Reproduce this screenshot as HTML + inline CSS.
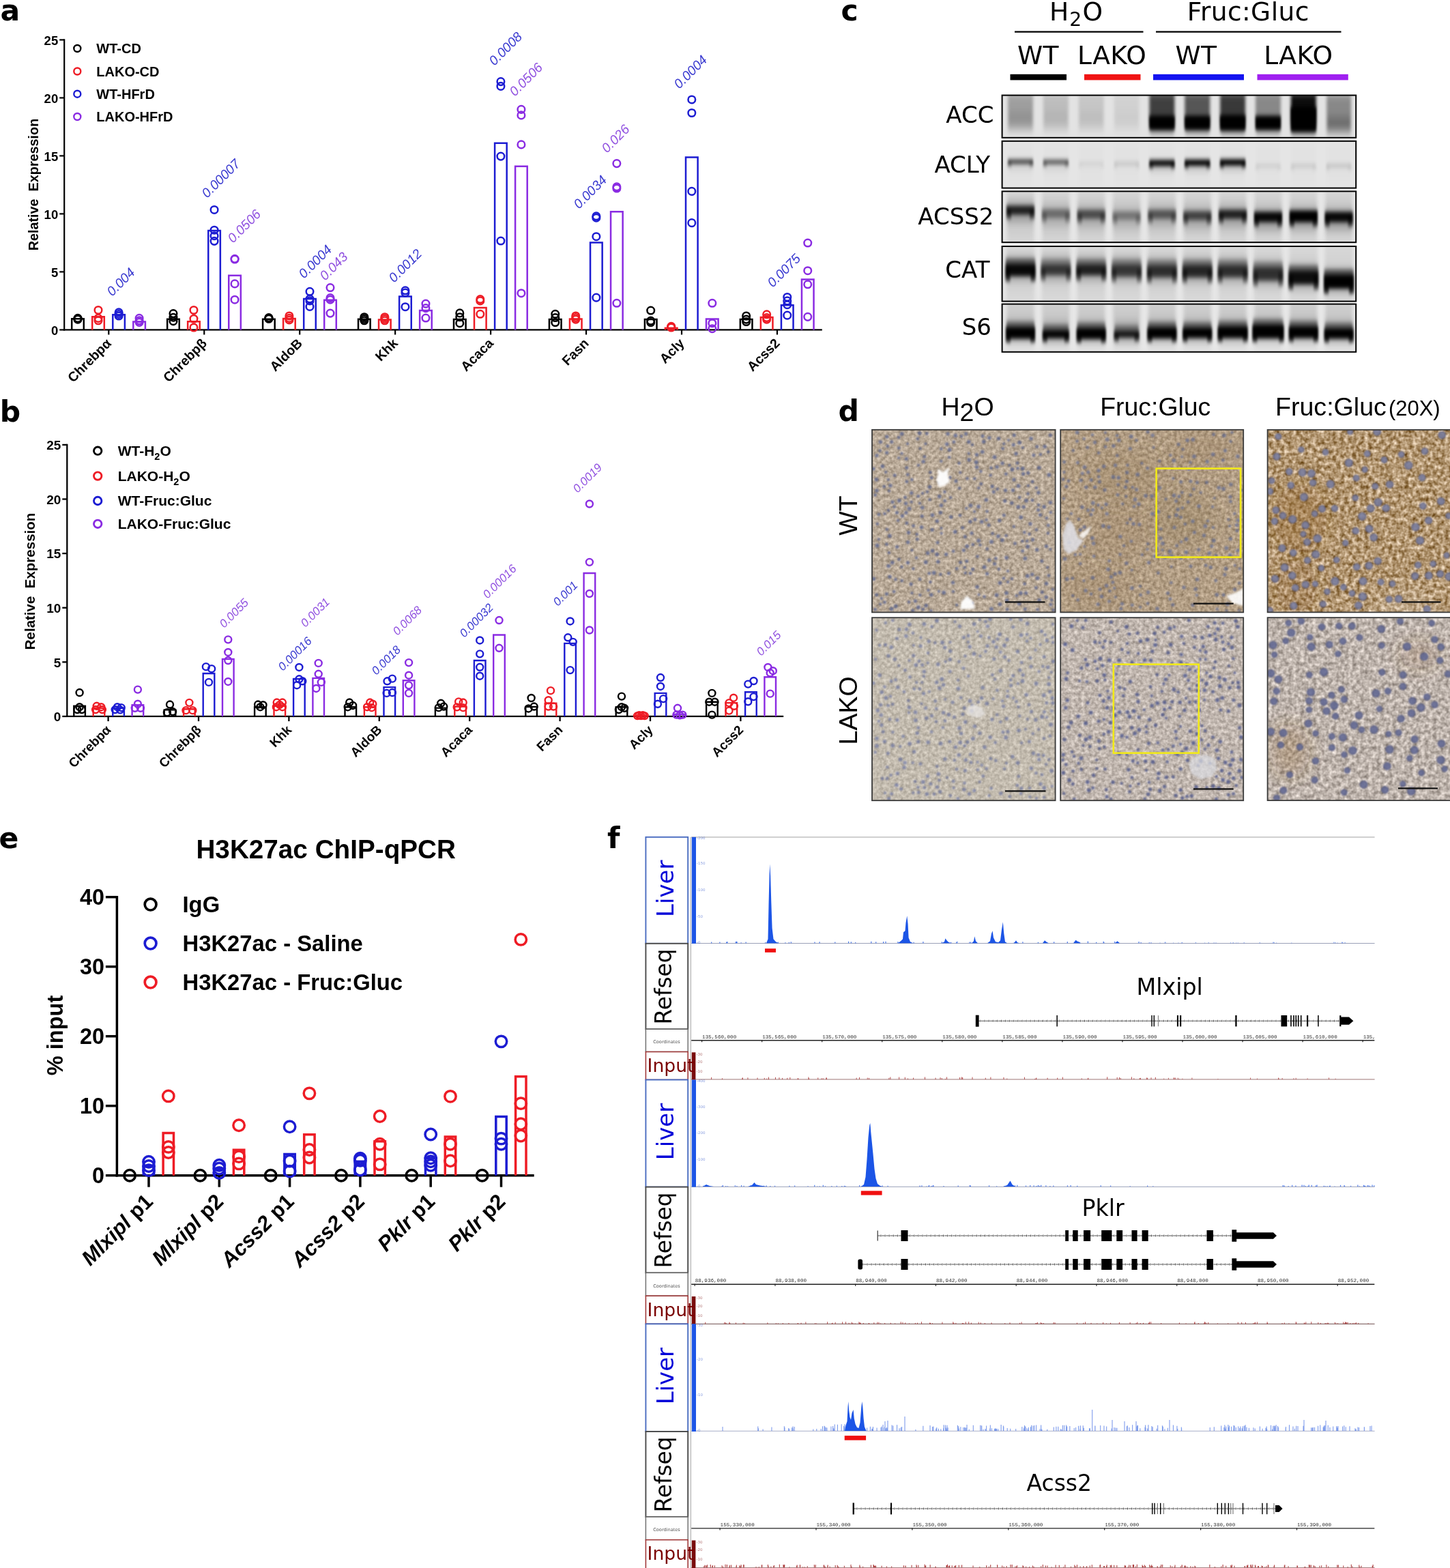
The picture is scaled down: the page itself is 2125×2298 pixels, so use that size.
<!DOCTYPE html>
<html lang="en">
<head>
<meta charset="utf-8">
<title>Figure</title>
<style>
html,body{margin:0;padding:0;background:#fff;}
body{width:2125px;height:2298px;overflow:hidden;}
svg{display:block;}
text{white-space:pre;}
</style>
</head>
<body>
<svg width="2125" height="2298" viewBox="0 0 2125 2298">
<defs>
<filter id="bl2" x="-20%" y="-80%" width="140%" height="260%"><feGaussianBlur stdDeviation="1.7 3"/></filter>
<filter id="bl4" x="-30%" y="-80%" width="160%" height="260%"><feGaussianBlur stdDeviation="2.2 7"/></filter>
<filter id="bl6" x="-30%" y="-50%" width="160%" height="200%"><feGaussianBlur stdDeviation="2.5 10"/></filter>
<clipPath id="bc0"><rect x="1468.6" y="139.6" width="518.6" height="62.2"/></clipPath>
<clipPath id="bc1"><rect x="1468.6" y="206.8" width="518.6" height="68.8"/></clipPath>
<clipPath id="bc2"><rect x="1468.6" y="280.4" width="518.6" height="74.8"/></clipPath>
<clipPath id="bc3"><rect x="1468.6" y="361" width="518.6" height="80.6"/></clipPath>
<clipPath id="bc4"><rect x="1468.6" y="445.6" width="518.6" height="70.2"/></clipPath>
<filter id="nbl" x="-5%" y="-5%" width="110%" height="110%"><feGaussianBlur stdDeviation="0.8"/></filter>
<filter id="ibl" x="-50%" y="-50%" width="200%" height="200%"><feGaussianBlur stdDeviation="12"/></filter>
<filter id="wbl" x="-50%" y="-50%" width="200%" height="200%"><feGaussianBlur stdDeviation="1.5"/></filter>
<filter id="tx0" x="0" y="0" width="100%" height="100%" color-interpolation-filters="sRGB"><feTurbulence type="fractalNoise" baseFrequency="0.2" numOctaves="2" seed="11"/><feColorMatrix type="matrix" values="0.43 0 0 0 0.51  0.43 0 0 0 0.45  0.43 0 0 0 0.38  0 0 0 0 1"/></filter><clipPath id="ic0"><rect x="1278" y="629.8" width="268.6" height="267.6"/></clipPath>
<filter id="tx1" x="0" y="0" width="100%" height="100%" color-interpolation-filters="sRGB"><feTurbulence type="fractalNoise" baseFrequency="0.2" numOctaves="2" seed="12"/><feColorMatrix type="matrix" values="0.4 0 0 0 0.5  0.4 0 0 0 0.42  0.4 0 0 0 0.32  0 0 0 0 1"/></filter><clipPath id="ic1"><rect x="1554.2" y="629.8" width="268" height="267.6"/></clipPath>
<filter id="tx2" x="0" y="0" width="100%" height="100%" color-interpolation-filters="sRGB"><feTurbulence type="fractalNoise" baseFrequency="0.17" numOctaves="2" seed="13"/><feColorMatrix type="matrix" values="0.78 0 0 0 0.31  0.86 0 0 0 0.16  0.99 0 0 0 -0.05  0 0 0 0 1"/></filter><clipPath id="ic2"><rect x="1857.6" y="629.8" width="268.4" height="267.6"/></clipPath>
<filter id="tx3" x="0" y="0" width="100%" height="100%" color-interpolation-filters="sRGB"><feTurbulence type="fractalNoise" baseFrequency="0.2" numOctaves="2" seed="14"/><feColorMatrix type="matrix" values="0.33 0 0 0 0.6  0.33 0 0 0 0.57  0.33 0 0 0 0.52  0 0 0 0 1"/></filter><clipPath id="ic3"><rect x="1278" y="905.2" width="268.6" height="268"/></clipPath>
<filter id="tx4" x="0" y="0" width="100%" height="100%" color-interpolation-filters="sRGB"><feTurbulence type="fractalNoise" baseFrequency="0.2" numOctaves="2" seed="15"/><feColorMatrix type="matrix" values="0.45 0 0 0 0.53  0.45 0 0 0 0.49  0.45 0 0 0 0.46  0 0 0 0 1"/></filter><clipPath id="ic4"><rect x="1554.2" y="905.2" width="268" height="268"/></clipPath>
<filter id="tx5" x="0" y="0" width="100%" height="100%" color-interpolation-filters="sRGB"><feTurbulence type="fractalNoise" baseFrequency="0.17" numOctaves="2" seed="16"/><feColorMatrix type="matrix" values="0.59 0 0 0 0.45  0.59 0 0 0 0.41  0.59 0 0 0 0.38  0 0 0 0 1"/></filter><clipPath id="ic5"><rect x="1857.6" y="905.2" width="268.4" height="268"/></clipPath>
<clipPath id="tclip"><rect x="1010" y="1200" width="1004.6" height="1100"/></clipPath><filter id="tbl" x="-2%" y="-20%" width="104%" height="140%"><feGaussianBlur stdDeviation="0.45"/></filter>
</defs>
<rect width="2125" height="2298" fill="#fff"/>
<line x1="94.2" y1="57.3" x2="94.2" y2="484.5" stroke="#000" stroke-width="2.2"/>
<line x1="93.1" y1="483.4" x2="1204.8" y2="483.4" stroke="#000" stroke-width="2.2"/>
<path d="M105.2 483.4 V467.25 H122.8 V483.4" fill="none" stroke="#000000" stroke-width="2.5"/><circle cx="114" cy="466.4" r="5.3" fill="none" stroke="#000000" stroke-width="2.5"/><circle cx="114" cy="467.25" r="5.3" fill="none" stroke="#000000" stroke-width="2.5"/><circle cx="114" cy="468.1" r="5.3" fill="none" stroke="#000000" stroke-width="2.5"/><path d="M135.2 483.4 V464.36 H152.8 V483.4" fill="none" stroke="#ee1c25" stroke-width="2.5"/><circle cx="144" cy="454.5" r="5.3" fill="none" stroke="#ee1c25" stroke-width="2.5"/><circle cx="144" cy="466.4" r="5.3" fill="none" stroke="#ee1c25" stroke-width="2.5"/><circle cx="144" cy="469.8" r="5.3" fill="none" stroke="#ee1c25" stroke-width="2.5"/><path d="M165.3 483.4 V461.3 H182.9 V483.4" fill="none" stroke="#1c1cd2" stroke-width="2.5"/><circle cx="174.1" cy="457.9" r="5.3" fill="none" stroke="#1c1cd2" stroke-width="2.5"/><circle cx="174.1" cy="460.45" r="5.3" fill="none" stroke="#1c1cd2" stroke-width="2.5"/><circle cx="174.1" cy="463" r="5.3" fill="none" stroke="#1c1cd2" stroke-width="2.5"/><path d="M195.3 483.4 V471.5 H212.9 V483.4" fill="none" stroke="#8a2be2" stroke-width="2.5"/><circle cx="204.1" cy="466.4" r="5.3" fill="none" stroke="#8a2be2" stroke-width="2.5"/><circle cx="204.1" cy="469.8" r="5.3" fill="none" stroke="#8a2be2" stroke-width="2.5"/><circle cx="204.1" cy="472.35" r="5.3" fill="none" stroke="#8a2be2" stroke-width="2.5"/><path d="M245.15 483.4 V467.76 H262.75 V483.4" fill="none" stroke="#000000" stroke-width="2.5"/><circle cx="253.95" cy="459.6" r="5.3" fill="none" stroke="#000000" stroke-width="2.5"/><circle cx="253.95" cy="465.21" r="5.3" fill="none" stroke="#000000" stroke-width="2.5"/><circle cx="253.95" cy="470.65" r="5.3" fill="none" stroke="#000000" stroke-width="2.5"/><path d="M275.15 483.4 V471.16 H292.75 V483.4" fill="none" stroke="#ee1c25" stroke-width="2.5"/><circle cx="283.95" cy="454.5" r="5.3" fill="none" stroke="#ee1c25" stroke-width="2.5"/><circle cx="283.95" cy="467.25" r="5.3" fill="none" stroke="#ee1c25" stroke-width="2.5"/><circle cx="283.95" cy="480" r="5.3" fill="none" stroke="#ee1c25" stroke-width="2.5"/><path d="M305.25 483.4 V338.05 H322.85 V483.4" fill="none" stroke="#1c1cd2" stroke-width="2.5"/><circle cx="314.05" cy="307.45" r="5.3" fill="none" stroke="#1c1cd2" stroke-width="2.5"/><circle cx="314.05" cy="337.2" r="5.3" fill="none" stroke="#1c1cd2" stroke-width="2.5"/><circle cx="314.05" cy="345.7" r="5.3" fill="none" stroke="#1c1cd2" stroke-width="2.5"/><circle cx="314.05" cy="353.35" r="5.3" fill="none" stroke="#1c1cd2" stroke-width="2.5"/><path d="M335.25 483.4 V403.84 H352.85 V483.4" fill="none" stroke="#8a2be2" stroke-width="2.5"/><circle cx="344.05" cy="379.36" r="5.3" fill="none" stroke="#8a2be2" stroke-width="2.5"/><circle cx="344.05" cy="380.04" r="5.3" fill="none" stroke="#8a2be2" stroke-width="2.5"/><circle cx="344.05" cy="415.91" r="5.3" fill="none" stroke="#8a2be2" stroke-width="2.5"/><circle cx="344.05" cy="439.2" r="5.3" fill="none" stroke="#8a2be2" stroke-width="2.5"/><path d="M385.1 483.4 V467.76 H402.7 V483.4" fill="none" stroke="#000000" stroke-width="2.5"/><circle cx="393.9" cy="465.55" r="5.3" fill="none" stroke="#000000" stroke-width="2.5"/><circle cx="393.9" cy="466.4" r="5.3" fill="none" stroke="#000000" stroke-width="2.5"/><circle cx="393.9" cy="467.25" r="5.3" fill="none" stroke="#000000" stroke-width="2.5"/><path d="M415.1 483.4 V467.08 H432.7 V483.4" fill="none" stroke="#ee1c25" stroke-width="2.5"/><circle cx="423.9" cy="463" r="5.3" fill="none" stroke="#ee1c25" stroke-width="2.5"/><circle cx="423.9" cy="466.4" r="5.3" fill="none" stroke="#ee1c25" stroke-width="2.5"/><circle cx="423.9" cy="468.95" r="5.3" fill="none" stroke="#ee1c25" stroke-width="2.5"/><path d="M445.2 483.4 V438.01 H462.8 V483.4" fill="none" stroke="#1c1cd2" stroke-width="2.5"/><circle cx="454" cy="427.3" r="5.3" fill="none" stroke="#1c1cd2" stroke-width="2.5"/><circle cx="454" cy="438.01" r="5.3" fill="none" stroke="#1c1cd2" stroke-width="2.5"/><circle cx="454" cy="440.9" r="5.3" fill="none" stroke="#1c1cd2" stroke-width="2.5"/><circle cx="454" cy="449.4" r="5.3" fill="none" stroke="#1c1cd2" stroke-width="2.5"/><path d="M475.2 483.4 V439.71 H492.8 V483.4" fill="none" stroke="#8a2be2" stroke-width="2.5"/><circle cx="484" cy="421.52" r="5.3" fill="none" stroke="#8a2be2" stroke-width="2.5"/><circle cx="484" cy="436.65" r="5.3" fill="none" stroke="#8a2be2" stroke-width="2.5"/><circle cx="484" cy="439.2" r="5.3" fill="none" stroke="#8a2be2" stroke-width="2.5"/><circle cx="484" cy="459.09" r="5.3" fill="none" stroke="#8a2be2" stroke-width="2.5"/><path d="M525.05 483.4 V467.76 H542.65 V483.4" fill="none" stroke="#000000" stroke-width="2.5"/><circle cx="533.85" cy="464.7" r="5.3" fill="none" stroke="#000000" stroke-width="2.5"/><circle cx="533.85" cy="467.25" r="5.3" fill="none" stroke="#000000" stroke-width="2.5"/><circle cx="533.85" cy="469.8" r="5.3" fill="none" stroke="#000000" stroke-width="2.5"/><path d="M555.05 483.4 V468.61 H572.65 V483.4" fill="none" stroke="#ee1c25" stroke-width="2.5"/><circle cx="563.85" cy="464.7" r="5.3" fill="none" stroke="#ee1c25" stroke-width="2.5"/><circle cx="563.85" cy="467.25" r="5.3" fill="none" stroke="#ee1c25" stroke-width="2.5"/><circle cx="563.85" cy="469.8" r="5.3" fill="none" stroke="#ee1c25" stroke-width="2.5"/><path d="M585.15 483.4 V434.61 H602.75 V483.4" fill="none" stroke="#1c1cd2" stroke-width="2.5"/><circle cx="593.95" cy="425.77" r="5.3" fill="none" stroke="#1c1cd2" stroke-width="2.5"/><circle cx="593.95" cy="429" r="5.3" fill="none" stroke="#1c1cd2" stroke-width="2.5"/><circle cx="593.95" cy="449.74" r="5.3" fill="none" stroke="#1c1cd2" stroke-width="2.5"/><path d="M615.15 483.4 V455.01 H632.75 V483.4" fill="none" stroke="#8a2be2" stroke-width="2.5"/><circle cx="623.95" cy="445.15" r="5.3" fill="none" stroke="#8a2be2" stroke-width="2.5"/><circle cx="623.95" cy="451.61" r="5.3" fill="none" stroke="#8a2be2" stroke-width="2.5"/><circle cx="623.95" cy="466.06" r="5.3" fill="none" stroke="#8a2be2" stroke-width="2.5"/><path d="M665 483.4 V468.1 H682.6 V483.4" fill="none" stroke="#000000" stroke-width="2.5"/><circle cx="673.8" cy="458.92" r="5.3" fill="none" stroke="#000000" stroke-width="2.5"/><circle cx="673.8" cy="464.7" r="5.3" fill="none" stroke="#000000" stroke-width="2.5"/><circle cx="673.8" cy="473.71" r="5.3" fill="none" stroke="#000000" stroke-width="2.5"/><path d="M695 483.4 V450.93 H712.6 V483.4" fill="none" stroke="#ee1c25" stroke-width="2.5"/><circle cx="703.8" cy="438.52" r="5.3" fill="none" stroke="#ee1c25" stroke-width="2.5"/><circle cx="703.8" cy="440.9" r="5.3" fill="none" stroke="#ee1c25" stroke-width="2.5"/><circle cx="703.8" cy="460.28" r="5.3" fill="none" stroke="#ee1c25" stroke-width="2.5"/><path d="M725.1 483.4 V209.7 H742.7 V483.4" fill="none" stroke="#1c1cd2" stroke-width="2.5"/><circle cx="733.9" cy="119.6" r="5.3" fill="none" stroke="#1c1cd2" stroke-width="2.5"/><circle cx="733.9" cy="126.4" r="5.3" fill="none" stroke="#1c1cd2" stroke-width="2.5"/><circle cx="733.9" cy="229.08" r="5.3" fill="none" stroke="#1c1cd2" stroke-width="2.5"/><circle cx="733.9" cy="353.01" r="5.3" fill="none" stroke="#1c1cd2" stroke-width="2.5"/><path d="M755.1 483.4 V243.7 H772.7 V483.4" fill="none" stroke="#8a2be2" stroke-width="2.5"/><circle cx="763.9" cy="160.4" r="5.3" fill="none" stroke="#8a2be2" stroke-width="2.5"/><circle cx="763.9" cy="168.9" r="5.3" fill="none" stroke="#8a2be2" stroke-width="2.5"/><circle cx="763.9" cy="211.91" r="5.3" fill="none" stroke="#8a2be2" stroke-width="2.5"/><circle cx="763.9" cy="429.68" r="5.3" fill="none" stroke="#8a2be2" stroke-width="2.5"/><path d="M804.95 483.4 V468.1 H822.55 V483.4" fill="none" stroke="#000000" stroke-width="2.5"/><circle cx="813.75" cy="460.28" r="5.3" fill="none" stroke="#000000" stroke-width="2.5"/><circle cx="813.75" cy="465.55" r="5.3" fill="none" stroke="#000000" stroke-width="2.5"/><circle cx="813.75" cy="472.52" r="5.3" fill="none" stroke="#000000" stroke-width="2.5"/><path d="M834.95 483.4 V467.42 H852.55 V483.4" fill="none" stroke="#ee1c25" stroke-width="2.5"/><circle cx="843.75" cy="463" r="5.3" fill="none" stroke="#ee1c25" stroke-width="2.5"/><circle cx="843.75" cy="465.55" r="5.3" fill="none" stroke="#ee1c25" stroke-width="2.5"/><circle cx="843.75" cy="468.1" r="5.3" fill="none" stroke="#ee1c25" stroke-width="2.5"/><path d="M865.05 483.4 V355.39 H882.65 V483.4" fill="none" stroke="#1c1cd2" stroke-width="2.5"/><circle cx="873.85" cy="316.8" r="5.3" fill="none" stroke="#1c1cd2" stroke-width="2.5"/><circle cx="873.85" cy="319.18" r="5.3" fill="none" stroke="#1c1cd2" stroke-width="2.5"/><circle cx="873.85" cy="346.72" r="5.3" fill="none" stroke="#1c1cd2" stroke-width="2.5"/><circle cx="873.85" cy="436.14" r="5.3" fill="none" stroke="#1c1cd2" stroke-width="2.5"/><path d="M895.05 483.4 V310.17 H912.65 V483.4" fill="none" stroke="#8a2be2" stroke-width="2.5"/><circle cx="903.85" cy="239.62" r="5.3" fill="none" stroke="#8a2be2" stroke-width="2.5"/><circle cx="903.85" cy="273.79" r="5.3" fill="none" stroke="#8a2be2" stroke-width="2.5"/><circle cx="903.85" cy="276" r="5.3" fill="none" stroke="#8a2be2" stroke-width="2.5"/><circle cx="903.85" cy="444.3" r="5.3" fill="none" stroke="#8a2be2" stroke-width="2.5"/><path d="M944.9 483.4 V468.1 H962.5 V483.4" fill="none" stroke="#000000" stroke-width="2.5"/><circle cx="953.7" cy="455.01" r="5.3" fill="none" stroke="#000000" stroke-width="2.5"/><circle cx="953.7" cy="470.14" r="5.3" fill="none" stroke="#000000" stroke-width="2.5"/><circle cx="953.7" cy="472.52" r="5.3" fill="none" stroke="#000000" stroke-width="2.5"/><path d="M974.9 483.4 V480.85 H992.5 V483.4" fill="none" stroke="#ee1c25" stroke-width="2.5"/><circle cx="983.7" cy="478.3" r="5.3" fill="none" stroke="#ee1c25" stroke-width="2.5"/><circle cx="983.7" cy="479.15" r="5.3" fill="none" stroke="#ee1c25" stroke-width="2.5"/><circle cx="983.7" cy="480" r="5.3" fill="none" stroke="#ee1c25" stroke-width="2.5"/><path d="M1005 483.4 V230.61 H1022.6 V483.4" fill="none" stroke="#1c1cd2" stroke-width="2.5"/><circle cx="1013.8" cy="145.95" r="5.3" fill="none" stroke="#1c1cd2" stroke-width="2.5"/><circle cx="1013.8" cy="165.5" r="5.3" fill="none" stroke="#1c1cd2" stroke-width="2.5"/><circle cx="1013.8" cy="280.42" r="5.3" fill="none" stroke="#1c1cd2" stroke-width="2.5"/><circle cx="1013.8" cy="326.66" r="5.3" fill="none" stroke="#1c1cd2" stroke-width="2.5"/><path d="M1035 483.4 V467.42 H1052.6 V483.4" fill="none" stroke="#8a2be2" stroke-width="2.5"/><circle cx="1043.8" cy="444.3" r="5.3" fill="none" stroke="#8a2be2" stroke-width="2.5"/><circle cx="1043.8" cy="473.71" r="5.3" fill="none" stroke="#8a2be2" stroke-width="2.5"/><circle cx="1043.8" cy="481.7" r="5.3" fill="none" stroke="#8a2be2" stroke-width="2.5"/><path d="M1084.85 483.4 V468.1 H1102.45 V483.4" fill="none" stroke="#000000" stroke-width="2.5"/><circle cx="1093.65" cy="463" r="5.3" fill="none" stroke="#000000" stroke-width="2.5"/><circle cx="1093.65" cy="468.1" r="5.3" fill="none" stroke="#000000" stroke-width="2.5"/><circle cx="1093.65" cy="471.5" r="5.3" fill="none" stroke="#000000" stroke-width="2.5"/><path d="M1114.85 483.4 V465.04 H1132.45 V483.4" fill="none" stroke="#ee1c25" stroke-width="2.5"/><circle cx="1123.65" cy="460.79" r="5.3" fill="none" stroke="#ee1c25" stroke-width="2.5"/><circle cx="1123.65" cy="465.55" r="5.3" fill="none" stroke="#ee1c25" stroke-width="2.5"/><circle cx="1123.65" cy="468.1" r="5.3" fill="none" stroke="#ee1c25" stroke-width="2.5"/><path d="M1144.95 483.4 V447.19 H1162.55 V483.4" fill="none" stroke="#1c1cd2" stroke-width="2.5"/><circle cx="1153.75" cy="435.46" r="5.3" fill="none" stroke="#1c1cd2" stroke-width="2.5"/><circle cx="1153.75" cy="440.9" r="5.3" fill="none" stroke="#1c1cd2" stroke-width="2.5"/><circle cx="1153.75" cy="446.68" r="5.3" fill="none" stroke="#1c1cd2" stroke-width="2.5"/><circle cx="1153.75" cy="462.15" r="5.3" fill="none" stroke="#1c1cd2" stroke-width="2.5"/><path d="M1174.95 483.4 V409.45 H1192.55 V483.4" fill="none" stroke="#8a2be2" stroke-width="2.5"/><circle cx="1183.75" cy="356.07" r="5.3" fill="none" stroke="#8a2be2" stroke-width="2.5"/><circle cx="1183.75" cy="396.7" r="5.3" fill="none" stroke="#8a2be2" stroke-width="2.5"/><circle cx="1183.75" cy="416.76" r="5.3" fill="none" stroke="#8a2be2" stroke-width="2.5"/><circle cx="1183.75" cy="464.36" r="5.3" fill="none" stroke="#8a2be2" stroke-width="2.5"/>
<line x1="87.2" y1="483.4" x2="94.2" y2="483.4" stroke="#000" stroke-width="2.2"/>
<text x="85.2" y="490.56" font-family='"Liberation Sans", sans-serif' font-size="18.5" font-weight="bold" text-anchor="end">0</text>
<line x1="87.2" y1="398.4" x2="94.2" y2="398.4" stroke="#000" stroke-width="2.2"/>
<text x="85.2" y="405.56" font-family='"Liberation Sans", sans-serif' font-size="18.5" font-weight="bold" text-anchor="end">5</text>
<line x1="87.2" y1="313.4" x2="94.2" y2="313.4" stroke="#000" stroke-width="2.2"/>
<text x="85.2" y="320.56" font-family='"Liberation Sans", sans-serif' font-size="18.5" font-weight="bold" text-anchor="end">10</text>
<line x1="87.2" y1="228.4" x2="94.2" y2="228.4" stroke="#000" stroke-width="2.2"/>
<text x="85.2" y="235.56" font-family='"Liberation Sans", sans-serif' font-size="18.5" font-weight="bold" text-anchor="end">15</text>
<line x1="87.2" y1="143.4" x2="94.2" y2="143.4" stroke="#000" stroke-width="2.2"/>
<text x="85.2" y="150.56" font-family='"Liberation Sans", sans-serif' font-size="18.5" font-weight="bold" text-anchor="end">20</text>
<line x1="87.2" y1="58.4" x2="94.2" y2="58.4" stroke="#000" stroke-width="2.2"/>
<text x="85.2" y="65.56" font-family='"Liberation Sans", sans-serif' font-size="18.5" font-weight="bold" text-anchor="end">25</text>
<line x1="159.3" y1="483.4" x2="159.3" y2="490.5" stroke="#000" stroke-width="2.2"/>
<line x1="299.25" y1="483.4" x2="299.25" y2="490.5" stroke="#000" stroke-width="2.2"/>
<line x1="439.2" y1="483.4" x2="439.2" y2="490.5" stroke="#000" stroke-width="2.2"/>
<line x1="579.15" y1="483.4" x2="579.15" y2="490.5" stroke="#000" stroke-width="2.2"/>
<line x1="719.1" y1="483.4" x2="719.1" y2="490.5" stroke="#000" stroke-width="2.2"/>
<line x1="859.05" y1="483.4" x2="859.05" y2="490.5" stroke="#000" stroke-width="2.2"/>
<line x1="999" y1="483.4" x2="999" y2="490.5" stroke="#000" stroke-width="2.2"/>
<line x1="1138.95" y1="483.4" x2="1138.95" y2="490.5" stroke="#000" stroke-width="2.2"/>
<text transform="translate(164.3 504.4) rotate(-45)" font-family='"Liberation Sans", sans-serif' font-size="19.6" font-weight="bold" text-anchor="end">Chrebpα</text>
<text transform="translate(304.25 504.4) rotate(-45)" font-family='"Liberation Sans", sans-serif' font-size="19.6" font-weight="bold" text-anchor="end">Chrebpβ</text>
<text transform="translate(444.2 504.4) rotate(-45)" font-family='"Liberation Sans", sans-serif' font-size="19.6" font-weight="bold" text-anchor="end">AldoB</text>
<text transform="translate(584.15 504.4) rotate(-45)" font-family='"Liberation Sans", sans-serif' font-size="19.6" font-weight="bold" text-anchor="end">Khk</text>
<text transform="translate(724.1 504.4) rotate(-45)" font-family='"Liberation Sans", sans-serif' font-size="19.6" font-weight="bold" text-anchor="end">Acaca</text>
<text transform="translate(864.05 504.4) rotate(-45)" font-family='"Liberation Sans", sans-serif' font-size="19.6" font-weight="bold" text-anchor="end">Fasn</text>
<text transform="translate(1004 504.4) rotate(-45)" font-family='"Liberation Sans", sans-serif' font-size="19.6" font-weight="bold" text-anchor="end">Acly</text>
<text transform="translate(1143.95 504.4) rotate(-45)" font-family='"Liberation Sans", sans-serif' font-size="19.6" font-weight="bold" text-anchor="end">Acss2</text>
<text transform="translate(56 270.5) rotate(-90)" font-family='"Liberation Sans", sans-serif' font-size="19.8" font-weight="bold" text-anchor="middle" xml:space="preserve">Relative  Expression</text>
<circle cx="113.3" cy="71" r="5" fill="none" stroke="#000000" stroke-width="2.4"/>
<text x="141.3" y="78.2" font-family='"Liberation Sans", sans-serif' font-size="20" font-weight="bold">WT-CD</text>
<circle cx="113.3" cy="104.5" r="5" fill="none" stroke="#ee1c25" stroke-width="2.4"/>
<text x="141.3" y="111.7" font-family='"Liberation Sans", sans-serif' font-size="20" font-weight="bold">LAKO-CD</text>
<circle cx="113.3" cy="137.7" r="5" fill="none" stroke="#1c1cd2" stroke-width="2.4"/>
<text x="141.3" y="144.9" font-family='"Liberation Sans", sans-serif' font-size="20" font-weight="bold">WT-HFrD</text>
<circle cx="113.3" cy="171" r="5" fill="none" stroke="#8a2be2" stroke-width="2.4"/>
<text x="141.3" y="178.2" font-family='"Liberation Sans", sans-serif' font-size="20" font-weight="bold">LAKO-HFrD</text>
<text transform="translate(164.5 435) rotate(-45)" font-family='"Liberation Sans", sans-serif' font-size="19.4" font-style="italic" fill="#3a3ad0">0.004</text>
<text transform="translate(303.5 291) rotate(-45)" font-family='"Liberation Sans", sans-serif' font-size="19.4" font-style="italic" fill="#3a3ad0">0.00007</text>
<text transform="translate(341.5 357) rotate(-45)" font-family='"Liberation Sans", sans-serif' font-size="19.4" font-style="italic" fill="#9152e0">0.0506</text>
<text transform="translate(445.5 409) rotate(-45)" font-family='"Liberation Sans", sans-serif' font-size="19.4" font-style="italic" fill="#3a3ad0">0.0004</text>
<text transform="translate(476.5 412) rotate(-45)" font-family='"Liberation Sans", sans-serif' font-size="19.4" font-style="italic" fill="#9152e0">0.043</text>
<text transform="translate(577.5 415) rotate(-45)" font-family='"Liberation Sans", sans-serif' font-size="19.4" font-style="italic" fill="#3a3ad0">0.0012</text>
<text transform="translate(724.5 97) rotate(-45)" font-family='"Liberation Sans", sans-serif' font-size="19.4" font-style="italic" fill="#3a3ad0">0.0008</text>
<text transform="translate(754.5 142) rotate(-45)" font-family='"Liberation Sans", sans-serif' font-size="19.4" font-style="italic" fill="#9152e0">0.0506</text>
<text transform="translate(848.5 307) rotate(-45)" font-family='"Liberation Sans", sans-serif' font-size="19.4" font-style="italic" fill="#3a3ad0">0.0034</text>
<text transform="translate(889.5 225) rotate(-45)" font-family='"Liberation Sans", sans-serif' font-size="19.4" font-style="italic" fill="#9152e0">0.026</text>
<text transform="translate(995.5 131) rotate(-45)" font-family='"Liberation Sans", sans-serif' font-size="19.4" font-style="italic" fill="#3a3ad0">0.0004</text>
<text transform="translate(1132.5 422) rotate(-45)" font-family='"Liberation Sans", sans-serif' font-size="19.4" font-style="italic" fill="#3a3ad0">0.0075</text>
<line x1="98.3" y1="650.75" x2="98.3" y2="1051.05" stroke="#000" stroke-width="2.3"/>
<line x1="97.15" y1="1049.9" x2="1148.2" y2="1049.9" stroke="#000" stroke-width="2.3"/>
<path d="M108.3 1049.9 V1034.78 H124.9 V1049.9" fill="none" stroke="#000000" stroke-width="2.4"/><circle cx="116.6" cy="1015.04" r="5" fill="none" stroke="#000000" stroke-width="2.4"/><circle cx="116.6" cy="1036.21" r="5" fill="none" stroke="#000000" stroke-width="2.4"/><circle cx="113.32" cy="1040.03" r="5" fill="none" stroke="#000000" stroke-width="2.4"/><circle cx="119.88" cy="1040.03" r="5" fill="none" stroke="#000000" stroke-width="2.4"/><path d="M136.7 1049.9 V1037.8 H153.3 V1049.9" fill="none" stroke="#ee1c25" stroke-width="2.4"/><circle cx="141.72" cy="1034.78" r="5" fill="none" stroke="#ee1c25" stroke-width="2.4"/><circle cx="148.28" cy="1036.21" r="5" fill="none" stroke="#ee1c25" stroke-width="2.4"/><circle cx="140.08" cy="1040.03" r="5" fill="none" stroke="#ee1c25" stroke-width="2.4"/><circle cx="149.92" cy="1040.03" r="5" fill="none" stroke="#ee1c25" stroke-width="2.4"/><path d="M165.3 1049.9 V1037.8 H181.9 V1049.9" fill="none" stroke="#1c1cd2" stroke-width="2.4"/><circle cx="171.96" cy="1036.21" r="5" fill="none" stroke="#1c1cd2" stroke-width="2.4"/><circle cx="177.7" cy="1037.16" r="5" fill="none" stroke="#1c1cd2" stroke-width="2.4"/><circle cx="168.68" cy="1040.03" r="5" fill="none" stroke="#1c1cd2" stroke-width="2.4"/><circle cx="176.06" cy="1040.35" r="5" fill="none" stroke="#1c1cd2" stroke-width="2.4"/><path d="M193.6 1049.9 V1033.18 H210.2 V1049.9" fill="none" stroke="#8a2be2" stroke-width="2.4"/><circle cx="201.9" cy="1010.58" r="5" fill="none" stroke="#8a2be2" stroke-width="2.4"/><circle cx="201.9" cy="1031.75" r="5" fill="none" stroke="#8a2be2" stroke-width="2.4"/><circle cx="197.8" cy="1037.8" r="5" fill="none" stroke="#8a2be2" stroke-width="2.4"/><circle cx="206" cy="1037.8" r="5" fill="none" stroke="#8a2be2" stroke-width="2.4"/><path d="M240.7 1049.9 V1040.35 H257.3 V1049.9" fill="none" stroke="#000000" stroke-width="2.4"/><circle cx="249" cy="1032.55" r="5" fill="none" stroke="#000000" stroke-width="2.4"/><circle cx="244.9" cy="1044.17" r="5" fill="none" stroke="#000000" stroke-width="2.4"/><circle cx="253.1" cy="1043.05" r="5" fill="none" stroke="#000000" stroke-width="2.4"/><path d="M269.1 1049.9 V1039.23 H285.7 V1049.9" fill="none" stroke="#ee1c25" stroke-width="2.4"/><circle cx="277.4" cy="1029.84" r="5" fill="none" stroke="#ee1c25" stroke-width="2.4"/><circle cx="272.48" cy="1041.14" r="5" fill="none" stroke="#ee1c25" stroke-width="2.4"/><circle cx="282.32" cy="1041.14" r="5" fill="none" stroke="#ee1c25" stroke-width="2.4"/><path d="M297.7 1049.9 V987.02 H314.3 V1049.9" fill="none" stroke="#1c1cd2" stroke-width="2.4"/><circle cx="301.9" cy="977.15" r="5" fill="none" stroke="#1c1cd2" stroke-width="2.4"/><circle cx="310.1" cy="980.17" r="5" fill="none" stroke="#1c1cd2" stroke-width="2.4"/><circle cx="306" cy="999.91" r="5" fill="none" stroke="#1c1cd2" stroke-width="2.4"/><path d="M326 1049.9 V965.84 H342.6 V1049.9" fill="none" stroke="#8a2be2" stroke-width="2.4"/><circle cx="334.3" cy="937.35" r="5" fill="none" stroke="#8a2be2" stroke-width="2.4"/><circle cx="334.3" cy="955.97" r="5" fill="none" stroke="#8a2be2" stroke-width="2.4"/><circle cx="334.3" cy="968.07" r="5" fill="none" stroke="#8a2be2" stroke-width="2.4"/><circle cx="334.3" cy="998.96" r="5" fill="none" stroke="#8a2be2" stroke-width="2.4"/><path d="M373.1 1049.9 V1036.21 H389.7 V1049.9" fill="none" stroke="#000000" stroke-width="2.4"/><circle cx="378.12" cy="1032.55" r="5" fill="none" stroke="#000000" stroke-width="2.4"/><circle cx="385.5" cy="1033.18" r="5" fill="none" stroke="#000000" stroke-width="2.4"/><circle cx="381.4" cy="1036.21" r="5" fill="none" stroke="#000000" stroke-width="2.4"/><path d="M401.5 1049.9 V1034.78 H418.1 V1049.9" fill="none" stroke="#ee1c25" stroke-width="2.4"/><circle cx="405.7" cy="1029.52" r="5" fill="none" stroke="#ee1c25" stroke-width="2.4"/><circle cx="413.9" cy="1029.52" r="5" fill="none" stroke="#ee1c25" stroke-width="2.4"/><circle cx="404.88" cy="1036.21" r="5" fill="none" stroke="#ee1c25" stroke-width="2.4"/><circle cx="413.9" cy="1036.21" r="5" fill="none" stroke="#ee1c25" stroke-width="2.4"/><circle cx="409.8" cy="1032.87" r="5" fill="none" stroke="#ee1c25" stroke-width="2.4"/><path d="M430.1 1049.9 V994.98 H446.7 V1049.9" fill="none" stroke="#1c1cd2" stroke-width="2.4"/><circle cx="438.4" cy="977.94" r="5" fill="none" stroke="#1c1cd2" stroke-width="2.4"/><circle cx="438.4" cy="995.29" r="5" fill="none" stroke="#1c1cd2" stroke-width="2.4"/><circle cx="443.32" cy="998.32" r="5" fill="none" stroke="#1c1cd2" stroke-width="2.4"/><circle cx="435.12" cy="1004.21" r="5" fill="none" stroke="#1c1cd2" stroke-width="2.4"/><path d="M458.4 1049.9 V993.86 H475 V1049.9" fill="none" stroke="#8a2be2" stroke-width="2.4"/><circle cx="466.7" cy="971.89" r="5" fill="none" stroke="#8a2be2" stroke-width="2.4"/><circle cx="466.7" cy="987.81" r="5" fill="none" stroke="#8a2be2" stroke-width="2.4"/><circle cx="470.8" cy="999.91" r="5" fill="none" stroke="#8a2be2" stroke-width="2.4"/><circle cx="463.42" cy="1008.99" r="5" fill="none" stroke="#8a2be2" stroke-width="2.4"/><path d="M505.5 1049.9 V1036.21 H522.1 V1049.9" fill="none" stroke="#000000" stroke-width="2.4"/><circle cx="512.16" cy="1029.52" r="5" fill="none" stroke="#000000" stroke-width="2.4"/><circle cx="517.08" cy="1033.98" r="5" fill="none" stroke="#000000" stroke-width="2.4"/><circle cx="509.7" cy="1036.21" r="5" fill="none" stroke="#000000" stroke-width="2.4"/><path d="M533.9 1049.9 V1036.21 H550.5 V1049.9" fill="none" stroke="#ee1c25" stroke-width="2.4"/><circle cx="542.2" cy="1029.52" r="5" fill="none" stroke="#ee1c25" stroke-width="2.4"/><circle cx="546.3" cy="1031.75" r="5" fill="none" stroke="#ee1c25" stroke-width="2.4"/><circle cx="538.1" cy="1036.21" r="5" fill="none" stroke="#ee1c25" stroke-width="2.4"/><circle cx="544.66" cy="1037.16" r="5" fill="none" stroke="#ee1c25" stroke-width="2.4"/><path d="M562.5 1049.9 V1007.08 H579.1 V1049.9" fill="none" stroke="#1c1cd2" stroke-width="2.4"/><circle cx="574.9" cy="994.66" r="5" fill="none" stroke="#1c1cd2" stroke-width="2.4"/><circle cx="567.52" cy="998.32" r="5" fill="none" stroke="#1c1cd2" stroke-width="2.4"/><circle cx="566.7" cy="1015.83" r="5" fill="none" stroke="#1c1cd2" stroke-width="2.4"/><circle cx="574.9" cy="1015.04" r="5" fill="none" stroke="#1c1cd2" stroke-width="2.4"/><path d="M590.8 1049.9 V997.2 H607.4 V1049.9" fill="none" stroke="#8a2be2" stroke-width="2.4"/><circle cx="599.1" cy="971.1" r="5" fill="none" stroke="#8a2be2" stroke-width="2.4"/><circle cx="599.1" cy="989.72" r="5" fill="none" stroke="#8a2be2" stroke-width="2.4"/><circle cx="599.1" cy="1004.37" r="5" fill="none" stroke="#8a2be2" stroke-width="2.4"/><circle cx="599.1" cy="1015.83" r="5" fill="none" stroke="#8a2be2" stroke-width="2.4"/><path d="M637.9 1049.9 V1037.64 H654.5 V1049.9" fill="none" stroke="#000000" stroke-width="2.4"/><circle cx="646.2" cy="1030.8" r="5" fill="none" stroke="#000000" stroke-width="2.4"/><circle cx="642.92" cy="1037.16" r="5" fill="none" stroke="#000000" stroke-width="2.4"/><circle cx="650.3" cy="1035.57" r="5" fill="none" stroke="#000000" stroke-width="2.4"/><path d="M666.3 1049.9 V1035.57 H682.9 V1049.9" fill="none" stroke="#ee1c25" stroke-width="2.4"/><circle cx="672.14" cy="1028.41" r="5" fill="none" stroke="#ee1c25" stroke-width="2.4"/><circle cx="678.7" cy="1029.52" r="5" fill="none" stroke="#ee1c25" stroke-width="2.4"/><circle cx="669.68" cy="1036.37" r="5" fill="none" stroke="#ee1c25" stroke-width="2.4"/><circle cx="678.7" cy="1037.16" r="5" fill="none" stroke="#ee1c25" stroke-width="2.4"/><path d="M694.9 1049.9 V968.07 H711.5 V1049.9" fill="none" stroke="#1c1cd2" stroke-width="2.4"/><circle cx="703.2" cy="938.46" r="5" fill="none" stroke="#1c1cd2" stroke-width="2.4"/><circle cx="703.2" cy="958.36" r="5" fill="none" stroke="#1c1cd2" stroke-width="2.4"/><circle cx="703.2" cy="977.78" r="5" fill="none" stroke="#1c1cd2" stroke-width="2.4"/><circle cx="703.2" cy="990.68" r="5" fill="none" stroke="#1c1cd2" stroke-width="2.4"/><path d="M723.2 1049.9 V930.5 H739.8 V1049.9" fill="none" stroke="#8a2be2" stroke-width="2.4"/><circle cx="731.5" cy="909.01" r="5" fill="none" stroke="#8a2be2" stroke-width="2.4"/><circle cx="731.5" cy="949.76" r="5" fill="none" stroke="#8a2be2" stroke-width="2.4"/><path d="M770.3 1049.9 V1035.89 H786.9 V1049.9" fill="none" stroke="#000000" stroke-width="2.4"/><circle cx="778.6" cy="1023" r="5" fill="none" stroke="#000000" stroke-width="2.4"/><circle cx="774.5" cy="1038.44" r="5" fill="none" stroke="#000000" stroke-width="2.4"/><circle cx="782.7" cy="1035.57" r="5" fill="none" stroke="#000000" stroke-width="2.4"/><path d="M798.7 1049.9 V1030.8 H815.3 V1049.9" fill="none" stroke="#ee1c25" stroke-width="2.4"/><circle cx="807" cy="1012.17" r="5" fill="none" stroke="#ee1c25" stroke-width="2.4"/><circle cx="803.72" cy="1026.18" r="5" fill="none" stroke="#ee1c25" stroke-width="2.4"/><circle cx="803.72" cy="1035.57" r="5" fill="none" stroke="#ee1c25" stroke-width="2.4"/><circle cx="811.1" cy="1035.57" r="5" fill="none" stroke="#ee1c25" stroke-width="2.4"/><path d="M827.3 1049.9 V942.92 H843.9 V1049.9" fill="none" stroke="#1c1cd2" stroke-width="2.4"/><circle cx="835.6" cy="910.44" r="5" fill="none" stroke="#1c1cd2" stroke-width="2.4"/><circle cx="832.32" cy="934.32" r="5" fill="none" stroke="#1c1cd2" stroke-width="2.4"/><circle cx="839.7" cy="940.85" r="5" fill="none" stroke="#1c1cd2" stroke-width="2.4"/><circle cx="835.6" cy="982.08" r="5" fill="none" stroke="#1c1cd2" stroke-width="2.4"/><path d="M855.6 1049.9 V840.07 H872.2 V1049.9" fill="none" stroke="#8a2be2" stroke-width="2.4"/><circle cx="863.9" cy="738.5" r="5" fill="none" stroke="#8a2be2" stroke-width="2.4"/><circle cx="863.9" cy="823.84" r="5" fill="none" stroke="#8a2be2" stroke-width="2.4"/><circle cx="863.9" cy="870" r="5" fill="none" stroke="#8a2be2" stroke-width="2.4"/><circle cx="863.9" cy="923.5" r="5" fill="none" stroke="#8a2be2" stroke-width="2.4"/><path d="M902.7 1049.9 V1036.21 H919.3 V1049.9" fill="none" stroke="#000000" stroke-width="2.4"/><circle cx="911" cy="1020.61" r="5" fill="none" stroke="#000000" stroke-width="2.4"/><circle cx="906.9" cy="1040.03" r="5" fill="none" stroke="#000000" stroke-width="2.4"/><circle cx="915.1" cy="1037.8" r="5" fill="none" stroke="#000000" stroke-width="2.4"/><circle cx="911" cy="1036.21" r="5" fill="none" stroke="#000000" stroke-width="2.4"/><path d="M931.1 1049.9 V1049.1 H947.7 V1049.9" fill="none" stroke="#ee1c25" stroke-width="2.4"/><circle cx="934.07" cy="1049.1" r="5" fill="none" stroke="#ee1c25" stroke-width="2.4"/><circle cx="936.78" cy="1048.31" r="5" fill="none" stroke="#ee1c25" stroke-width="2.4"/><circle cx="939.4" cy="1049.1" r="5" fill="none" stroke="#ee1c25" stroke-width="2.4"/><circle cx="942.02" cy="1048.31" r="5" fill="none" stroke="#ee1c25" stroke-width="2.4"/><circle cx="944.73" cy="1049.1" r="5" fill="none" stroke="#ee1c25" stroke-width="2.4"/><path d="M959.7 1049.9 V1015.83 H976.3 V1049.9" fill="none" stroke="#1c1cd2" stroke-width="2.4"/><circle cx="968" cy="993.07" r="5" fill="none" stroke="#1c1cd2" stroke-width="2.4"/><circle cx="968" cy="1005.96" r="5" fill="none" stroke="#1c1cd2" stroke-width="2.4"/><circle cx="972.1" cy="1024.11" r="5" fill="none" stroke="#1c1cd2" stroke-width="2.4"/><circle cx="963.9" cy="1031.75" r="5" fill="none" stroke="#1c1cd2" stroke-width="2.4"/><path d="M988 1049.9 V1046.72 H1004.6 V1049.9" fill="none" stroke="#8a2be2" stroke-width="2.4"/><circle cx="993.02" cy="1037.8" r="5" fill="none" stroke="#8a2be2" stroke-width="2.4"/><circle cx="991.38" cy="1047.67" r="5" fill="none" stroke="#8a2be2" stroke-width="2.4"/><circle cx="1000.4" cy="1047.67" r="5" fill="none" stroke="#8a2be2" stroke-width="2.4"/><circle cx="996.3" cy="1048.31" r="5" fill="none" stroke="#8a2be2" stroke-width="2.4"/><path d="M1035.1 1049.9 V1028.73 H1051.7 V1049.9" fill="none" stroke="#000000" stroke-width="2.4"/><circle cx="1043.4" cy="1015.83" r="5" fill="none" stroke="#000000" stroke-width="2.4"/><circle cx="1039.3" cy="1028.73" r="5" fill="none" stroke="#000000" stroke-width="2.4"/><circle cx="1047.5" cy="1028.73" r="5" fill="none" stroke="#000000" stroke-width="2.4"/><circle cx="1043.4" cy="1047.67" r="5" fill="none" stroke="#000000" stroke-width="2.4"/><path d="M1063.5 1049.9 V1030.16 H1080.1 V1049.9" fill="none" stroke="#ee1c25" stroke-width="2.4"/><circle cx="1075.08" cy="1022.68" r="5" fill="none" stroke="#ee1c25" stroke-width="2.4"/><circle cx="1068.52" cy="1030.16" r="5" fill="none" stroke="#ee1c25" stroke-width="2.4"/><circle cx="1075.9" cy="1034.78" r="5" fill="none" stroke="#ee1c25" stroke-width="2.4"/><circle cx="1068.52" cy="1041.62" r="5" fill="none" stroke="#ee1c25" stroke-width="2.4"/><path d="M1092.1 1049.9 V1014.24 H1108.7 V1049.9" fill="none" stroke="#1c1cd2" stroke-width="2.4"/><circle cx="1104.5" cy="998" r="5" fill="none" stroke="#1c1cd2" stroke-width="2.4"/><circle cx="1096.3" cy="1002.62" r="5" fill="none" stroke="#1c1cd2" stroke-width="2.4"/><circle cx="1104.5" cy="1021.08" r="5" fill="none" stroke="#1c1cd2" stroke-width="2.4"/><circle cx="1096.3" cy="1028.25" r="5" fill="none" stroke="#1c1cd2" stroke-width="2.4"/><path d="M1120.4 1049.9 V992.27 H1137 V1049.9" fill="none" stroke="#8a2be2" stroke-width="2.4"/><circle cx="1125.42" cy="977.94" r="5" fill="none" stroke="#8a2be2" stroke-width="2.4"/><circle cx="1132.8" cy="983.2" r="5" fill="none" stroke="#8a2be2" stroke-width="2.4"/><circle cx="1128.7" cy="986.22" r="5" fill="none" stroke="#8a2be2" stroke-width="2.4"/><circle cx="1128.7" cy="1016.63" r="5" fill="none" stroke="#8a2be2" stroke-width="2.4"/>
<line x1="91.3" y1="1049.9" x2="98.3" y2="1049.9" stroke="#000" stroke-width="2.3"/>
<text x="89.3" y="1057.24" font-family='"Liberation Sans", sans-serif' font-size="19" font-weight="bold" text-anchor="end">0</text>
<line x1="91.3" y1="970.3" x2="98.3" y2="970.3" stroke="#000" stroke-width="2.3"/>
<text x="89.3" y="977.64" font-family='"Liberation Sans", sans-serif' font-size="19" font-weight="bold" text-anchor="end">5</text>
<line x1="91.3" y1="890.7" x2="98.3" y2="890.7" stroke="#000" stroke-width="2.3"/>
<text x="89.3" y="898.04" font-family='"Liberation Sans", sans-serif' font-size="19" font-weight="bold" text-anchor="end">10</text>
<line x1="91.3" y1="811.1" x2="98.3" y2="811.1" stroke="#000" stroke-width="2.3"/>
<text x="89.3" y="818.44" font-family='"Liberation Sans", sans-serif' font-size="19" font-weight="bold" text-anchor="end">15</text>
<line x1="91.3" y1="731.5" x2="98.3" y2="731.5" stroke="#000" stroke-width="2.3"/>
<text x="89.3" y="738.84" font-family='"Liberation Sans", sans-serif' font-size="19" font-weight="bold" text-anchor="end">20</text>
<line x1="91.3" y1="651.9" x2="98.3" y2="651.9" stroke="#000" stroke-width="2.3"/>
<text x="89.3" y="659.24" font-family='"Liberation Sans", sans-serif' font-size="19" font-weight="bold" text-anchor="end">25</text>
<line x1="158.6" y1="1049.9" x2="158.6" y2="1057.05" stroke="#000" stroke-width="2.3"/>
<line x1="291" y1="1049.9" x2="291" y2="1057.05" stroke="#000" stroke-width="2.3"/>
<line x1="423.4" y1="1049.9" x2="423.4" y2="1057.05" stroke="#000" stroke-width="2.3"/>
<line x1="555.8" y1="1049.9" x2="555.8" y2="1057.05" stroke="#000" stroke-width="2.3"/>
<line x1="688.2" y1="1049.9" x2="688.2" y2="1057.05" stroke="#000" stroke-width="2.3"/>
<line x1="820.6" y1="1049.9" x2="820.6" y2="1057.05" stroke="#000" stroke-width="2.3"/>
<line x1="953" y1="1049.9" x2="953" y2="1057.05" stroke="#000" stroke-width="2.3"/>
<line x1="1085.4" y1="1049.9" x2="1085.4" y2="1057.05" stroke="#000" stroke-width="2.3"/>
<text transform="translate(163.6 1070.9) rotate(-45)" font-family='"Liberation Sans", sans-serif' font-size="19" font-weight="bold" text-anchor="end">Chrebpα</text>
<text transform="translate(296 1070.9) rotate(-45)" font-family='"Liberation Sans", sans-serif' font-size="19" font-weight="bold" text-anchor="end">Chrebpβ</text>
<text transform="translate(428.4 1070.9) rotate(-45)" font-family='"Liberation Sans", sans-serif' font-size="19" font-weight="bold" text-anchor="end">Khk</text>
<text transform="translate(560.8 1070.9) rotate(-45)" font-family='"Liberation Sans", sans-serif' font-size="19" font-weight="bold" text-anchor="end">AldoB</text>
<text transform="translate(693.2 1070.9) rotate(-45)" font-family='"Liberation Sans", sans-serif' font-size="19" font-weight="bold" text-anchor="end">Acaca</text>
<text transform="translate(825.6 1070.9) rotate(-45)" font-family='"Liberation Sans", sans-serif' font-size="19" font-weight="bold" text-anchor="end">Fasn</text>
<text transform="translate(958 1070.9) rotate(-45)" font-family='"Liberation Sans", sans-serif' font-size="19" font-weight="bold" text-anchor="end">Acly</text>
<text transform="translate(1090.4 1070.9) rotate(-45)" font-family='"Liberation Sans", sans-serif' font-size="19" font-weight="bold" text-anchor="end">Acss2</text>
<text transform="translate(50.5 852) rotate(-90)" font-family='"Liberation Sans", sans-serif' font-size="20.5" font-weight="bold" text-anchor="middle" xml:space="preserve">Relative  Expression</text>
<circle cx="143.2" cy="660.7" r="5.7" fill="none" stroke="#000000" stroke-width="2.9"/>
<text x="172.7" y="667.66" font-family='"Liberation Sans", sans-serif' font-size="21" font-weight="bold">WT-H<tspan font-size="14.5" dy="6">2</tspan><tspan dy="-6">O</tspan></text>
<circle cx="143.2" cy="697.6" r="5.7" fill="none" stroke="#ee1c25" stroke-width="2.9"/>
<text x="172.7" y="704.56" font-family='"Liberation Sans", sans-serif' font-size="21" font-weight="bold">LAKO-H<tspan font-size="14.5" dy="6">2</tspan><tspan dy="-6">O</tspan></text>
<circle cx="143.2" cy="734" r="5.7" fill="none" stroke="#1c1cd2" stroke-width="2.9"/>
<text x="172.7" y="740.96" font-family='"Liberation Sans", sans-serif' font-size="21" font-weight="bold">WT-Fruc:Gluc</text>
<circle cx="143.2" cy="767.8" r="5.7" fill="none" stroke="#8a2be2" stroke-width="2.9"/>
<text x="172.7" y="774.76" font-family='"Liberation Sans", sans-serif' font-size="21" font-weight="bold">LAKO-Fruc:Gluc</text>
<text transform="translate(328.5 921) rotate(-45)" font-family='"Liberation Sans", sans-serif' font-size="17" font-style="italic" fill="#9152e0">0.0055</text>
<text transform="translate(414.5 984) rotate(-45)" font-family='"Liberation Sans", sans-serif' font-size="17" font-style="italic" fill="#3a3ad0">0.00016</text>
<text transform="translate(447.5 920) rotate(-45)" font-family='"Liberation Sans", sans-serif' font-size="17" font-style="italic" fill="#9152e0">0.0031</text>
<text transform="translate(551.5 990) rotate(-45)" font-family='"Liberation Sans", sans-serif' font-size="17" font-style="italic" fill="#3a3ad0">0.0018</text>
<text transform="translate(582.5 932) rotate(-45)" font-family='"Liberation Sans", sans-serif' font-size="17" font-style="italic" fill="#9152e0">0.0068</text>
<text transform="translate(680.5 935) rotate(-45)" font-family='"Liberation Sans", sans-serif' font-size="17" font-style="italic" fill="#3a3ad0">0.00032</text>
<text transform="translate(714.5 878) rotate(-45)" font-family='"Liberation Sans", sans-serif' font-size="17" font-style="italic" fill="#9152e0">0.00016</text>
<text transform="translate(817.5 889) rotate(-45)" font-family='"Liberation Sans", sans-serif' font-size="17" font-style="italic" fill="#3a3ad0">0.001</text>
<text transform="translate(846.5 723) rotate(-45)" font-family='"Liberation Sans", sans-serif' font-size="17" font-style="italic" fill="#9152e0">0.0019</text>
<text transform="translate(1115.5 962) rotate(-45)" font-family='"Liberation Sans", sans-serif' font-size="17" font-style="italic" fill="#9152e0">0.015</text>
<line x1="171.4" y1="1312.95" x2="171.4" y2="1724.45" stroke="#000" stroke-width="3.5"/>
<line x1="169.65" y1="1722.7" x2="782.7" y2="1722.7" stroke="#000" stroke-width="3.5"/>
<line x1="218" y1="1722.7" x2="218" y2="1739.7" stroke="#000" stroke-width="3.5"/>
<line x1="321.3" y1="1722.7" x2="321.3" y2="1739.7" stroke="#000" stroke-width="3.5"/>
<line x1="424.6" y1="1722.7" x2="424.6" y2="1739.7" stroke="#000" stroke-width="3.5"/>
<line x1="527.9" y1="1722.7" x2="527.9" y2="1739.7" stroke="#000" stroke-width="3.5"/>
<line x1="631.2" y1="1722.7" x2="631.2" y2="1739.7" stroke="#000" stroke-width="3.5"/>
<line x1="734.5" y1="1722.7" x2="734.5" y2="1739.7" stroke="#000" stroke-width="3.5"/>
<path d="M210.3 1722.7 V1709.44 H225.7 V1722.7" fill="none" stroke="#1c1cd2" stroke-width="3.5"/>
<circle cx="218" cy="1702.81" r="8.2" fill="none" stroke="#1c1cd2" stroke-width="3.5"/>
<circle cx="218" cy="1708.93" r="8.2" fill="none" stroke="#1c1cd2" stroke-width="3.5"/>
<circle cx="218" cy="1715.25" r="8.2" fill="none" stroke="#1c1cd2" stroke-width="3.5"/>
<path d="M239.1 1722.7 V1660.48 H254.5 V1722.7" fill="none" stroke="#ee1c25" stroke-width="3.5"/>
<circle cx="246.8" cy="1606.42" r="8.2" fill="none" stroke="#ee1c25" stroke-width="3.5"/>
<circle cx="246.8" cy="1680.88" r="8.2" fill="none" stroke="#ee1c25" stroke-width="3.5"/>
<circle cx="246.8" cy="1689.04" r="8.2" fill="none" stroke="#ee1c25" stroke-width="3.5"/>
<path d="M313.6 1722.7 V1713.52 H329 V1722.7" fill="none" stroke="#1c1cd2" stroke-width="3.5"/>
<circle cx="321.3" cy="1707.71" r="8.2" fill="none" stroke="#1c1cd2" stroke-width="3.5"/>
<circle cx="321.3" cy="1712.5" r="8.2" fill="none" stroke="#1c1cd2" stroke-width="3.5"/>
<circle cx="321.3" cy="1718.93" r="8.2" fill="none" stroke="#1c1cd2" stroke-width="3.5"/>
<path d="M342.4 1722.7 V1685.27 H357.8 V1722.7" fill="none" stroke="#ee1c25" stroke-width="3.5"/>
<circle cx="350.1" cy="1649.26" r="8.2" fill="none" stroke="#ee1c25" stroke-width="3.5"/>
<circle cx="350.1" cy="1695.16" r="8.2" fill="none" stroke="#ee1c25" stroke-width="3.5"/>
<circle cx="350.1" cy="1705.36" r="8.2" fill="none" stroke="#ee1c25" stroke-width="3.5"/>
<path d="M416.9 1722.7 V1691.49 H432.3 V1722.7" fill="none" stroke="#1c1cd2" stroke-width="3.5"/>
<circle cx="424.6" cy="1651.3" r="8.2" fill="none" stroke="#1c1cd2" stroke-width="3.5"/>
<circle cx="424.6" cy="1701.48" r="8.2" fill="none" stroke="#1c1cd2" stroke-width="3.5"/>
<circle cx="424.6" cy="1716.58" r="8.2" fill="none" stroke="#1c1cd2" stroke-width="3.5"/>
<path d="M445.7 1722.7 V1662.83 H461.1 V1722.7" fill="none" stroke="#ee1c25" stroke-width="3.5"/>
<circle cx="453.4" cy="1602.34" r="8.2" fill="none" stroke="#ee1c25" stroke-width="3.5"/>
<circle cx="453.4" cy="1684.96" r="8.2" fill="none" stroke="#ee1c25" stroke-width="3.5"/>
<circle cx="453.4" cy="1696.49" r="8.2" fill="none" stroke="#ee1c25" stroke-width="3.5"/>
<path d="M520.2 1722.7 V1702.3 H535.6 V1722.7" fill="none" stroke="#1c1cd2" stroke-width="3.5"/>
<circle cx="527.9" cy="1697.71" r="8.2" fill="none" stroke="#1c1cd2" stroke-width="3.5"/>
<circle cx="527.9" cy="1700.77" r="8.2" fill="none" stroke="#1c1cd2" stroke-width="3.5"/>
<circle cx="527.9" cy="1714.54" r="8.2" fill="none" stroke="#1c1cd2" stroke-width="3.5"/>
<path d="M549 1722.7 V1672.72 H564.4 V1722.7" fill="none" stroke="#ee1c25" stroke-width="3.5"/>
<circle cx="556.7" cy="1636" r="8.2" fill="none" stroke="#ee1c25" stroke-width="3.5"/>
<circle cx="556.7" cy="1676.8" r="8.2" fill="none" stroke="#ee1c25" stroke-width="3.5"/>
<circle cx="556.7" cy="1706.38" r="8.2" fill="none" stroke="#ee1c25" stroke-width="3.5"/>
<path d="M623.5 1722.7 V1697.2 H638.9 V1722.7" fill="none" stroke="#1c1cd2" stroke-width="3.5"/>
<circle cx="631.2" cy="1662.52" r="8.2" fill="none" stroke="#1c1cd2" stroke-width="3.5"/>
<circle cx="631.2" cy="1697.2" r="8.2" fill="none" stroke="#1c1cd2" stroke-width="3.5"/>
<circle cx="631.2" cy="1702.3" r="8.2" fill="none" stroke="#1c1cd2" stroke-width="3.5"/>
<circle cx="631.2" cy="1707.81" r="8.2" fill="none" stroke="#1c1cd2" stroke-width="3.5"/>
<path d="M652.3 1722.7 V1665.89 H667.7 V1722.7" fill="none" stroke="#ee1c25" stroke-width="3.5"/>
<circle cx="660" cy="1606.83" r="8.2" fill="none" stroke="#ee1c25" stroke-width="3.5"/>
<circle cx="660" cy="1676.8" r="8.2" fill="none" stroke="#ee1c25" stroke-width="3.5"/>
<circle cx="660" cy="1701.28" r="8.2" fill="none" stroke="#ee1c25" stroke-width="3.5"/>
<path d="M726.8 1722.7 V1636.61 H742.2 V1722.7" fill="none" stroke="#1c1cd2" stroke-width="3.5"/>
<circle cx="734.5" cy="1526.35" r="8.2" fill="none" stroke="#1c1cd2" stroke-width="3.5"/>
<circle cx="734.5" cy="1668.64" r="8.2" fill="none" stroke="#1c1cd2" stroke-width="3.5"/>
<circle cx="734.5" cy="1676.8" r="8.2" fill="none" stroke="#1c1cd2" stroke-width="3.5"/>
<path d="M755.6 1722.7 V1577.86 H771 V1722.7" fill="none" stroke="#ee1c25" stroke-width="3.5"/>
<circle cx="763.3" cy="1376.92" r="8.2" fill="none" stroke="#ee1c25" stroke-width="3.5"/>
<circle cx="763.3" cy="1617.13" r="8.2" fill="none" stroke="#ee1c25" stroke-width="3.5"/>
<circle cx="763.3" cy="1647.22" r="8.2" fill="none" stroke="#ee1c25" stroke-width="3.5"/>
<circle cx="763.3" cy="1664.56" r="8.2" fill="none" stroke="#ee1c25" stroke-width="3.5"/>
<circle cx="190.1" cy="1722.7" r="8.2" fill="none" stroke="#000000" stroke-width="3.5"/>
<circle cx="293.4" cy="1722.7" r="8.2" fill="none" stroke="#000000" stroke-width="3.5"/>
<circle cx="396.7" cy="1722.7" r="8.2" fill="none" stroke="#000000" stroke-width="3.5"/>
<circle cx="500" cy="1722.7" r="8.2" fill="none" stroke="#000000" stroke-width="3.5"/>
<circle cx="603.3" cy="1722.7" r="8.2" fill="none" stroke="#000000" stroke-width="3.5"/>
<circle cx="706.6" cy="1722.7" r="8.2" fill="none" stroke="#000000" stroke-width="3.5"/>
<line x1="154.9" y1="1722.7" x2="171.4" y2="1722.7" stroke="#000" stroke-width="3.5"/>
<text x="152.9" y="1734.3" font-family='"Liberation Sans", sans-serif' font-size="32.3" font-weight="bold" text-anchor="end">0</text>
<line x1="154.9" y1="1620.7" x2="171.4" y2="1620.7" stroke="#000" stroke-width="3.5"/>
<text x="152.9" y="1632.3" font-family='"Liberation Sans", sans-serif' font-size="32.3" font-weight="bold" text-anchor="end">10</text>
<line x1="154.9" y1="1518.7" x2="171.4" y2="1518.7" stroke="#000" stroke-width="3.5"/>
<text x="152.9" y="1530.3" font-family='"Liberation Sans", sans-serif' font-size="32.3" font-weight="bold" text-anchor="end">20</text>
<line x1="154.9" y1="1416.7" x2="171.4" y2="1416.7" stroke="#000" stroke-width="3.5"/>
<text x="152.9" y="1428.3" font-family='"Liberation Sans", sans-serif' font-size="32.3" font-weight="bold" text-anchor="end">30</text>
<line x1="154.9" y1="1314.7" x2="171.4" y2="1314.7" stroke="#000" stroke-width="3.5"/>
<text x="152.9" y="1326.3" font-family='"Liberation Sans", sans-serif' font-size="32.3" font-weight="bold" text-anchor="end">40</text>
<text transform="translate(226 1762.7) rotate(-45)" font-family='"Liberation Sans", sans-serif' font-size="31" font-weight="bold" text-anchor="end"><tspan font-style="italic">Mlxipl</tspan> p1</text>
<text transform="translate(329.3 1762.7) rotate(-45)" font-family='"Liberation Sans", sans-serif' font-size="31" font-weight="bold" text-anchor="end"><tspan font-style="italic">Mlxipl</tspan> p2</text>
<text transform="translate(432.6 1762.7) rotate(-45)" font-family='"Liberation Sans", sans-serif' font-size="31" font-weight="bold" text-anchor="end"><tspan font-style="italic">Acss2</tspan> p1</text>
<text transform="translate(535.9 1762.7) rotate(-45)" font-family='"Liberation Sans", sans-serif' font-size="31" font-weight="bold" text-anchor="end"><tspan font-style="italic">Acss2</tspan> p2</text>
<text transform="translate(639.2 1762.7) rotate(-45)" font-family='"Liberation Sans", sans-serif' font-size="31" font-weight="bold" text-anchor="end"><tspan font-style="italic">Pklr</tspan> p1</text>
<text transform="translate(742.5 1762.7) rotate(-45)" font-family='"Liberation Sans", sans-serif' font-size="31" font-weight="bold" text-anchor="end"><tspan font-style="italic">Pklr</tspan> p2</text>
<text transform="translate(91.5 1517.5) rotate(-90)" font-family='"Liberation Sans", sans-serif' font-size="32.6" font-weight="bold" text-anchor="middle">% input</text>
<text x="477.7" y="1258.4" font-family='"Liberation Sans", sans-serif' font-size="38.7" font-weight="bold" text-anchor="middle">H3K27ac ChIP-qPCR</text>
<circle cx="220.6" cy="1325.6" r="8.4" fill="none" stroke="#000000" stroke-width="3.7"/>
<text x="267.5" y="1337.3" font-family='"Liberation Sans", sans-serif' font-size="32.8" font-weight="bold">IgG</text>
<circle cx="220.6" cy="1382.6" r="8.4" fill="none" stroke="#1c1cd2" stroke-width="3.7"/>
<text x="267.5" y="1394.3" font-family='"Liberation Sans", sans-serif' font-size="32.8" font-weight="bold">H3K27ac - Saline</text>
<circle cx="220.6" cy="1439.6" r="8.4" fill="none" stroke="#ee1c25" stroke-width="3.7"/>
<text x="267.5" y="1451.3" font-family='"Liberation Sans", sans-serif' font-size="32.8" font-weight="bold">H3K27ac - Fruc:Gluc</text>
<text x="1577.2" y="30" font-family='"DejaVu Sans", "Liberation Sans", sans-serif' font-size="37.6" text-anchor="middle" letter-spacing="0.4">H<tspan font-size="28.2" dy="8" dx="0.8">2</tspan><tspan dy="-8" dx="0.8">O</tspan></text>
<text x="1829.2" y="30" font-family='"DejaVu Sans", "Liberation Sans", sans-serif' font-size="37.6" text-anchor="middle" letter-spacing="0.4">Fruc:Gluc</text>
<line x1="1487" y1="46.7" x2="1675.5" y2="46.7" stroke="#000" stroke-width="2.3"/>
<line x1="1694" y1="46.7" x2="1965.5" y2="46.7" stroke="#000" stroke-width="2.3"/>
<text x="1521.4" y="94.2" font-family='"DejaVu Sans", "Liberation Sans", sans-serif' font-size="37.6" text-anchor="middle" letter-spacing="0.4">WT</text>
<text x="1629.7" y="94.2" font-family='"DejaVu Sans", "Liberation Sans", sans-serif' font-size="37.6" text-anchor="middle" letter-spacing="0.4">LAKO</text>
<text x="1753" y="94.2" font-family='"DejaVu Sans", "Liberation Sans", sans-serif' font-size="37.6" text-anchor="middle" letter-spacing="0.4">WT</text>
<text x="1902.8" y="94.2" font-family='"DejaVu Sans", "Liberation Sans", sans-serif' font-size="37.6" text-anchor="middle" letter-spacing="0.4">LAKO</text>
<rect x="1480.5" y="108.8" width="82.5" height="8.6" fill="#000"/>
<rect x="1589" y="108.8" width="82.5" height="8.6" fill="#f01414"/>
<rect x="1690" y="108.8" width="133" height="8.6" fill="#1414f0"/>
<rect x="1842.5" y="108.8" width="133.3" height="8.6" fill="#a020f0"/>
<text x="1456.5" y="180.2" font-family='"DejaVu Sans", "Liberation Sans", sans-serif' font-size="34" text-anchor="end">ACC</text>
<text x="1451" y="253.2" font-family='"DejaVu Sans", "Liberation Sans", sans-serif' font-size="34" text-anchor="end">ACLY</text>
<text x="1456.5" y="329" font-family='"DejaVu Sans", "Liberation Sans", sans-serif' font-size="34" text-anchor="end">ACSS2</text>
<text x="1450.5" y="407.4" font-family='"DejaVu Sans", "Liberation Sans", sans-serif' font-size="34" text-anchor="end">CAT</text>
<text x="1453" y="490.7" font-family='"DejaVu Sans", "Liberation Sans", sans-serif' font-size="34" text-anchor="end">S6</text>
<g clip-path="url(#bc0)">
<rect x="1468.6" y="139.6" width="518.6" height="62.2" fill="#e3e3e3"/>
<g filter="url(#bl4)"><rect x="1477" y="136" width="37" height="54" fill-opacity="0.3"/><rect x="1478.5" y="165" width="34" height="14" fill-opacity="0.1"/><rect x="1528.85" y="136" width="37" height="54" fill-opacity="0.17"/><rect x="1530.35" y="165" width="34" height="14" fill-opacity="0.06"/><rect x="1580.7" y="136" width="37" height="54" fill-opacity="0.13"/><rect x="1582.2" y="165" width="34" height="14" fill-opacity="0.05"/><rect x="1632.55" y="136" width="37" height="54" fill-opacity="0.08"/><rect x="1634.05" y="165" width="34" height="14" fill-opacity="0.03"/><rect x="1684.4" y="134" width="37" height="52" fill-opacity="0.72"/><rect x="1685.4" y="174" width="35" height="20" fill-opacity="0.5"/><rect x="1736.25" y="134" width="37" height="52" fill-opacity="0.62"/><rect x="1737.25" y="174" width="35" height="20" fill-opacity="0.5"/><rect x="1788.1" y="134" width="37" height="52" fill-opacity="0.75"/><rect x="1789.1" y="173" width="35" height="22" fill-opacity="0.5"/><rect x="1839.95" y="134" width="37" height="52" fill-opacity="0.4"/><rect x="1840.95" y="174" width="35" height="20" fill-opacity="0.5"/><rect x="1891.8" y="134" width="37" height="52" fill-opacity="0.95"/><rect x="1892.8" y="161" width="35" height="36" fill-opacity="0.5"/><rect x="1944.15" y="137" width="36" height="58" fill-opacity="0.4"/><rect x="1945.15" y="173" width="34" height="14" fill-opacity="0.25"/></g>
<g filter="url(#bl2)"><rect x="1684.4" y="170" width="37" height="20" fill-opacity="1"/><rect x="1736.25" y="170" width="37" height="20" fill-opacity="1"/><rect x="1788.1" y="169" width="37" height="22" fill-opacity="1"/><rect x="1839.95" y="170" width="37" height="20" fill-opacity="1"/><rect x="1891.8" y="157" width="37" height="36" fill-opacity="1"/></g>
</g>
<rect x="1468.6" y="139.6" width="518.6" height="62.2" fill="none" stroke="#000" stroke-width="2"/>
<g clip-path="url(#bc1)">
<rect x="1468.6" y="206.8" width="518.6" height="68.8" fill="#e5e5e5"/>
<g filter="url(#bl4)"><rect x="1477.5" y="237" width="36" height="10" fill-opacity="0.12"/><rect x="1477.5" y="211" width="36" height="60" fill-opacity="0.01"/><rect x="1529.35" y="237.5" width="36" height="10" fill-opacity="0.1"/><rect x="1529.35" y="211" width="36" height="60" fill-opacity="0.01"/><rect x="1581.2" y="240" width="36" height="10" fill-opacity="0.01"/><rect x="1581.2" y="211" width="36" height="60" fill-opacity="0.01"/><rect x="1633.05" y="240" width="36" height="10" fill-opacity="0.02"/><rect x="1633.05" y="211" width="36" height="60" fill-opacity="0.01"/><rect x="1684.9" y="239" width="36" height="10" fill-opacity="0.2"/><rect x="1684.9" y="211" width="36" height="60" fill-opacity="0.01"/><rect x="1736.75" y="238.5" width="36" height="10" fill-opacity="0.21"/><rect x="1736.75" y="211" width="36" height="60" fill-opacity="0.01"/><rect x="1788.6" y="238" width="36" height="10" fill-opacity="0.22"/><rect x="1788.6" y="211" width="36" height="60" fill-opacity="0.01"/><rect x="1840.45" y="243" width="36" height="10" fill-opacity="0.01"/><rect x="1840.45" y="211" width="36" height="60" fill-opacity="0.01"/><rect x="1892.3" y="243" width="36" height="10" fill-opacity="0.01"/><rect x="1892.3" y="211" width="36" height="60" fill-opacity="0.01"/><rect x="1944.15" y="243" width="36" height="10" fill-opacity="0.02"/><rect x="1944.15" y="211" width="36" height="60" fill-opacity="0.01"/></g>
<g filter="url(#bl2)"><rect x="1477" y="233.5" width="37" height="7" fill-opacity="0.55"/><rect x="1477.5" y="235" width="36" height="4" fill-opacity="0.44"/><rect x="1476.5" y="237" width="6" height="7" fill-opacity="0.33"/><rect x="1508.5" y="237" width="6" height="7" fill-opacity="0.33"/><rect x="1528.85" y="234" width="37" height="7" fill-opacity="0.45"/><rect x="1529.35" y="235.5" width="36" height="4" fill-opacity="0.36"/><rect x="1528.35" y="237.5" width="6" height="7" fill-opacity="0.27"/><rect x="1560.35" y="237.5" width="6" height="7" fill-opacity="0.27"/><rect x="1580.7" y="236.5" width="37" height="7" fill-opacity="0.04"/><rect x="1581.2" y="238" width="36" height="4" fill-opacity="0.03"/><rect x="1580.2" y="240" width="6" height="7" fill-opacity="0.02"/><rect x="1612.2" y="240" width="6" height="7" fill-opacity="0.02"/><rect x="1632.55" y="236.5" width="37" height="7" fill-opacity="0.07"/><rect x="1633.05" y="238" width="36" height="4" fill-opacity="0.06"/><rect x="1632.05" y="240" width="6" height="7" fill-opacity="0.04"/><rect x="1664.05" y="240" width="6" height="7" fill-opacity="0.04"/><rect x="1684.4" y="234.5" width="37" height="9" fill-opacity="0.92"/><rect x="1684.9" y="236" width="36" height="6" fill-opacity="0.74"/><rect x="1683.9" y="238" width="6" height="9" fill-opacity="0.55"/><rect x="1715.9" y="238" width="6" height="9" fill-opacity="0.55"/><rect x="1736.25" y="234" width="37" height="9" fill-opacity="0.97"/><rect x="1736.75" y="235.5" width="36" height="6" fill-opacity="0.78"/><rect x="1735.75" y="237.5" width="6" height="9" fill-opacity="0.58"/><rect x="1767.75" y="237.5" width="6" height="9" fill-opacity="0.58"/><rect x="1788.1" y="233.5" width="37" height="9" fill-opacity="1"/><rect x="1788.6" y="235" width="36" height="6" fill-opacity="0.8"/><rect x="1787.6" y="237" width="6" height="9" fill-opacity="0.6"/><rect x="1819.6" y="237" width="6" height="9" fill-opacity="0.6"/><rect x="1839.95" y="239.5" width="37" height="7" fill-opacity="0.05"/><rect x="1840.45" y="241" width="36" height="4" fill-opacity="0.04"/><rect x="1839.45" y="243" width="6" height="7" fill-opacity="0.03"/><rect x="1871.45" y="243" width="6" height="7" fill-opacity="0.03"/><rect x="1891.8" y="239.5" width="37" height="7" fill-opacity="0.06"/><rect x="1892.3" y="241" width="36" height="4" fill-opacity="0.05"/><rect x="1891.3" y="243" width="6" height="7" fill-opacity="0.04"/><rect x="1923.3" y="243" width="6" height="7" fill-opacity="0.04"/><rect x="1943.65" y="239.5" width="37" height="7" fill-opacity="0.08"/><rect x="1944.15" y="241" width="36" height="4" fill-opacity="0.06"/><rect x="1943.15" y="243" width="6" height="7" fill-opacity="0.05"/><rect x="1975.15" y="243" width="6" height="7" fill-opacity="0.05"/></g>
</g>
<rect x="1468.6" y="206.8" width="518.6" height="68.8" fill="none" stroke="#000" stroke-width="2"/>
<g clip-path="url(#bc2)">
<rect x="1468.6" y="280.4" width="518.6" height="74.8" fill="#e6e6e6"/>
<g filter="url(#bl6)"><rect x="1475.5" y="278" width="40" height="80" fill-opacity="0.1"/><rect x="1527.35" y="278" width="40" height="80" fill-opacity="0.1"/><rect x="1579.2" y="278" width="40" height="80" fill-opacity="0.1"/><rect x="1631.05" y="278" width="40" height="80" fill-opacity="0.1"/><rect x="1682.9" y="278" width="40" height="80" fill-opacity="0.1"/><rect x="1734.75" y="278" width="40" height="80" fill-opacity="0.1"/><rect x="1786.6" y="278" width="40" height="80" fill-opacity="0.1"/><rect x="1838.45" y="278" width="40" height="80" fill-opacity="0.1"/><rect x="1890.3" y="278" width="40" height="80" fill-opacity="0.1"/><rect x="1942.15" y="278" width="40" height="80" fill-opacity="0.1"/></g>
<g filter="url(#bl4)"><rect x="1475.5" y="296" width="40" height="30" fill-opacity="0.24"/><rect x="1527.35" y="301" width="40" height="30" fill-opacity="0.17"/><rect x="1579.2" y="302" width="40" height="30" fill-opacity="0.2"/><rect x="1631.05" y="304" width="40" height="30" fill-opacity="0.16"/><rect x="1682.9" y="302" width="40" height="30" fill-opacity="0.19"/><rect x="1734.75" y="304" width="40" height="30" fill-opacity="0.21"/><rect x="1786.6" y="302" width="40" height="30" fill-opacity="0.24"/><rect x="1838.45" y="306" width="40" height="30" fill-opacity="0.27"/><rect x="1890.3" y="305" width="40" height="30" fill-opacity="0.28"/><rect x="1942.15" y="306" width="40" height="30" fill-opacity="0.27"/></g>
<g filter="url(#bl2)"><rect x="1475" y="301.5" width="41" height="13" fill-opacity="0.8"/><rect x="1475" y="307.5" width="7" height="13" fill-opacity="0.56"/><rect x="1509" y="307.5" width="7" height="13" fill-opacity="0.56"/><rect x="1526.85" y="306.5" width="41" height="13" fill-opacity="0.38"/><rect x="1526.85" y="312.5" width="7" height="13" fill-opacity="0.27"/><rect x="1560.85" y="312.5" width="7" height="13" fill-opacity="0.27"/><rect x="1578.7" y="307.5" width="41" height="13" fill-opacity="0.55"/><rect x="1578.7" y="313.5" width="7" height="13" fill-opacity="0.39"/><rect x="1612.7" y="313.5" width="7" height="13" fill-opacity="0.39"/><rect x="1630.55" y="310" width="41" height="12" fill-opacity="0.33"/><rect x="1630.55" y="316" width="7" height="12" fill-opacity="0.23"/><rect x="1664.55" y="316" width="7" height="12" fill-opacity="0.23"/><rect x="1682.4" y="307.5" width="41" height="13" fill-opacity="0.5"/><rect x="1682.4" y="313.5" width="7" height="13" fill-opacity="0.35"/><rect x="1716.4" y="313.5" width="7" height="13" fill-opacity="0.35"/><rect x="1734.25" y="309.5" width="41" height="13" fill-opacity="0.6"/><rect x="1734.25" y="315.5" width="7" height="13" fill-opacity="0.42"/><rect x="1768.25" y="315.5" width="7" height="13" fill-opacity="0.42"/><rect x="1786.1" y="307.5" width="41" height="13" fill-opacity="0.8"/><rect x="1786.1" y="313.5" width="7" height="13" fill-opacity="0.56"/><rect x="1820.1" y="313.5" width="7" height="13" fill-opacity="0.56"/><rect x="1837.95" y="310.5" width="41" height="15" fill-opacity="0.95"/><rect x="1837.95" y="316.5" width="7" height="15" fill-opacity="0.66"/><rect x="1871.95" y="316.5" width="7" height="15" fill-opacity="0.66"/><rect x="1889.8" y="308.5" width="41" height="17" fill-opacity="1"/><rect x="1889.8" y="314.5" width="7" height="17" fill-opacity="0.7"/><rect x="1923.8" y="314.5" width="7" height="17" fill-opacity="0.7"/><rect x="1941.65" y="310.5" width="41" height="15" fill-opacity="0.95"/><rect x="1941.65" y="316.5" width="7" height="15" fill-opacity="0.66"/><rect x="1975.65" y="316.5" width="7" height="15" fill-opacity="0.66"/></g>
</g>
<rect x="1468.6" y="280.4" width="518.6" height="74.8" fill="none" stroke="#000" stroke-width="2"/>
<g clip-path="url(#bc3)">
<rect x="1468.6" y="361" width="518.6" height="80.6" fill="#e6e6e6"/>
<g filter="url(#bl6)"><rect x="1475" y="355" width="41" height="90" fill-opacity="0.08"/><rect x="1526.85" y="355" width="41" height="90" fill-opacity="0.08"/><rect x="1578.7" y="355" width="41" height="90" fill-opacity="0.08"/><rect x="1630.55" y="355" width="41" height="90" fill-opacity="0.08"/><rect x="1682.4" y="355" width="41" height="90" fill-opacity="0.08"/><rect x="1734.25" y="355" width="41" height="90" fill-opacity="0.08"/><rect x="1786.1" y="355" width="41" height="90" fill-opacity="0.08"/><rect x="1837.95" y="355" width="41" height="90" fill-opacity="0.08"/><rect x="1889.8" y="355" width="41" height="90" fill-opacity="0.08"/><rect x="1941.65" y="355" width="41" height="90" fill-opacity="0.08"/></g>
<g filter="url(#bl4)"><rect x="1474.5" y="376" width="42" height="36" fill-opacity="0.22"/><rect x="1526.35" y="376" width="42" height="36" fill-opacity="0.22"/><rect x="1578.2" y="376" width="42" height="36" fill-opacity="0.22"/><rect x="1630.05" y="377" width="42" height="36" fill-opacity="0.22"/><rect x="1681.9" y="378" width="42" height="36" fill-opacity="0.22"/><rect x="1733.75" y="378" width="42" height="36" fill-opacity="0.22"/><rect x="1785.6" y="378" width="42" height="36" fill-opacity="0.22"/><rect x="1837.45" y="382" width="42" height="36" fill-opacity="0.22"/><rect x="1889.3" y="387" width="42" height="36" fill-opacity="0.22"/><rect x="1941.15" y="393" width="42" height="36" fill-opacity="0.22"/></g>
<g filter="url(#bl2)"><rect x="1473.5" y="387" width="44" height="18" fill-opacity="0.9"/><rect x="1474" y="379" width="43" height="22" fill-opacity="0.5"/><rect x="1473.5" y="394" width="7" height="18" fill-opacity="0.72"/><rect x="1510.5" y="394" width="7" height="18" fill-opacity="0.72"/><rect x="1525.35" y="388" width="44" height="16" fill-opacity="0.55"/><rect x="1525.85" y="380" width="43" height="20" fill-opacity="0.3"/><rect x="1525.35" y="395" width="7" height="16" fill-opacity="0.44"/><rect x="1562.35" y="395" width="7" height="16" fill-opacity="0.44"/><rect x="1577.2" y="388" width="44" height="16" fill-opacity="0.7"/><rect x="1577.7" y="380" width="43" height="20" fill-opacity="0.39"/><rect x="1577.2" y="395" width="7" height="16" fill-opacity="0.56"/><rect x="1614.2" y="395" width="7" height="16" fill-opacity="0.56"/><rect x="1629.05" y="388" width="44" height="18" fill-opacity="0.55"/><rect x="1629.55" y="380" width="43" height="22" fill-opacity="0.3"/><rect x="1629.05" y="395" width="7" height="18" fill-opacity="0.44"/><rect x="1666.05" y="395" width="7" height="18" fill-opacity="0.44"/><rect x="1680.9" y="389" width="44" height="18" fill-opacity="0.6"/><rect x="1681.4" y="381" width="43" height="22" fill-opacity="0.33"/><rect x="1680.9" y="396" width="7" height="18" fill-opacity="0.48"/><rect x="1717.9" y="396" width="7" height="18" fill-opacity="0.48"/><rect x="1732.75" y="389" width="44" height="18" fill-opacity="0.66"/><rect x="1733.25" y="381" width="43" height="22" fill-opacity="0.36"/><rect x="1732.75" y="396" width="7" height="18" fill-opacity="0.53"/><rect x="1769.75" y="396" width="7" height="18" fill-opacity="0.53"/><rect x="1784.6" y="389" width="44" height="18" fill-opacity="0.6"/><rect x="1785.1" y="381" width="43" height="22" fill-opacity="0.33"/><rect x="1784.6" y="396" width="7" height="18" fill-opacity="0.48"/><rect x="1821.6" y="396" width="7" height="18" fill-opacity="0.48"/><rect x="1836.45" y="392" width="44" height="20" fill-opacity="0.58"/><rect x="1836.95" y="384" width="43" height="24" fill-opacity="0.32"/><rect x="1836.45" y="399" width="7" height="20" fill-opacity="0.46"/><rect x="1873.45" y="399" width="7" height="20" fill-opacity="0.46"/><rect x="1888.3" y="397" width="44" height="20" fill-opacity="0.85"/><rect x="1888.8" y="389" width="43" height="24" fill-opacity="0.47"/><rect x="1888.3" y="404" width="7" height="20" fill-opacity="0.68"/><rect x="1925.3" y="404" width="7" height="20" fill-opacity="0.68"/><rect x="1940.15" y="403" width="44" height="20" fill-opacity="1"/><rect x="1940.65" y="395" width="43" height="24" fill-opacity="0.55"/><rect x="1940.15" y="410" width="7" height="20" fill-opacity="0.8"/><rect x="1977.15" y="410" width="7" height="20" fill-opacity="0.8"/></g>
</g>
<rect x="1468.6" y="361" width="518.6" height="80.6" fill="none" stroke="#000" stroke-width="2"/>
<g clip-path="url(#bc4)">
<rect x="1468.6" y="445.6" width="518.6" height="70.2" fill="#e7e7e7"/>
<g filter="url(#bl6)"><rect x="1475.5" y="435" width="40" height="70" fill-opacity="0.12"/><rect x="1527.35" y="435" width="40" height="70" fill-opacity="0.12"/><rect x="1579.2" y="435" width="40" height="70" fill-opacity="0.12"/><rect x="1631.05" y="435" width="40" height="70" fill-opacity="0.12"/><rect x="1682.9" y="435" width="40" height="70" fill-opacity="0.12"/><rect x="1734.75" y="435" width="40" height="70" fill-opacity="0.12"/><rect x="1786.6" y="435" width="40" height="70" fill-opacity="0.12"/><rect x="1838.45" y="435" width="40" height="70" fill-opacity="0.12"/><rect x="1890.3" y="435" width="40" height="70" fill-opacity="0.12"/><rect x="1942.15" y="435" width="40" height="70" fill-opacity="0.12"/></g>
<g filter="url(#bl4)"><rect x="1475" y="469" width="41" height="30" fill-opacity="0.2"/><rect x="1528.85" y="471" width="37" height="30" fill-opacity="0.2"/><rect x="1578.7" y="470" width="41" height="30" fill-opacity="0.2"/><rect x="1633.55" y="471" width="35" height="30" fill-opacity="0.2"/><rect x="1682.4" y="469" width="41" height="30" fill-opacity="0.2"/><rect x="1734.25" y="469" width="41" height="30" fill-opacity="0.2"/><rect x="1785.6" y="468" width="42" height="30" fill-opacity="0.2"/><rect x="1836.45" y="467" width="44" height="30" fill-opacity="0.2"/><rect x="1889.8" y="468" width="41" height="30" fill-opacity="0.2"/><rect x="1941.65" y="470" width="41" height="30" fill-opacity="0.2"/></g>
<g filter="url(#bl2)"><rect x="1474" y="479.5" width="43" height="17" fill-opacity="1"/><rect x="1475" y="471.5" width="41" height="23" fill-opacity="0.45"/><rect x="1474" y="484.5" width="7" height="17" fill-opacity="0.8"/><rect x="1510" y="484.5" width="7" height="17" fill-opacity="0.8"/><rect x="1527.85" y="484" width="39" height="12" fill-opacity="0.95"/><rect x="1528.85" y="476" width="37" height="18" fill-opacity="0.43"/><rect x="1527.85" y="489" width="7" height="12" fill-opacity="0.76"/><rect x="1559.85" y="489" width="7" height="12" fill-opacity="0.76"/><rect x="1577.7" y="481" width="43" height="16" fill-opacity="1"/><rect x="1578.7" y="473" width="41" height="22" fill-opacity="0.45"/><rect x="1577.7" y="486" width="7" height="16" fill-opacity="0.8"/><rect x="1613.7" y="486" width="7" height="16" fill-opacity="0.8"/><rect x="1632.55" y="485" width="37" height="10" fill-opacity="0.8"/><rect x="1633.55" y="477" width="35" height="16" fill-opacity="0.36"/><rect x="1632.55" y="490" width="7" height="10" fill-opacity="0.64"/><rect x="1662.55" y="490" width="7" height="10" fill-opacity="0.64"/><rect x="1681.4" y="480" width="43" height="16" fill-opacity="1"/><rect x="1682.4" y="472" width="41" height="22" fill-opacity="0.45"/><rect x="1681.4" y="485" width="7" height="16" fill-opacity="0.8"/><rect x="1717.4" y="485" width="7" height="16" fill-opacity="0.8"/><rect x="1733.25" y="480.5" width="43" height="15" fill-opacity="1"/><rect x="1734.25" y="472.5" width="41" height="21" fill-opacity="0.45"/><rect x="1733.25" y="485.5" width="7" height="15" fill-opacity="0.8"/><rect x="1769.25" y="485.5" width="7" height="15" fill-opacity="0.8"/><rect x="1784.6" y="478.5" width="44" height="17" fill-opacity="1"/><rect x="1785.6" y="470.5" width="42" height="23" fill-opacity="0.45"/><rect x="1784.6" y="483.5" width="7" height="17" fill-opacity="0.8"/><rect x="1821.6" y="483.5" width="7" height="17" fill-opacity="0.8"/><rect x="1835.45" y="476" width="46" height="20" fill-opacity="1"/><rect x="1836.45" y="468" width="44" height="26" fill-opacity="0.45"/><rect x="1835.45" y="481" width="7" height="20" fill-opacity="0.8"/><rect x="1874.45" y="481" width="7" height="20" fill-opacity="0.8"/><rect x="1888.8" y="478.5" width="43" height="17" fill-opacity="1"/><rect x="1889.8" y="470.5" width="41" height="23" fill-opacity="0.45"/><rect x="1888.8" y="483.5" width="7" height="17" fill-opacity="0.8"/><rect x="1924.8" y="483.5" width="7" height="17" fill-opacity="0.8"/><rect x="1940.65" y="481.5" width="43" height="15" fill-opacity="1"/><rect x="1941.65" y="473.5" width="41" height="21" fill-opacity="0.45"/><rect x="1940.65" y="486.5" width="7" height="15" fill-opacity="0.8"/><rect x="1976.65" y="486.5" width="7" height="15" fill-opacity="0.8"/></g>
</g>
<rect x="1468.6" y="445.6" width="518.6" height="70.2" fill="none" stroke="#000" stroke-width="2"/>
<text x="1379.4" y="609" font-family='"Liberation Sans", sans-serif' font-size="37.6">H<tspan dy="7.6">2</tspan><tspan dy="-7.6">O</tspan></text>
<text x="1693.3" y="609" font-family='"Liberation Sans", sans-serif' font-size="37.4" text-anchor="middle">Fruc:Gluc</text>
<text x="1869" y="609" font-family='"Liberation Sans", sans-serif' font-size="37.6">Fruc:Gluc<tspan font-size="31" dx="3">(20X)</tspan></text>
<text transform="translate(1256.3 755.6) rotate(-90)" font-family='"Liberation Sans", sans-serif' font-size="37.6" text-anchor="middle">WT</text>
<text transform="translate(1256.3 1041.3) rotate(-90)" font-family='"Liberation Sans", sans-serif' font-size="37.6" text-anchor="middle">LAKO</text>
<g clip-path="url(#ic0)">
<rect x="1278" y="629.8" width="268.6" height="267.6" fill="rgb(184,169,152)"/>
<rect x="1278" y="629.8" width="268.6" height="267.6" filter="url(#tx0)"/>
<g fill="#5a648f" fill-opacity="0.8" filter="url(#nbl)"><circle cx="1399.7" cy="779.36" r="2.95"/><circle cx="1524.55" cy="754.55" r="2.63"/><circle cx="1414.37" cy="786.63" r="2.51"/><circle cx="1328.86" cy="766.74" r="2.45"/><circle cx="1446.67" cy="840.83" r="2.65"/><circle cx="1304.91" cy="711.78" r="2.71"/><circle cx="1303.99" cy="845.22" r="2.77"/><circle cx="1463.48" cy="642.84" r="2.76"/><circle cx="1539.89" cy="886.11" r="2.52"/><circle cx="1453.03" cy="794.06" r="2.99"/><circle cx="1321.67" cy="635.75" r="2.84"/><circle cx="1419.81" cy="647.5" r="2.86"/><circle cx="1330.33" cy="695.58" r="2.45"/><circle cx="1287.96" cy="754.09" r="2.47"/><circle cx="1396.56" cy="853.86" r="2.6"/><circle cx="1417.36" cy="800.58" r="2.9"/><circle cx="1412.24" cy="806.42" r="2.56"/><circle cx="1401.01" cy="705.12" r="2.56"/><circle cx="1543.98" cy="894.26" r="2.47"/><circle cx="1502.32" cy="818.38" r="2.9"/><circle cx="1363.42" cy="692.34" r="2.37"/><circle cx="1356.48" cy="650.31" r="2.13"/><circle cx="1482.76" cy="737.35" r="2.74"/><circle cx="1504.01" cy="733.68" r="2.9"/><circle cx="1533.5" cy="855.15" r="2.75"/><circle cx="1280.14" cy="687.08" r="2.62"/><circle cx="1539.4" cy="736.56" r="2.76"/><circle cx="1299.33" cy="797.72" r="2.36"/><circle cx="1485.99" cy="702.91" r="2.62"/><circle cx="1303.06" cy="719.47" r="2.14"/><circle cx="1535.09" cy="831.62" r="2.19"/><circle cx="1311.22" cy="696.75" r="2.49"/><circle cx="1306.74" cy="647.59" r="2.54"/><circle cx="1490.89" cy="678.64" r="2.44"/><circle cx="1427.99" cy="749.74" r="2.13"/><circle cx="1330.46" cy="824.73" r="2.71"/><circle cx="1314.65" cy="801.48" r="2.56"/><circle cx="1310.83" cy="742.71" r="2.3"/><circle cx="1336.32" cy="702.92" r="2.36"/><circle cx="1536.91" cy="843.58" r="2.44"/><circle cx="1360.48" cy="865.05" r="2.29"/><circle cx="1335.75" cy="735.73" r="2.14"/><circle cx="1506.07" cy="800.99" r="2.91"/><circle cx="1306.55" cy="892.58" r="2.96"/><circle cx="1484.45" cy="718.51" r="2.69"/><circle cx="1303.85" cy="785.41" r="2.87"/><circle cx="1344.3" cy="790.3" r="2.46"/><circle cx="1378.35" cy="751.27" r="2.81"/><circle cx="1533.79" cy="759.31" r="2.28"/><circle cx="1432.03" cy="860.22" r="2.76"/><circle cx="1328.38" cy="672.43" r="2.6"/><circle cx="1520.37" cy="847.37" r="2.9"/><circle cx="1346.02" cy="681.83" r="2.17"/><circle cx="1475.65" cy="879.69" r="2.8"/><circle cx="1332.02" cy="882.26" r="2.19"/><circle cx="1513.43" cy="790.89" r="2.57"/><circle cx="1391.52" cy="659.17" r="2.95"/><circle cx="1290.24" cy="885.56" r="2.08"/><circle cx="1343.08" cy="817.53" r="2.3"/><circle cx="1348" cy="848.93" r="2.35"/><circle cx="1437.82" cy="709.15" r="2.38"/><circle cx="1298.2" cy="692.01" r="2.14"/><circle cx="1522.73" cy="685.57" r="2.89"/><circle cx="1284.39" cy="702.76" r="2.82"/><circle cx="1397.93" cy="647.74" r="2.44"/><circle cx="1326.64" cy="729.01" r="2.4"/><circle cx="1431.4" cy="666.48" r="2.61"/><circle cx="1375.82" cy="866.65" r="2.12"/><circle cx="1539.44" cy="804.97" r="2.11"/><circle cx="1462.9" cy="785.86" r="2.9"/><circle cx="1317.14" cy="641.05" r="2.36"/><circle cx="1284.73" cy="871.73" r="2.53"/><circle cx="1465.48" cy="885.59" r="2.93"/><circle cx="1285.63" cy="799.5" r="2.97"/><circle cx="1407.6" cy="824.36" r="2.51"/><circle cx="1364.38" cy="895.23" r="2.27"/><circle cx="1299.91" cy="775.75" r="2.35"/><circle cx="1475.01" cy="869.09" r="2.92"/><circle cx="1475.03" cy="817.29" r="2.9"/><circle cx="1489.9" cy="872.99" r="2.26"/><circle cx="1373.1" cy="812.4" r="2.84"/><circle cx="1518.36" cy="861.42" r="2.4"/><circle cx="1390.38" cy="840.18" r="2.51"/><circle cx="1508.47" cy="782.79" r="2.24"/><circle cx="1445.36" cy="732.58" r="2.88"/><circle cx="1434.18" cy="792.3" r="2.99"/><circle cx="1542.83" cy="863.71" r="2.26"/><circle cx="1472.68" cy="734.19" r="2.66"/><circle cx="1474.49" cy="784.94" r="2.25"/><circle cx="1302.17" cy="829.56" r="2.88"/><circle cx="1287.88" cy="790.3" r="2.13"/><circle cx="1407.26" cy="692.49" r="2.18"/><circle cx="1464.78" cy="762.88" r="2.74"/><circle cx="1442.6" cy="874.43" r="2.36"/><circle cx="1347.69" cy="634.78" r="2.9"/><circle cx="1359.65" cy="810.56" r="2.87"/><circle cx="1519.65" cy="805.77" r="2.73"/><circle cx="1396.94" cy="866.86" r="2.2"/><circle cx="1366.51" cy="807.33" r="2.71"/><circle cx="1332.52" cy="745.38" r="2.93"/><circle cx="1512.92" cy="733.13" r="2.49"/><circle cx="1434.29" cy="715.23" r="2.15"/><circle cx="1316.03" cy="762.67" r="2.28"/><circle cx="1501.5" cy="855.52" r="2.36"/><circle cx="1353.24" cy="676.38" r="2.73"/><circle cx="1445.57" cy="761.99" r="2.26"/><circle cx="1363.45" cy="852.99" r="2.24"/><circle cx="1539.85" cy="751.07" r="2.29"/><circle cx="1299.76" cy="640.1" r="2.68"/><circle cx="1510.95" cy="642.74" r="2.8"/><circle cx="1361.77" cy="840.44" r="2.42"/><circle cx="1285.06" cy="667.62" r="2.68"/><circle cx="1400.35" cy="638.32" r="2.88"/><circle cx="1499.53" cy="694.38" r="2.62"/><circle cx="1446.48" cy="749.49" r="2.29"/><circle cx="1446.69" cy="804.47" r="2.35"/><circle cx="1493.63" cy="884.45" r="2.92"/><circle cx="1461.12" cy="684.35" r="2.69"/><circle cx="1405.72" cy="678.9" r="2.33"/><circle cx="1468.97" cy="679.01" r="2.66"/><circle cx="1352.07" cy="722.94" r="2.16"/><circle cx="1442.58" cy="831.14" r="2.97"/><circle cx="1519.79" cy="654.79" r="2.48"/><circle cx="1526.77" cy="822.22" r="2.56"/><circle cx="1314.37" cy="751.35" r="2.56"/><circle cx="1379.7" cy="781.74" r="2.12"/><circle cx="1512.67" cy="841.83" r="2.63"/><circle cx="1452.34" cy="685.81" r="2.34"/><circle cx="1471.02" cy="847.52" r="2.31"/><circle cx="1449.77" cy="820.98" r="2.81"/><circle cx="1336.44" cy="869.04" r="2.16"/><circle cx="1422.08" cy="840.25" r="2.34"/><circle cx="1364.78" cy="871.67" r="2.77"/><circle cx="1506.44" cy="723.67" r="2.3"/><circle cx="1301.9" cy="748.02" r="2.33"/><circle cx="1425.61" cy="834.31" r="2.58"/><circle cx="1408.98" cy="639.29" r="2.25"/><circle cx="1494.1" cy="648.69" r="2.9"/><circle cx="1368.64" cy="839.49" r="2.98"/><circle cx="1317.18" cy="670.99" r="2.11"/><circle cx="1416.67" cy="822.53" r="2.5"/><circle cx="1531.15" cy="654.48" r="2.76"/><circle cx="1338.59" cy="770.63" r="2.43"/><circle cx="1356.78" cy="823.92" r="2.93"/><circle cx="1449.05" cy="769.61" r="2.53"/><circle cx="1362.48" cy="732.29" r="2.24"/><circle cx="1503.66" cy="869.18" r="2.59"/><circle cx="1335.1" cy="856.06" r="2.67"/><circle cx="1536.25" cy="769.99" r="2.41"/><circle cx="1431.61" cy="684.77" r="2.68"/><circle cx="1421.8" cy="764.44" r="2.79"/><circle cx="1440.14" cy="639.12" r="2.55"/><circle cx="1428.93" cy="761.24" r="2.54"/><circle cx="1422.54" cy="740.87" r="2.85"/><circle cx="1533.19" cy="875.21" r="2.7"/><circle cx="1351.23" cy="756.53" r="2.55"/><circle cx="1495.84" cy="869.19" r="2.95"/><circle cx="1406.09" cy="715.42" r="2.24"/><circle cx="1330.66" cy="794.68" r="2.79"/><circle cx="1524.83" cy="665.93" r="2.23"/><circle cx="1486.2" cy="637.81" r="2.63"/><circle cx="1461.79" cy="716.7" r="2.29"/><circle cx="1374.02" cy="795.17" r="2.48"/><circle cx="1307.75" cy="824.46" r="2.78"/><circle cx="1379.42" cy="740.77" r="2.8"/><circle cx="1420.07" cy="673.9" r="2.8"/><circle cx="1505.24" cy="793.05" r="2.29"/><circle cx="1506.7" cy="693.13" r="2.53"/><circle cx="1518.85" cy="715.06" r="2.28"/><circle cx="1337.72" cy="894.97" r="2.61"/><circle cx="1514.84" cy="667.1" r="2.53"/><circle cx="1348.66" cy="657.37" r="2.11"/><circle cx="1500.19" cy="742.94" r="2.62"/><circle cx="1489.02" cy="665.01" r="2.73"/><circle cx="1386.58" cy="812.42" r="2.6"/><circle cx="1460.56" cy="872.04" r="2.87"/><circle cx="1536.23" cy="662.22" r="2.24"/><circle cx="1413.8" cy="831.65" r="2.22"/><circle cx="1330.01" cy="650.4" r="2.1"/><circle cx="1328.83" cy="685.55" r="2.53"/><circle cx="1502.32" cy="892.84" r="2.48"/><circle cx="1296.39" cy="882.61" r="2.48"/><circle cx="1402.26" cy="833.38" r="2.32"/><circle cx="1366.48" cy="754.89" r="2.81"/><circle cx="1416.34" cy="745.17" r="2.15"/><circle cx="1465.49" cy="854.35" r="2.91"/><circle cx="1327.96" cy="751.46" r="2.6"/><circle cx="1415.62" cy="635.86" r="2.57"/><circle cx="1438.66" cy="764.73" r="2.8"/><circle cx="1348.34" cy="872.02" r="2.3"/><circle cx="1476.98" cy="836.88" r="2.21"/><circle cx="1463.84" cy="834.05" r="2.36"/><circle cx="1471.21" cy="650.4" r="2.12"/><circle cx="1282.8" cy="725.55" r="2.37"/><circle cx="1341.42" cy="880.82" r="2.65"/><circle cx="1456.25" cy="720.85" r="2.56"/><circle cx="1454.57" cy="781.94" r="2.32"/><circle cx="1539.33" cy="637.82" r="2.62"/><circle cx="1347.91" cy="737.65" r="2.16"/><circle cx="1293.35" cy="683.32" r="2.83"/><circle cx="1379.4" cy="657.75" r="2.24"/><circle cx="1535.9" cy="781.52" r="2.31"/><circle cx="1291.94" cy="876.99" r="2.23"/><circle cx="1322.32" cy="756.16" r="2.71"/><circle cx="1441.72" cy="647.23" r="2.84"/><circle cx="1530.12" cy="742.7" r="2.8"/><circle cx="1376.73" cy="707.12" r="2.14"/><circle cx="1358.33" cy="635.49" r="2.45"/><circle cx="1344.83" cy="643.08" r="2.41"/><circle cx="1321.43" cy="830.72" r="2.28"/><circle cx="1383.18" cy="868.39" r="2.96"/><circle cx="1478.02" cy="645.02" r="2.12"/><circle cx="1299.45" cy="870.5" r="2.53"/><circle cx="1393.65" cy="757.7" r="2.77"/><circle cx="1537.5" cy="696.04" r="2.98"/><circle cx="1418.48" cy="878.86" r="2.21"/><circle cx="1471.24" cy="755.26" r="2.49"/><circle cx="1439.72" cy="662.14" r="2.76"/><circle cx="1419.74" cy="664.57" r="2.12"/><circle cx="1397.18" cy="807.86" r="2.3"/><circle cx="1434.06" cy="742.39" r="2.89"/><circle cx="1485.85" cy="771.71" r="2.21"/><circle cx="1474.29" cy="694.65" r="2.44"/><circle cx="1310.13" cy="867.12" r="2.35"/><circle cx="1487.53" cy="796.54" r="2.47"/><circle cx="1436.56" cy="798.69" r="2.15"/><circle cx="1479.34" cy="681.84" r="2.11"/><circle cx="1345.88" cy="890.05" r="2.99"/><circle cx="1290.45" cy="647.82" r="2.77"/><circle cx="1351.69" cy="743.88" r="2.75"/><circle cx="1302.87" cy="810.07" r="2.29"/><circle cx="1425.7" cy="798.16" r="2.31"/><circle cx="1335.73" cy="722.4" r="2.58"/><circle cx="1477.08" cy="852.84" r="2.3"/><circle cx="1299.67" cy="663.38" r="2.5"/><circle cx="1483.41" cy="687.99" r="2.93"/><circle cx="1392.29" cy="699.83" r="2.41"/><circle cx="1494.29" cy="729.06" r="2.39"/><circle cx="1452.96" cy="892.55" r="2.97"/><circle cx="1366.1" cy="776.41" r="2.64"/><circle cx="1393.16" cy="729.14" r="2.12"/><circle cx="1300.77" cy="653.68" r="2.45"/><circle cx="1485.2" cy="651.85" r="2.67"/><circle cx="1336.43" cy="806.33" r="2.13"/><circle cx="1354.86" cy="669.47" r="2.39"/><circle cx="1374.67" cy="823.17" r="2.71"/><circle cx="1523.05" cy="879.57" r="2.87"/><circle cx="1521.68" cy="747.25" r="2.62"/><circle cx="1492.49" cy="712.14" r="2.89"/><circle cx="1527.31" cy="867.65" r="2.5"/><circle cx="1345.7" cy="727.14" r="2.44"/><circle cx="1376.73" cy="727.57" r="2.85"/><circle cx="1384.68" cy="733.97" r="2.43"/><circle cx="1331.59" cy="780.42" r="2.79"/><circle cx="1501.31" cy="780.15" r="2.28"/><circle cx="1513.09" cy="705.99" r="2.4"/><circle cx="1285.88" cy="767.72" r="2.25"/><circle cx="1423.98" cy="781.38" r="2.58"/><circle cx="1451.73" cy="696.5" r="2.23"/><circle cx="1338.33" cy="833.55" r="2.27"/><circle cx="1384.35" cy="720.85" r="2.28"/><circle cx="1410.62" cy="773.44" r="2.51"/><circle cx="1522.1" cy="740.04" r="2.36"/><circle cx="1498.62" cy="807.55" r="2.49"/><circle cx="1505.84" cy="844.24" r="2.98"/><circle cx="1533.43" cy="800.58" r="2.7"/><circle cx="1492.28" cy="742.94" r="2.87"/><circle cx="1391.25" cy="670.34" r="2.27"/><circle cx="1476.13" cy="893.03" r="2.43"/><circle cx="1379.36" cy="675.99" r="2.15"/><circle cx="1357.27" cy="887.43" r="2.71"/><circle cx="1295.67" cy="713.11" r="2.41"/><circle cx="1296.5" cy="752.73" r="2.33"/><circle cx="1434.54" cy="871.49" r="2.1"/><circle cx="1289.62" cy="660.45" r="2.25"/><circle cx="1437.38" cy="690.84" r="2.32"/><circle cx="1328.95" cy="705.89" r="2.44"/><circle cx="1496.21" cy="758.19" r="2.92"/><circle cx="1521.91" cy="721.97" r="2.73"/><circle cx="1424.83" cy="884.07" r="2.32"/><circle cx="1352.65" cy="892.83" r="2.41"/><circle cx="1378.31" cy="841.83" r="2.22"/><circle cx="1468.74" cy="791.56" r="2.93"/><circle cx="1365.15" cy="700.18" r="2.41"/><circle cx="1510" cy="767.85" r="2.78"/><circle cx="1350.52" cy="772.71" r="2.74"/><circle cx="1280.36" cy="848.33" r="2.91"/><circle cx="1301.81" cy="702.95" r="2.1"/><circle cx="1469.59" cy="657.41" r="2.37"/><circle cx="1407.04" cy="755.34" r="2.43"/><circle cx="1506.85" cy="711.83" r="2.16"/><circle cx="1498.65" cy="686.74" r="2.88"/><circle cx="1321.69" cy="851.12" r="2.38"/><circle cx="1362.4" cy="713.71" r="2.78"/><circle cx="1307.98" cy="735.72" r="2.55"/><circle cx="1402.18" cy="886.68" r="2.13"/><circle cx="1282.77" cy="893.19" r="2.44"/><circle cx="1491.53" cy="686.29" r="2.3"/><circle cx="1379.49" cy="774.08" r="2.12"/><circle cx="1358.91" cy="720.74" r="2.22"/><circle cx="1473.54" cy="718.63" r="2.62"/><circle cx="1498.79" cy="656.12" r="2.11"/><circle cx="1317.26" cy="656.68" r="2.36"/><circle cx="1459.32" cy="818.5" r="2.47"/><circle cx="1327.59" cy="737.84" r="2.58"/><circle cx="1321.56" cy="664.51" r="2.2"/><circle cx="1387.65" cy="650.96" r="2.72"/><circle cx="1482.91" cy="848.24" r="2.32"/><circle cx="1389.05" cy="635.87" r="2.74"/><circle cx="1284.91" cy="719.06" r="2.69"/><circle cx="1414.78" cy="839.66" r="2.21"/><circle cx="1498.34" cy="792.97" r="2.27"/><circle cx="1518.93" cy="776.32" r="2.34"/><circle cx="1373.29" cy="763.71" r="2.73"/><circle cx="1317.51" cy="819.86" r="2.45"/><circle cx="1432.54" cy="815.56" r="2.43"/><circle cx="1312.82" cy="888.44" r="2.87"/><circle cx="1428.27" cy="701.49" r="2.29"/><circle cx="1520.61" cy="893.33" r="2.35"/><circle cx="1312.45" cy="849.18" r="2.39"/><circle cx="1343.73" cy="783" r="2.28"/><circle cx="1424.96" cy="651.91" r="2.12"/><circle cx="1541.16" cy="879.44" r="2.1"/><circle cx="1454.21" cy="712.9" r="2.65"/><circle cx="1457.61" cy="826.25" r="2.6"/><circle cx="1317.83" cy="733.65" r="2.82"/><circle cx="1430.69" cy="677.58" r="2.97"/><circle cx="1417.53" cy="701.3" r="2.35"/><circle cx="1449.8" cy="641.78" r="2.69"/><circle cx="1457.55" cy="669.96" r="2.92"/></g>
<polygon points="1374,687 1382,692 1391,685 1389,696 1392,706 1384,712 1376,714 1372,703 1375,695" fill="#fff" fill-opacity="0.95" filter="url(#wbl)"/><polygon points="1409,882 1417,873 1425,880 1429,892 1407,893" fill="#fff" fill-opacity="0.95" filter="url(#wbl)"/><line x1="1473" y1="882.3" x2="1531.5" y2="882.3" stroke="#111" stroke-width="2.2"/>
</g>
<rect x="1278" y="629.8" width="268.6" height="267.6" fill="none" stroke="#3a3a3a" stroke-width="1.8"/>
<g clip-path="url(#ic1)">
<rect x="1554.2" y="629.8" width="268" height="267.6" fill="rgb(177,157,133)"/>
<rect x="1554.2" y="629.8" width="268" height="267.6" filter="url(#tx1)"/>
<ellipse cx="1650" cy="700" rx="60" ry="40" fill="#8a7048" fill-opacity="0.2" filter="url(#ibl)"/>
<ellipse cx="1640" cy="780" rx="50" ry="40" fill="#8a7048" fill-opacity="0.18" filter="url(#ibl)"/>
<ellipse cx="1735" cy="760" rx="45" ry="40" fill="#80683e" fill-opacity="0.22" filter="url(#ibl)"/>
<ellipse cx="1610" cy="860" rx="50" ry="30" fill="#8a7048" fill-opacity="0.18" filter="url(#ibl)"/>
<ellipse cx="1760" cy="660" rx="50" ry="25" fill="#8a7048" fill-opacity="0.18" filter="url(#ibl)"/>
<g fill="#5e6892" fill-opacity="0.7" filter="url(#nbl)"><circle cx="1681.49" cy="805.11" r="2.2"/><circle cx="1732.13" cy="669.39" r="2.14"/><circle cx="1559.07" cy="730.59" r="2.2"/><circle cx="1628.55" cy="845.41" r="2.65"/><circle cx="1738.52" cy="790.34" r="2.98"/><circle cx="1703.56" cy="806.12" r="2.09"/><circle cx="1594.56" cy="747.8" r="2.5"/><circle cx="1599.04" cy="870.61" r="2.4"/><circle cx="1571.73" cy="847.64" r="2.36"/><circle cx="1575.9" cy="812.88" r="2.39"/><circle cx="1645.17" cy="738.46" r="2.18"/><circle cx="1778.59" cy="636.7" r="2.47"/><circle cx="1572.25" cy="873" r="2.32"/><circle cx="1690.56" cy="655.78" r="2.13"/><circle cx="1816.8" cy="881.35" r="2.2"/><circle cx="1585.91" cy="743.36" r="2.92"/><circle cx="1591.86" cy="714.19" r="2.73"/><circle cx="1720.26" cy="674.9" r="2.97"/><circle cx="1740.16" cy="645.34" r="2.82"/><circle cx="1601.4" cy="846.82" r="2.75"/><circle cx="1661.94" cy="742.21" r="2.29"/><circle cx="1713.54" cy="757.48" r="2.18"/><circle cx="1657.73" cy="639.84" r="2.98"/><circle cx="1747.95" cy="886.82" r="2.7"/><circle cx="1813.94" cy="806.72" r="2.74"/><circle cx="1650.28" cy="727.52" r="2.21"/><circle cx="1738.39" cy="809.41" r="2.8"/><circle cx="1586.25" cy="693.74" r="2.57"/><circle cx="1652.12" cy="766.59" r="2.16"/><circle cx="1770.07" cy="763.6" r="2.27"/><circle cx="1563.63" cy="848.63" r="2.96"/><circle cx="1669.76" cy="768.61" r="2.65"/><circle cx="1614.85" cy="744.42" r="2.16"/><circle cx="1658.7" cy="835.28" r="2.15"/><circle cx="1583.29" cy="776.77" r="2.76"/><circle cx="1603.21" cy="815.24" r="2.4"/><circle cx="1565.93" cy="704.7" r="2.51"/><circle cx="1647.06" cy="799.69" r="2.2"/><circle cx="1569.94" cy="752.86" r="2.24"/><circle cx="1611.32" cy="706.11" r="2.53"/><circle cx="1681.93" cy="884.53" r="2.47"/><circle cx="1652.35" cy="681.68" r="2.25"/><circle cx="1753.81" cy="872.21" r="2.22"/><circle cx="1557.96" cy="702.51" r="2.48"/><circle cx="1759.66" cy="721.9" r="2.18"/><circle cx="1619.98" cy="634.07" r="2.14"/><circle cx="1566.77" cy="794.99" r="2.51"/><circle cx="1815.93" cy="895" r="2.13"/><circle cx="1689.15" cy="638.1" r="2.75"/><circle cx="1641.33" cy="839.36" r="2.78"/><circle cx="1775.84" cy="800.35" r="2.72"/><circle cx="1616.79" cy="770.78" r="2.95"/><circle cx="1682.23" cy="797.08" r="2.23"/><circle cx="1625.55" cy="881.34" r="2.46"/><circle cx="1792.3" cy="674.54" r="2.46"/><circle cx="1633.11" cy="861.97" r="2.15"/><circle cx="1692.21" cy="815.26" r="2.86"/><circle cx="1742.24" cy="688.23" r="2.12"/><circle cx="1631.45" cy="699" r="2.97"/><circle cx="1590.98" cy="865.46" r="2.69"/><circle cx="1667.17" cy="695.39" r="2.98"/><circle cx="1671.11" cy="889.99" r="2.13"/><circle cx="1704.02" cy="796.48" r="2.89"/><circle cx="1799.06" cy="885.38" r="2.96"/><circle cx="1756.95" cy="741.89" r="2.79"/><circle cx="1711.55" cy="869.29" r="2.61"/><circle cx="1764.56" cy="784.73" r="2.67"/><circle cx="1750.46" cy="780.29" r="2.52"/><circle cx="1560.72" cy="818.99" r="2.86"/><circle cx="1794.8" cy="842.08" r="2.61"/><circle cx="1793.13" cy="871.81" r="2.58"/><circle cx="1697.42" cy="839.81" r="2.45"/><circle cx="1656.38" cy="657.71" r="2.65"/><circle cx="1649.44" cy="714.07" r="2.61"/><circle cx="1802.78" cy="813.45" r="2.94"/><circle cx="1589.13" cy="772.63" r="2.78"/><circle cx="1741.16" cy="735.7" r="2.38"/><circle cx="1621.08" cy="739.05" r="2.74"/><circle cx="1641.63" cy="812.44" r="2.29"/><circle cx="1593.64" cy="655.67" r="2.52"/><circle cx="1756.74" cy="805.62" r="2.56"/><circle cx="1802.96" cy="728.17" r="2.74"/><circle cx="1564.05" cy="760.39" r="2.15"/><circle cx="1673.33" cy="679.08" r="2.21"/><circle cx="1732.39" cy="721.76" r="2.25"/><circle cx="1619.12" cy="718.12" r="2.64"/><circle cx="1805.36" cy="633.84" r="2.24"/><circle cx="1651.32" cy="705.53" r="2.59"/><circle cx="1614.38" cy="874.01" r="2.88"/><circle cx="1599.06" cy="754.28" r="2.47"/><circle cx="1716.32" cy="853.98" r="2.28"/><circle cx="1622.17" cy="752.96" r="2.62"/><circle cx="1781.87" cy="851.03" r="2.45"/><circle cx="1812.92" cy="777.8" r="2.48"/><circle cx="1749.52" cy="716.75" r="2.24"/><circle cx="1688.17" cy="726.92" r="2.7"/><circle cx="1637.3" cy="667.63" r="2.39"/><circle cx="1622.69" cy="643.9" r="2.98"/><circle cx="1768.35" cy="707.09" r="2.53"/><circle cx="1803.34" cy="789.64" r="2.7"/><circle cx="1658.92" cy="861.95" r="2.92"/><circle cx="1793.07" cy="716.41" r="2.98"/><circle cx="1589.42" cy="800.75" r="2.1"/><circle cx="1778.67" cy="792.2" r="2.92"/><circle cx="1719.3" cy="701.18" r="2.17"/><circle cx="1663.62" cy="731.89" r="2.94"/><circle cx="1769.3" cy="676.57" r="2.8"/><circle cx="1610.34" cy="698.93" r="2.31"/><circle cx="1812.55" cy="769.6" r="2.73"/><circle cx="1650.92" cy="825.45" r="2.59"/><circle cx="1611.96" cy="863.72" r="2.49"/><circle cx="1562.69" cy="713.1" r="2.65"/><circle cx="1559.62" cy="676.89" r="2.5"/><circle cx="1634.5" cy="681.9" r="2.68"/><circle cx="1604.79" cy="714.03" r="2.71"/><circle cx="1583.21" cy="812.36" r="2.09"/><circle cx="1697.77" cy="750.01" r="2.66"/><circle cx="1695.48" cy="803.53" r="2.72"/><circle cx="1723.99" cy="754.98" r="2.87"/><circle cx="1723.59" cy="734.2" r="2.57"/><circle cx="1744.96" cy="705.21" r="2.57"/><circle cx="1800.36" cy="761.37" r="2.21"/><circle cx="1782.05" cy="813.79" r="2.26"/><circle cx="1668.88" cy="738.79" r="2.89"/><circle cx="1716.63" cy="830.52" r="2.14"/><circle cx="1777.71" cy="665.89" r="2.9"/><circle cx="1572.67" cy="660.31" r="2.19"/><circle cx="1578.44" cy="646.68" r="2.43"/><circle cx="1718.77" cy="886.35" r="2.65"/><circle cx="1809.78" cy="828.64" r="2.11"/><circle cx="1681.72" cy="686.26" r="2.49"/><circle cx="1699.58" cy="715.08" r="2.81"/><circle cx="1620.01" cy="654.78" r="2.43"/><circle cx="1816.7" cy="833.51" r="2.24"/><circle cx="1634.92" cy="875.24" r="2.13"/><circle cx="1714.63" cy="808.18" r="2.94"/><circle cx="1559.51" cy="692.04" r="2.18"/><circle cx="1683.56" cy="824.49" r="2.69"/><circle cx="1774.21" cy="831.42" r="2.66"/><circle cx="1783.86" cy="892.65" r="2.33"/><circle cx="1721.05" cy="773.07" r="2.59"/><circle cx="1651.68" cy="692.56" r="2.7"/><circle cx="1657.93" cy="793.23" r="2.27"/><circle cx="1583.22" cy="826.09" r="2.3"/><circle cx="1700.89" cy="788.87" r="2.92"/><circle cx="1708.58" cy="731.54" r="2.27"/><circle cx="1638" cy="725.34" r="2.52"/><circle cx="1819.56" cy="718.88" r="2.49"/><circle cx="1688.85" cy="753.03" r="2.79"/><circle cx="1601.87" cy="737.18" r="2.86"/><circle cx="1803.82" cy="710.05" r="2.78"/><circle cx="1661.07" cy="767.75" r="2.65"/><circle cx="1727.15" cy="651.22" r="2.57"/><circle cx="1733.49" cy="658.47" r="2.16"/><circle cx="1601.5" cy="747.33" r="2.6"/><circle cx="1630.82" cy="853.53" r="2.47"/><circle cx="1617.77" cy="683.53" r="2.77"/><circle cx="1724.65" cy="799.76" r="2.42"/><circle cx="1809.39" cy="752.65" r="2.19"/><circle cx="1803.57" cy="735.06" r="2.43"/><circle cx="1679.05" cy="726.54" r="2.84"/><circle cx="1744.99" cy="829.89" r="2.53"/><circle cx="1748" cy="764.01" r="2.69"/><circle cx="1731.07" cy="794.23" r="2.13"/><circle cx="1744.78" cy="725.45" r="2.28"/><circle cx="1637.13" cy="638.3" r="2.32"/><circle cx="1659.23" cy="886.75" r="2.52"/><circle cx="1777.08" cy="742.74" r="2.19"/><circle cx="1639.17" cy="700.11" r="2.94"/><circle cx="1665.45" cy="645.46" r="2.38"/><circle cx="1588.36" cy="851.09" r="2.08"/><circle cx="1656.43" cy="761.04" r="2.3"/><circle cx="1714.93" cy="877.73" r="2.54"/><circle cx="1594.77" cy="691.92" r="2.64"/><circle cx="1783.34" cy="871.58" r="2.82"/><circle cx="1802.19" cy="771.08" r="2.16"/><circle cx="1796.61" cy="833.54" r="2.96"/><circle cx="1625.03" cy="772.49" r="2.86"/><circle cx="1795.53" cy="660.42" r="2.55"/><circle cx="1726.24" cy="746.72" r="2.67"/><circle cx="1694.01" cy="779.86" r="2.36"/><circle cx="1701.32" cy="775.2" r="2.22"/><circle cx="1779.82" cy="730" r="2.09"/><circle cx="1793.9" cy="638.22" r="2.95"/><circle cx="1766.38" cy="770.91" r="2.89"/><circle cx="1767.3" cy="828.63" r="2.49"/><circle cx="1735" cy="860.91" r="2.63"/><circle cx="1727.85" cy="727.56" r="2.51"/><circle cx="1631.91" cy="653.43" r="2.71"/><circle cx="1588.76" cy="643.01" r="2.17"/><circle cx="1813.77" cy="668.89" r="2.77"/><circle cx="1715.34" cy="667.15" r="2.24"/><circle cx="1730.64" cy="706.27" r="2.62"/><circle cx="1706.5" cy="816.61" r="2.65"/><circle cx="1754.61" cy="849" r="2.85"/><circle cx="1754.44" cy="707.03" r="2.64"/><circle cx="1600.93" cy="637.26" r="2.24"/><circle cx="1720.48" cy="726.16" r="2.82"/><circle cx="1581.02" cy="760.98" r="2.42"/><circle cx="1665.73" cy="717.54" r="2.59"/><circle cx="1696.07" cy="892.04" r="2.81"/><circle cx="1786.4" cy="714.87" r="2.97"/><circle cx="1803.57" cy="646.98" r="2.17"/><circle cx="1730.82" cy="818.03" r="2.49"/><circle cx="1610.17" cy="663.87" r="2.37"/><circle cx="1772.47" cy="810.85" r="2.85"/><circle cx="1671.64" cy="872.06" r="2.44"/><circle cx="1639.79" cy="645.37" r="2.91"/><circle cx="1809.48" cy="864.08" r="2.8"/><circle cx="1730.52" cy="758.33" r="2.46"/><circle cx="1610" cy="689.61" r="2.77"/><circle cx="1682.68" cy="868.06" r="2.7"/><circle cx="1761.11" cy="817.98" r="2.19"/><circle cx="1816.2" cy="854.71" r="2.35"/><circle cx="1609.44" cy="740.23" r="2.2"/><circle cx="1602.61" cy="796.33" r="2.84"/><circle cx="1642.8" cy="892.21" r="2.44"/><circle cx="1736.8" cy="767.98" r="2.35"/><circle cx="1609.1" cy="885.61" r="2.73"/><circle cx="1797.39" cy="803.16" r="2.98"/><circle cx="1699.16" cy="675.82" r="2.21"/><circle cx="1641.82" cy="786.55" r="2.71"/><circle cx="1579.57" cy="879.16" r="2.29"/><circle cx="1716.92" cy="814.6" r="2.8"/><circle cx="1814.33" cy="762.42" r="2.76"/><circle cx="1621.56" cy="858.4" r="2.78"/><circle cx="1599.23" cy="703.46" r="2.61"/><circle cx="1732.98" cy="744.23" r="2.19"/><circle cx="1589.45" cy="684.53" r="2.86"/><circle cx="1671.06" cy="859.15" r="2.18"/><circle cx="1604.48" cy="648.27" r="2.61"/><circle cx="1750.04" cy="668.89" r="2.95"/><circle cx="1777.95" cy="773.07" r="2.32"/><circle cx="1579.35" cy="678.11" r="2.52"/><circle cx="1634.18" cy="841.09" r="2.7"/><circle cx="1644.45" cy="884.89" r="2.67"/><circle cx="1626.38" cy="866.19" r="2.37"/><circle cx="1625.67" cy="821.9" r="2.46"/><circle cx="1600.83" cy="788.65" r="2.9"/><circle cx="1752.22" cy="863.41" r="2.73"/><circle cx="1797.48" cy="895.03" r="2.24"/><circle cx="1584.15" cy="703.89" r="2.7"/><circle cx="1623.98" cy="834.32" r="2.86"/><circle cx="1682.12" cy="632.86" r="2.63"/><circle cx="1578.66" cy="633.72" r="2.89"/><circle cx="1673.78" cy="813.05" r="2.32"/><circle cx="1638.65" cy="710.36" r="2.34"/><circle cx="1748.29" cy="644.2" r="2.87"/><circle cx="1659.81" cy="714.28" r="2.31"/><circle cx="1744.6" cy="677.64" r="2.2"/></g>
<polygon points="1562,768 1568,762 1574,770 1580,788 1588,792 1578,806 1566,812 1559,806 1557,785" fill="#dfe0e8" fill-opacity="0.85" filter="url(#wbl)"/><polygon points="1580,785 1592,776 1600,770 1596,780 1588,790" fill="#fff" fill-opacity="0.8" filter="url(#wbl)"/><polygon points="1797,873 1812,868 1822,862 1822,888 1806,884" fill="#fff" fill-opacity="0.9" filter="url(#wbl)"/><rect x="1694.6" y="686.6" width="123.5" height="130" fill="none" stroke="#f2ea18" stroke-width="2.6"/><line x1="1749" y1="884.6" x2="1807.7" y2="884.6" stroke="#111" stroke-width="2.2"/>
</g>
<rect x="1554.2" y="629.8" width="268" height="267.6" fill="none" stroke="#3a3a3a" stroke-width="1.8"/>
<g clip-path="url(#ic2)">
<rect x="1857.6" y="629.8" width="268.4" height="267.6" fill="rgb(178,150,114)"/>
<rect x="1857.6" y="629.8" width="268.4" height="267.6" filter="url(#tx2)"/>
<ellipse cx="1905" cy="760" rx="40" ry="50" fill="#8a5a20" fill-opacity="0.3" filter="url(#ibl)"/>
<ellipse cx="2060" cy="900" rx="50" ry="40" fill="#fff" fill-opacity="0.15" filter="url(#ibl)"/>
<ellipse cx="1900" cy="860" rx="30" ry="40" fill="#8a5a20" fill-opacity="0.2" filter="url(#ibl)"/>
<g fill="#7a7e9e" fill-opacity="0.9" stroke="#4a4f78" stroke-width="1.3" stroke-opacity="0.8" filter="url(#nbl)"><circle cx="1928.08" cy="812.43" r="5.4"/><circle cx="2040.47" cy="855.69" r="4.17"/><circle cx="1908.71" cy="692.58" r="5.36"/><circle cx="2053.68" cy="666.12" r="4.18"/><circle cx="2000.08" cy="688.19" r="4.01"/><circle cx="1937.51" cy="745.56" r="4.78"/><circle cx="2081.08" cy="792.17" r="5.51"/><circle cx="1863.42" cy="704.51" r="4.36"/><circle cx="1898.39" cy="861.47" r="4.75"/><circle cx="2073.7" cy="844.27" r="4.96"/><circle cx="2078.09" cy="828.12" r="4.34"/><circle cx="2110.6" cy="841.04" r="4.83"/><circle cx="1927.47" cy="855.84" r="3.94"/><circle cx="1988.31" cy="830.82" r="4.69"/><circle cx="2008.76" cy="745.04" r="5.22"/><circle cx="1955.9" cy="745.1" r="4.5"/><circle cx="1942.56" cy="662.74" r="4.3"/><circle cx="2120.21" cy="813.93" r="4.01"/><circle cx="2006.14" cy="829.08" r="5.12"/><circle cx="1895.26" cy="810.21" r="4.65"/><circle cx="1976.83" cy="678.36" r="5.49"/><circle cx="1913.17" cy="769.58" r="5.19"/><circle cx="1926.58" cy="752.91" r="4.09"/><circle cx="2019.69" cy="736.12" r="5.49"/><circle cx="1894.18" cy="761.19" r="5.52"/><circle cx="1921.85" cy="693.92" r="5.32"/><circle cx="1911.02" cy="728.39" r="5.35"/><circle cx="1878.97" cy="803.46" r="5.09"/><circle cx="2111.75" cy="734.52" r="5.16"/><circle cx="2049.67" cy="877.73" r="5.06"/><circle cx="1871.02" cy="669.16" r="4.93"/><circle cx="2028.57" cy="673.91" r="4.36"/><circle cx="1968.93" cy="860.67" r="4.15"/><circle cx="2093.91" cy="843.52" r="5.17"/><circle cx="1913.29" cy="856.82" r="4.94"/><circle cx="1958.69" cy="820.67" r="4.02"/><circle cx="1895.82" cy="887.84" r="5.02"/><circle cx="2019.17" cy="822.31" r="4.97"/><circle cx="1915.58" cy="794.5" r="4.8"/><circle cx="2013.18" cy="787.65" r="5.25"/><circle cx="1949.85" cy="709.65" r="5.42"/><circle cx="1889.28" cy="691.26" r="4.57"/><circle cx="2006.65" cy="775.02" r="5.32"/><circle cx="1869.87" cy="747.68" r="4.78"/><circle cx="1860.39" cy="894.85" r="4.9"/><circle cx="1891.73" cy="711.28" r="4.63"/><circle cx="1930.71" cy="789.24" r="5.52"/><circle cx="1880.07" cy="755.66" r="4.68"/><circle cx="1956.55" cy="851.78" r="5.55"/><circle cx="1861.11" cy="720.04" r="4.5"/><circle cx="1990.89" cy="887.44" r="5.07"/><circle cx="1996.21" cy="756.81" r="5.49"/><circle cx="2036.62" cy="709.97" r="5.09"/><circle cx="1867.99" cy="763.96" r="4.56"/><circle cx="2100.31" cy="826.44" r="4.05"/><circle cx="2084.11" cy="699.95" r="4.74"/><circle cx="1924.18" cy="707.55" r="4.63"/><circle cx="1882.54" cy="831.65" r="5.32"/><circle cx="2018.19" cy="632.88" r="5.27"/><circle cx="2064.21" cy="682" r="5.61"/><circle cx="1986.71" cy="778" r="4.69"/><circle cx="2087.93" cy="661.31" r="4.62"/><circle cx="2091.33" cy="892.73" r="4.89"/><circle cx="1893.8" cy="843.65" r="5.21"/><circle cx="1944.93" cy="867.17" r="4.06"/><circle cx="2003.8" cy="664.92" r="4.29"/><circle cx="1986.23" cy="729.77" r="4.17"/><circle cx="1916.12" cy="821.16" r="4.48"/><circle cx="2035.85" cy="878.36" r="4.43"/><circle cx="1997.06" cy="874.43" r="5.58"/><circle cx="2023.69" cy="853.13" r="4.28"/><circle cx="2074.4" cy="772.46" r="5.52"/><circle cx="1938.79" cy="885.35" r="4.43"/><circle cx="1873.37" cy="639.81" r="4.27"/><circle cx="2123.9" cy="845.07" r="5.59"/><circle cx="1971.8" cy="795.79" r="4.07"/><circle cx="1936.39" cy="832.66" r="4.11"/><circle cx="2122.98" cy="756.02" r="4.14"/><circle cx="1978.63" cy="632.77" r="4.03"/><circle cx="2085.27" cy="741.5" r="4.58"/><circle cx="1987.58" cy="700.72" r="4.28"/><circle cx="1981.51" cy="869.58" r="4.19"/><circle cx="1910.03" cy="782.83" r="3.95"/><circle cx="1868.64" cy="848.28" r="5.12"/><circle cx="1906.85" cy="658.92" r="4"/><circle cx="2015.3" cy="712.8" r="4.32"/><circle cx="2093.64" cy="762.79" r="4.89"/><circle cx="1997.45" cy="851.78" r="5.44"/><circle cx="2031.21" cy="744.74" r="5.05"/><circle cx="2113.25" cy="637.61" r="5.14"/></g>
<line x1="2054" y1="882.3" x2="2111.5" y2="882.3" stroke="#111" stroke-width="2.2"/>
</g>
<path d="M2125 629.8 H1857.6 V897.4 H2125" fill="none" stroke="#3a3a3a" stroke-width="1.8"/>
<g clip-path="url(#ic3)">
<rect x="1278" y="905.2" width="268.6" height="268" fill="rgb(196,186,175)"/>
<rect x="1278" y="905.2" width="268.6" height="268" filter="url(#tx3)"/>
<g fill="#6a72a0" fill-opacity="0.7" filter="url(#nbl)"><circle cx="1308.27" cy="1092.68" r="2.84"/><circle cx="1452.53" cy="1155.45" r="2.37"/><circle cx="1351.74" cy="974.72" r="2.49"/><circle cx="1474.23" cy="1081.03" r="2.96"/><circle cx="1360.17" cy="1087.84" r="2.84"/><circle cx="1384.96" cy="1112.46" r="2.71"/><circle cx="1311.33" cy="966.14" r="2.61"/><circle cx="1518.53" cy="1001.72" r="2.96"/><circle cx="1348.9" cy="1119.53" r="2.51"/><circle cx="1447.14" cy="946.72" r="2.64"/><circle cx="1425.88" cy="1082.5" r="2.88"/><circle cx="1323.65" cy="1079.25" r="2.41"/><circle cx="1312.55" cy="996.19" r="2.47"/><circle cx="1302.02" cy="961.17" r="2.68"/><circle cx="1538.78" cy="1013.77" r="2.73"/><circle cx="1542.07" cy="1023" r="2.72"/><circle cx="1440.75" cy="1137.57" r="2.45"/><circle cx="1461.75" cy="936.64" r="2.33"/><circle cx="1435.87" cy="1074.5" r="2.78"/><circle cx="1327.95" cy="932.19" r="2.74"/><circle cx="1511.47" cy="1042.84" r="2.55"/><circle cx="1331.29" cy="1026.69" r="2.31"/><circle cx="1337.73" cy="1117.94" r="2.14"/><circle cx="1412.43" cy="934.24" r="2.55"/><circle cx="1496.48" cy="930.84" r="2.91"/><circle cx="1354.26" cy="914.59" r="2.87"/><circle cx="1475.89" cy="937.26" r="2.76"/><circle cx="1419.12" cy="931.75" r="2.47"/><circle cx="1407.12" cy="1088.14" r="2.87"/><circle cx="1421.52" cy="1027.36" r="2.88"/><circle cx="1408.3" cy="1022.58" r="2.36"/><circle cx="1437.56" cy="932.24" r="2.57"/><circle cx="1405.56" cy="969.57" r="2.41"/><circle cx="1509" cy="1155.1" r="2.26"/><circle cx="1297.58" cy="945.03" r="2.53"/><circle cx="1466.14" cy="1058.06" r="2.28"/><circle cx="1285.06" cy="1093.29" r="2.94"/><circle cx="1529.76" cy="1018.9" r="2.97"/><circle cx="1371.95" cy="1057.52" r="2.31"/><circle cx="1528.5" cy="976.77" r="2.23"/><circle cx="1359.98" cy="957.02" r="2.26"/><circle cx="1446.28" cy="1031.08" r="2.92"/><circle cx="1347.76" cy="1009.6" r="2.38"/><circle cx="1289.2" cy="989.69" r="2.83"/><circle cx="1540.08" cy="1061.92" r="2.99"/><circle cx="1354.77" cy="1154.34" r="2.39"/><circle cx="1374.8" cy="973.61" r="2.85"/><circle cx="1289.3" cy="945.8" r="2.18"/><circle cx="1332.67" cy="967.93" r="2.12"/><circle cx="1510.99" cy="977.04" r="2.69"/><circle cx="1345.78" cy="1066.64" r="2.36"/><circle cx="1522.67" cy="984.12" r="2.29"/><circle cx="1481.52" cy="1004.55" r="2.54"/><circle cx="1428.47" cy="1064.5" r="2.8"/><circle cx="1529.34" cy="1107.12" r="2.48"/><circle cx="1414.46" cy="1129.33" r="2.58"/><circle cx="1376.97" cy="1008.61" r="2.77"/><circle cx="1534.01" cy="1051.33" r="2.16"/><circle cx="1484.65" cy="990.21" r="2.54"/><circle cx="1522.19" cy="1068.96" r="2.11"/><circle cx="1345.44" cy="1153.68" r="2.27"/><circle cx="1404.08" cy="996.81" r="2.19"/><circle cx="1349.52" cy="934.46" r="2.24"/><circle cx="1333.09" cy="1089.95" r="2.92"/><circle cx="1317.21" cy="975.5" r="2.1"/><circle cx="1398.38" cy="1051" r="2.52"/><circle cx="1392.46" cy="941.22" r="2.15"/><circle cx="1338.82" cy="945.87" r="2.09"/><circle cx="1471.94" cy="945.89" r="2.92"/><circle cx="1456.77" cy="965.82" r="2.54"/><circle cx="1451.18" cy="1080.52" r="2.86"/><circle cx="1373.53" cy="1153.54" r="2.65"/><circle cx="1453.79" cy="1054.33" r="2.6"/><circle cx="1292.25" cy="1014.52" r="2.78"/><circle cx="1350.4" cy="1031.24" r="2.08"/><circle cx="1526.96" cy="1135.28" r="2.27"/><circle cx="1296.38" cy="1086.75" r="2.7"/><circle cx="1527.19" cy="1050.4" r="2.98"/><circle cx="1305.6" cy="1136.03" r="2.25"/><circle cx="1392.81" cy="1166.07" r="2.44"/><circle cx="1511.38" cy="1126.02" r="2.7"/><circle cx="1526.4" cy="925.19" r="2.6"/><circle cx="1315.77" cy="1007.29" r="2.75"/><circle cx="1435.82" cy="908.49" r="2.12"/><circle cx="1398.98" cy="1114.25" r="2.3"/><circle cx="1411.05" cy="1046.63" r="2.69"/><circle cx="1358.4" cy="1163.66" r="2.76"/><circle cx="1345.67" cy="1087.02" r="2.68"/><circle cx="1450.89" cy="907.35" r="2.81"/><circle cx="1543.67" cy="969.36" r="2.81"/><circle cx="1541.65" cy="1152.27" r="2.08"/><circle cx="1518.4" cy="1132.99" r="2.36"/><circle cx="1385.25" cy="1024.79" r="2.15"/><circle cx="1533.07" cy="1120.11" r="2.19"/><circle cx="1466.82" cy="1162.72" r="2.74"/><circle cx="1397.18" cy="1144.98" r="2.43"/><circle cx="1298.43" cy="1022.92" r="2.88"/><circle cx="1432.68" cy="1116.9" r="2.1"/><circle cx="1391.8" cy="1086.88" r="2.49"/><circle cx="1332.8" cy="915.19" r="2.97"/><circle cx="1508.03" cy="1032.87" r="2.41"/><circle cx="1382.66" cy="1044.39" r="2.7"/><circle cx="1342.39" cy="974.55" r="2.87"/><circle cx="1427.72" cy="914.59" r="2.81"/><circle cx="1458.65" cy="1088.37" r="2.37"/><circle cx="1451.88" cy="1111.69" r="2.49"/><circle cx="1392.17" cy="966.57" r="2.78"/><circle cx="1476.93" cy="1072.22" r="2.56"/><circle cx="1466.21" cy="955.68" r="2.47"/><circle cx="1378.61" cy="1089.66" r="2.94"/><circle cx="1381.76" cy="1066.25" r="2.31"/><circle cx="1405.15" cy="1106.41" r="2.71"/><circle cx="1372.18" cy="1038.64" r="2.4"/><circle cx="1499.22" cy="989.2" r="2.65"/><circle cx="1315.22" cy="1133.45" r="2.77"/><circle cx="1352.76" cy="1145.89" r="2.89"/><circle cx="1421.24" cy="947.9" r="2.81"/><circle cx="1417.86" cy="1087.38" r="2.54"/><circle cx="1408.63" cy="1074.88" r="2.61"/><circle cx="1377.64" cy="1160.43" r="2.71"/><circle cx="1326.16" cy="1117.8" r="2.77"/><circle cx="1286.28" cy="1041.09" r="2.92"/><circle cx="1435.72" cy="1145.94" r="2.09"/><circle cx="1361.83" cy="1013.53" r="2.1"/><circle cx="1405.96" cy="1066.94" r="2.95"/><circle cx="1372.69" cy="999.98" r="2.66"/><circle cx="1505.83" cy="1053.89" r="2.17"/><circle cx="1373.26" cy="1123.17" r="2.35"/><circle cx="1517.64" cy="952.57" r="2.21"/><circle cx="1339.87" cy="1009.61" r="2.36"/><circle cx="1485.06" cy="1022.95" r="2.21"/><circle cx="1483.81" cy="1108.91" r="2.74"/><circle cx="1300.32" cy="1124.35" r="2.22"/><circle cx="1497.19" cy="971.02" r="2.49"/><circle cx="1436.46" cy="961.46" r="2.13"/><circle cx="1422.49" cy="1105.69" r="2.44"/><circle cx="1445.74" cy="1126.42" r="2.32"/><circle cx="1301.36" cy="1103.97" r="2.57"/><circle cx="1303.93" cy="1054.11" r="2.32"/><circle cx="1341.06" cy="1145.21" r="2.28"/><circle cx="1308.11" cy="1032.07" r="2.4"/><circle cx="1404.59" cy="1009.08" r="2.94"/><circle cx="1537.19" cy="1002.49" r="2.98"/><circle cx="1537.4" cy="1112.97" r="2.22"/><circle cx="1447.38" cy="917.67" r="2.75"/><circle cx="1399.43" cy="911.13" r="2.13"/><circle cx="1296.41" cy="1006.56" r="2.36"/><circle cx="1415.39" cy="1113.75" r="2.79"/><circle cx="1524.94" cy="1149.04" r="2.74"/><circle cx="1392.74" cy="954.3" r="2.71"/><circle cx="1427.67" cy="1158.64" r="2.53"/><circle cx="1320.53" cy="1156.22" r="2.48"/><circle cx="1359.63" cy="971.65" r="2.13"/><circle cx="1534.19" cy="938.71" r="2.68"/><circle cx="1344.22" cy="1074.45" r="2.66"/><circle cx="1346.94" cy="969" r="2.42"/><circle cx="1282.71" cy="1102.56" r="2.21"/><circle cx="1454.42" cy="989.08" r="2.32"/><circle cx="1517.93" cy="1054.87" r="2.81"/><circle cx="1338.21" cy="1161.97" r="2.16"/><circle cx="1496.06" cy="907.97" r="2.62"/><circle cx="1504.13" cy="1018.26" r="2.78"/><circle cx="1412.89" cy="1156.9" r="2.76"/><circle cx="1293.1" cy="1140.97" r="2.42"/><circle cx="1400.37" cy="1094.95" r="2.7"/><circle cx="1449.58" cy="1165.91" r="2.27"/><circle cx="1413.49" cy="1147.52" r="2.33"/><circle cx="1361.12" cy="939.99" r="2.66"/><circle cx="1537.28" cy="992.97" r="2.18"/><circle cx="1392.23" cy="983.98" r="2.55"/><circle cx="1365.45" cy="1049.1" r="2.7"/><circle cx="1397.55" cy="1154.64" r="2.12"/><circle cx="1385.65" cy="969.69" r="2.12"/><circle cx="1466.26" cy="982.95" r="2.82"/><circle cx="1414.79" cy="1058.1" r="2.8"/><circle cx="1530.23" cy="1154.78" r="2.96"/><circle cx="1468.97" cy="1027.14" r="2.18"/><circle cx="1375.23" cy="1134.31" r="2.85"/><circle cx="1382.55" cy="1003.66" r="2.6"/><circle cx="1356.69" cy="1037.63" r="2.58"/><circle cx="1472.03" cy="1126.83" r="2.24"/><circle cx="1529.97" cy="1082.37" r="2.41"/><circle cx="1414.45" cy="961.56" r="2.25"/><circle cx="1510.54" cy="935.37" r="2.1"/><circle cx="1302.61" cy="1170.53" r="2.72"/><circle cx="1283.22" cy="965.97" r="2.17"/><circle cx="1388.05" cy="1139.6" r="2.16"/><circle cx="1492.88" cy="1070.43" r="2.79"/><circle cx="1505.59" cy="913.9" r="2.83"/><circle cx="1305.03" cy="1020.48" r="2.17"/><circle cx="1444.29" cy="910.88" r="2.48"/><circle cx="1449.32" cy="934.34" r="2.22"/><circle cx="1365.59" cy="918.28" r="2.39"/><circle cx="1346.1" cy="1161.29" r="2.5"/><circle cx="1496.09" cy="1162.91" r="2.34"/><circle cx="1459.27" cy="1114.63" r="2.39"/><circle cx="1411.95" cy="979.24" r="2.5"/><circle cx="1406.38" cy="918.03" r="2.73"/><circle cx="1458.24" cy="995.59" r="2.26"/><circle cx="1419.15" cy="990.67" r="2.23"/><circle cx="1280.06" cy="1001.36" r="2.5"/><circle cx="1541.32" cy="1041.92" r="2.35"/><circle cx="1542.96" cy="914.79" r="2.29"/><circle cx="1284.57" cy="923.45" r="2.22"/><circle cx="1440.08" cy="1007.86" r="2.82"/><circle cx="1381.03" cy="941.65" r="2.81"/><circle cx="1494.27" cy="1049.32" r="2.19"/><circle cx="1359.41" cy="1137.46" r="2.67"/><circle cx="1469.87" cy="1072.97" r="2.48"/><circle cx="1518.86" cy="1170.01" r="2.14"/><circle cx="1513.73" cy="1075.27" r="2.15"/><circle cx="1380.23" cy="995.16" r="2.99"/><circle cx="1531.74" cy="930.35" r="2.18"/><circle cx="1510.04" cy="964.29" r="2.55"/><circle cx="1354.31" cy="984.26" r="2.72"/><circle cx="1357.74" cy="1052.5" r="2.76"/><circle cx="1314.88" cy="1055.32" r="2.72"/><circle cx="1497.08" cy="1088.74" r="2.15"/><circle cx="1481.21" cy="907.39" r="2.43"/><circle cx="1353.97" cy="991.3" r="2.18"/><circle cx="1460.23" cy="948.28" r="2.73"/><circle cx="1332.48" cy="1036.83" r="2.8"/><circle cx="1461.18" cy="1047.48" r="2.29"/><circle cx="1353.56" cy="1016.31" r="2.61"/><circle cx="1424.72" cy="1033.59" r="2.31"/><circle cx="1325.06" cy="1013.79" r="2.41"/><circle cx="1287.97" cy="1056.92" r="2.25"/><circle cx="1492.86" cy="1137.89" r="2.38"/><circle cx="1491.73" cy="1001.79" r="2.22"/><circle cx="1476.63" cy="1012.82" r="2.09"/><circle cx="1533.85" cy="1030.22" r="2.44"/><circle cx="1491.4" cy="954.73" r="2.83"/><circle cx="1472.59" cy="962.78" r="2.65"/><circle cx="1290.65" cy="1033.1" r="2.68"/><circle cx="1314.48" cy="935.83" r="2.5"/><circle cx="1432.93" cy="1127.92" r="2.23"/><circle cx="1505" cy="939.55" r="2.31"/><circle cx="1524.48" cy="944.66" r="2.17"/><circle cx="1339.64" cy="1101.63" r="2.63"/><circle cx="1370.3" cy="942.1" r="2.23"/><circle cx="1522.71" cy="1113.03" r="2.69"/><circle cx="1343.18" cy="1000.17" r="2.11"/><circle cx="1420.5" cy="1163.4" r="2.74"/><circle cx="1384.94" cy="1056.42" r="2.31"/><circle cx="1297.78" cy="912.85" r="2.23"/><circle cx="1403.83" cy="1170.47" r="2.5"/><circle cx="1337.98" cy="927.79" r="2.28"/><circle cx="1390.36" cy="1047.3" r="2.8"/><circle cx="1456.03" cy="940.48" r="2.68"/><circle cx="1484.68" cy="919.06" r="2.5"/><circle cx="1317.86" cy="922.48" r="2.57"/><circle cx="1543" cy="1030.22" r="2.78"/><circle cx="1349.1" cy="946.8" r="2.67"/><circle cx="1490.83" cy="1151.05" r="2.47"/><circle cx="1476.66" cy="1020.52" r="2.59"/><circle cx="1306.54" cy="1163.52" r="2.48"/><circle cx="1494.75" cy="982.23" r="2.66"/><circle cx="1442.95" cy="1095.06" r="2.82"/><circle cx="1438.54" cy="1022.97" r="2.78"/><circle cx="1319.6" cy="1112.92" r="2.95"/><circle cx="1296.98" cy="1162.08" r="2.1"/><circle cx="1432.6" cy="925.7" r="2.14"/><circle cx="1530.02" cy="1168.54" r="2.18"/><circle cx="1341.85" cy="1055.62" r="2.94"/><circle cx="1300.06" cy="1141" r="2.42"/><circle cx="1338.73" cy="960.9" r="2.53"/><circle cx="1326.48" cy="982.3" r="2.49"/><circle cx="1530.24" cy="962.49" r="2.5"/><circle cx="1328.57" cy="922.32" r="2.69"/><circle cx="1496.84" cy="1155.47" r="2.65"/><circle cx="1492.4" cy="1035.96" r="2.27"/><circle cx="1363.87" cy="1148.87" r="2.52"/><circle cx="1498.42" cy="998.19" r="2.85"/><circle cx="1530.48" cy="1043.24" r="2.5"/><circle cx="1333.45" cy="992.27" r="2.5"/><circle cx="1365.19" cy="1072.56" r="2.34"/><circle cx="1521.88" cy="1106.14" r="2.45"/><circle cx="1301.56" cy="1034.08" r="2.43"/><circle cx="1308.22" cy="909.36" r="2.25"/><circle cx="1384.78" cy="948.95" r="2.63"/><circle cx="1455.49" cy="1024.13" r="2.14"/><circle cx="1438.69" cy="1121.34" r="2.3"/><circle cx="1332" cy="1044.38" r="2.09"/><circle cx="1424.19" cy="1041.89" r="2.82"/><circle cx="1423.02" cy="1117.45" r="2.47"/><circle cx="1370.75" cy="1027.49" r="2.43"/><circle cx="1306.3" cy="948.59" r="2.87"/><circle cx="1413.29" cy="1037.72" r="2.76"/><circle cx="1538.95" cy="1078.66" r="2.31"/><circle cx="1285.02" cy="1082.23" r="2.66"/><circle cx="1376.42" cy="1143.49" r="2.33"/><circle cx="1489.51" cy="1028.17" r="2.41"/><circle cx="1319.35" cy="1093.98" r="2.17"/><circle cx="1508.43" cy="1086.71" r="2.54"/><circle cx="1470.66" cy="1035.11" r="2.66"/><circle cx="1479.82" cy="1167.32" r="2.31"/><circle cx="1433.7" cy="1028.79" r="2.41"/><circle cx="1543.13" cy="941.48" r="2.31"/><circle cx="1291.94" cy="1062.73" r="2.7"/><circle cx="1313.98" cy="1150.62" r="2.92"/><circle cx="1341.58" cy="1043.76" r="2.86"/><circle cx="1325.13" cy="1124.76" r="2.77"/><circle cx="1541.06" cy="1129.66" r="2.81"/><circle cx="1306.07" cy="998.51" r="2.45"/><circle cx="1402.06" cy="1127.35" r="2.36"/><circle cx="1427.41" cy="958.18" r="2.89"/><circle cx="1465.01" cy="929.65" r="2.97"/><circle cx="1291.37" cy="1047.95" r="2.73"/><circle cx="1461.42" cy="1011.67" r="2.31"/><circle cx="1418.84" cy="940.83" r="2.14"/><circle cx="1514.44" cy="1104" r="2.66"/><circle cx="1351.29" cy="1000.06" r="2.15"/><circle cx="1491.58" cy="1118.12" r="2.86"/><circle cx="1308.35" cy="1072.93" r="2.24"/><circle cx="1444.28" cy="954.66" r="2.33"/><circle cx="1502.93" cy="1068.57" r="2.18"/><circle cx="1535.78" cy="977.96" r="2.79"/><circle cx="1478.47" cy="968.1" r="2.24"/><circle cx="1509.17" cy="1167.76" r="2.23"/><circle cx="1413.79" cy="1092.93" r="2.41"/><circle cx="1542.25" cy="934.27" r="2.19"/><circle cx="1474.9" cy="1118.39" r="2.14"/><circle cx="1373.09" cy="909.7" r="2.91"/><circle cx="1369.03" cy="1163.8" r="2.45"/><circle cx="1480.99" cy="996.6" r="2.31"/><circle cx="1504.93" cy="929.75" r="2.24"/><circle cx="1475.25" cy="1053.13" r="2.75"/><circle cx="1540.79" cy="985.04" r="2.11"/><circle cx="1396.12" cy="1029.19" r="2.55"/><circle cx="1294.16" cy="1072.41" r="2.48"/></g>
<polygon points="1418,1036 1428,1032 1440,1038 1444,1046 1436,1052 1424,1050 1416,1044" fill="#e8e6e4" fill-opacity="0.75" filter="url(#wbl)"/><line x1="1473" y1="1159.3" x2="1532.5" y2="1159.3" stroke="#111" stroke-width="2.2"/>
</g>
<rect x="1278" y="905.2" width="268.6" height="268" fill="none" stroke="#3a3a3a" stroke-width="1.8"/>
<g clip-path="url(#ic4)">
<rect x="1554.2" y="905.2" width="268" height="268" fill="rgb(192,182,174)"/>
<rect x="1554.2" y="905.2" width="268" height="268" filter="url(#tx4)"/>
<g fill="#525a8c" fill-opacity="0.85" filter="url(#nbl)"><circle cx="1811.02" cy="910.28" r="2.66"/><circle cx="1750.5" cy="948.92" r="2.46"/><circle cx="1788.39" cy="1087.08" r="2.75"/><circle cx="1782.54" cy="1171.15" r="2.57"/><circle cx="1619.48" cy="996.45" r="2.12"/><circle cx="1743.16" cy="981.27" r="2.78"/><circle cx="1625.71" cy="967.55" r="2.97"/><circle cx="1782.67" cy="1138.08" r="2.21"/><circle cx="1766.77" cy="966.18" r="2.23"/><circle cx="1800.36" cy="1042.2" r="2.61"/><circle cx="1617.29" cy="1027.46" r="2.66"/><circle cx="1667.05" cy="928.05" r="2.49"/><circle cx="1705.28" cy="1002.23" r="2.24"/><circle cx="1706.58" cy="1152.78" r="2.53"/><circle cx="1726.63" cy="1014.15" r="2.4"/><circle cx="1685.63" cy="1156.69" r="2.56"/><circle cx="1561.15" cy="944.24" r="2.93"/><circle cx="1601.66" cy="1154.85" r="2.48"/><circle cx="1738.49" cy="1097.04" r="2.99"/><circle cx="1631.87" cy="1037.88" r="2.93"/><circle cx="1790.39" cy="933.57" r="2.27"/><circle cx="1586.88" cy="919.72" r="2.53"/><circle cx="1679.93" cy="1129.09" r="2.19"/><circle cx="1702.72" cy="1013.19" r="2.21"/><circle cx="1688.74" cy="954.51" r="2.59"/><circle cx="1806.51" cy="1000.6" r="2.12"/><circle cx="1618.31" cy="989.37" r="2.78"/><circle cx="1773.98" cy="991.22" r="2.72"/><circle cx="1795.07" cy="995.95" r="2.97"/><circle cx="1795.77" cy="1117.38" r="2.77"/><circle cx="1681.45" cy="937.67" r="2.84"/><circle cx="1686.22" cy="1006.5" r="2.38"/><circle cx="1777.96" cy="1152.19" r="2.98"/><circle cx="1751.85" cy="983.02" r="2.28"/><circle cx="1567.12" cy="1143.2" r="2.91"/><circle cx="1805.55" cy="949.01" r="2.92"/><circle cx="1688.18" cy="1034.18" r="2.77"/><circle cx="1813.98" cy="918.56" r="2.81"/><circle cx="1572.49" cy="1129.95" r="2.26"/><circle cx="1706.57" cy="1029.24" r="2.82"/><circle cx="1761.53" cy="1063.84" r="2.27"/><circle cx="1739" cy="974.69" r="2.28"/><circle cx="1578.62" cy="909.56" r="2.16"/><circle cx="1644.14" cy="1078.4" r="2.81"/><circle cx="1656.46" cy="998.89" r="2.77"/><circle cx="1719.5" cy="1093.37" r="2.48"/><circle cx="1713.4" cy="989.5" r="2.12"/><circle cx="1773.14" cy="1118.59" r="2.21"/><circle cx="1792.08" cy="1142.84" r="2.82"/><circle cx="1560.17" cy="1083.86" r="2.68"/><circle cx="1648.09" cy="1009.75" r="2.33"/><circle cx="1692.98" cy="945.19" r="2.92"/><circle cx="1622.05" cy="1167.57" r="2.59"/><circle cx="1643.59" cy="1148.23" r="2.11"/><circle cx="1736.88" cy="990.31" r="2.98"/><circle cx="1640.34" cy="1066.88" r="2.39"/><circle cx="1741.55" cy="996.97" r="2.5"/><circle cx="1571.79" cy="952.67" r="2.9"/><circle cx="1783.42" cy="1099.62" r="2.93"/><circle cx="1584.78" cy="1127.67" r="2.32"/><circle cx="1708.23" cy="995.59" r="2.89"/><circle cx="1792.2" cy="941.19" r="2.32"/><circle cx="1582.13" cy="997.91" r="2.1"/><circle cx="1750.96" cy="1051.81" r="2.15"/><circle cx="1684.03" cy="1146.58" r="2.23"/><circle cx="1660.2" cy="1115.27" r="2.6"/><circle cx="1557.41" cy="1113.9" r="2.32"/><circle cx="1597.25" cy="1080.3" r="2.84"/><circle cx="1777.56" cy="1080.32" r="2.43"/><circle cx="1709.01" cy="1052.41" r="2.15"/><circle cx="1754.57" cy="1004.56" r="2.53"/><circle cx="1617.86" cy="1054.27" r="2.17"/><circle cx="1693.57" cy="937.89" r="2.09"/><circle cx="1696.14" cy="1030.46" r="2.92"/><circle cx="1597.5" cy="1094" r="2.17"/><circle cx="1761.72" cy="996.63" r="2.18"/><circle cx="1628.12" cy="941.5" r="2.32"/><circle cx="1628.27" cy="1170.89" r="2.19"/><circle cx="1572.15" cy="1149.08" r="2.48"/><circle cx="1740.26" cy="1114.15" r="2.69"/><circle cx="1582.41" cy="1077.77" r="2.44"/><circle cx="1610.36" cy="1085.91" r="2.58"/><circle cx="1765.87" cy="1097.67" r="2.13"/><circle cx="1697.52" cy="1140.73" r="2.23"/><circle cx="1616.74" cy="948.66" r="2.32"/><circle cx="1784.69" cy="921.9" r="2.65"/><circle cx="1666.55" cy="1018.05" r="2.76"/><circle cx="1787.79" cy="1005.48" r="2.95"/><circle cx="1706.51" cy="1039.54" r="2.51"/><circle cx="1679.82" cy="1064.63" r="2.25"/><circle cx="1800.36" cy="1164.98" r="2.4"/><circle cx="1621.43" cy="1157.28" r="2.43"/><circle cx="1562.49" cy="994.98" r="2.91"/><circle cx="1793.56" cy="951.83" r="2.69"/><circle cx="1732.82" cy="1169.64" r="2.52"/><circle cx="1717.77" cy="1028.51" r="2.52"/><circle cx="1564.25" cy="1026.28" r="2.75"/><circle cx="1678.67" cy="1115.44" r="2.72"/><circle cx="1663.18" cy="1074.93" r="2.91"/><circle cx="1807.93" cy="1026.03" r="2.54"/><circle cx="1682.79" cy="1163.97" r="2.77"/><circle cx="1612.59" cy="965.29" r="2.96"/><circle cx="1756.98" cy="1040.77" r="2.9"/><circle cx="1730.08" cy="1090.79" r="2.22"/><circle cx="1784.01" cy="1025.94" r="2.96"/><circle cx="1602.64" cy="1136.15" r="2.58"/><circle cx="1627.46" cy="1059.04" r="2.9"/><circle cx="1730.45" cy="970.68" r="2.9"/><circle cx="1595.63" cy="1158.11" r="2.86"/><circle cx="1818.93" cy="1080.15" r="2.81"/><circle cx="1765.38" cy="1011.49" r="2.75"/><circle cx="1669.3" cy="1069.57" r="2.99"/><circle cx="1771.06" cy="1092.22" r="2.61"/><circle cx="1680.21" cy="1072.9" r="2.32"/><circle cx="1785.61" cy="1111.46" r="2.6"/><circle cx="1641.1" cy="1007.79" r="2.63"/><circle cx="1814.9" cy="1007.04" r="2.85"/><circle cx="1731.68" cy="932.66" r="2.64"/><circle cx="1590.98" cy="966.76" r="2.46"/><circle cx="1622.45" cy="1037.58" r="2.76"/><circle cx="1605.03" cy="969.09" r="2.52"/><circle cx="1768.56" cy="1154.41" r="2.29"/><circle cx="1598.67" cy="1044.34" r="2.96"/><circle cx="1730.13" cy="1157.81" r="2.69"/><circle cx="1703.94" cy="1047.46" r="2.62"/><circle cx="1759.91" cy="1115.41" r="2.8"/><circle cx="1744.22" cy="1071.55" r="2.59"/><circle cx="1770.38" cy="918.31" r="2.5"/><circle cx="1758.81" cy="965.89" r="2.13"/><circle cx="1693.46" cy="1062.98" r="2.65"/><circle cx="1651.51" cy="1080.38" r="2.33"/><circle cx="1802.07" cy="1007.84" r="2.63"/><circle cx="1558.32" cy="1132.58" r="2.9"/><circle cx="1790.42" cy="1129.17" r="2.72"/><circle cx="1671.41" cy="939.56" r="2.75"/><circle cx="1721.17" cy="918.9" r="2.17"/><circle cx="1658.87" cy="1066.46" r="2.67"/><circle cx="1768.13" cy="1002.01" r="2.91"/><circle cx="1607.93" cy="997.96" r="2.56"/><circle cx="1772.79" cy="931.19" r="2.7"/><circle cx="1592.9" cy="999" r="2.35"/><circle cx="1807.54" cy="1140.38" r="2.72"/><circle cx="1710.76" cy="1116.55" r="2.31"/><circle cx="1683.44" cy="1089.39" r="2.56"/><circle cx="1736.04" cy="1041.01" r="2.78"/><circle cx="1659.12" cy="970.48" r="2.56"/><circle cx="1746.39" cy="1166.3" r="2.65"/><circle cx="1811.76" cy="1151.15" r="2.25"/><circle cx="1767.05" cy="955.64" r="2.6"/><circle cx="1801.86" cy="1133.58" r="2.66"/><circle cx="1630.98" cy="1146.53" r="2.71"/><circle cx="1755.82" cy="1121.53" r="2.26"/><circle cx="1584.84" cy="978.95" r="2.56"/><circle cx="1754.8" cy="1012.04" r="2.55"/><circle cx="1723.02" cy="1072.12" r="2.58"/><circle cx="1656.4" cy="1151.99" r="2.25"/><circle cx="1732.72" cy="1102.53" r="2.85"/><circle cx="1805.04" cy="934.2" r="2.63"/><circle cx="1653.32" cy="956.63" r="2.36"/><circle cx="1591.06" cy="1060.1" r="2.98"/><circle cx="1730.21" cy="1126.89" r="2.64"/><circle cx="1819.88" cy="1139.71" r="2.37"/><circle cx="1654.92" cy="929.13" r="2.45"/><circle cx="1644.23" cy="951.85" r="2.4"/><circle cx="1704.19" cy="1098.97" r="2.3"/><circle cx="1677.8" cy="1170.68" r="2.22"/><circle cx="1730.17" cy="1064.67" r="2.16"/><circle cx="1737.97" cy="1023.24" r="2.14"/><circle cx="1709.22" cy="1139.32" r="2.71"/><circle cx="1619.58" cy="939.6" r="2.41"/><circle cx="1574.34" cy="1171.14" r="2.42"/><circle cx="1611.45" cy="927.37" r="2.43"/><circle cx="1650.85" cy="918.64" r="2.95"/><circle cx="1748.97" cy="1088.97" r="2.92"/><circle cx="1667.8" cy="1098.73" r="2.32"/><circle cx="1725.72" cy="1105.89" r="2.7"/><circle cx="1816.41" cy="1033.9" r="2.96"/><circle cx="1640.63" cy="1043.64" r="2.86"/><circle cx="1743.29" cy="1029.04" r="2.52"/><circle cx="1699.72" cy="1158.78" r="2.82"/><circle cx="1743.28" cy="1009.56" r="2.28"/><circle cx="1561.75" cy="1037.45" r="2.74"/><circle cx="1635.75" cy="987.74" r="2.31"/><circle cx="1653.84" cy="1127.93" r="2.74"/><circle cx="1717.29" cy="972.18" r="2.36"/><circle cx="1655.24" cy="1050.23" r="2.9"/><circle cx="1687.67" cy="1019.76" r="2.19"/><circle cx="1695.63" cy="988.94" r="2.37"/><circle cx="1807.44" cy="965.2" r="2.27"/><circle cx="1777.53" cy="1013.82" r="2.53"/><circle cx="1559.12" cy="1162.99" r="2.13"/><circle cx="1574.04" cy="1108.39" r="2.23"/><circle cx="1564.56" cy="986.16" r="2.3"/><circle cx="1768.39" cy="986.2" r="2.11"/><circle cx="1558.31" cy="1106.06" r="2.72"/><circle cx="1753.09" cy="1153.54" r="2.85"/><circle cx="1591.36" cy="1083.81" r="2.96"/><circle cx="1719.2" cy="1138.84" r="2.48"/><circle cx="1780.58" cy="928.76" r="2.41"/><circle cx="1816.8" cy="1066.58" r="2.62"/><circle cx="1792.1" cy="913.32" r="2.4"/><circle cx="1668.72" cy="1148.9" r="2.09"/><circle cx="1804.96" cy="1102.23" r="2.44"/><circle cx="1818.79" cy="1113.34" r="2.8"/><circle cx="1591.17" cy="909.21" r="2.31"/><circle cx="1611.28" cy="1097.02" r="2.33"/><circle cx="1658.83" cy="1139.41" r="2.39"/><circle cx="1569.61" cy="1059.03" r="2.82"/><circle cx="1781.01" cy="970.12" r="2.4"/><circle cx="1667.24" cy="1118.12" r="2.37"/><circle cx="1655.41" cy="1160.36" r="2.3"/><circle cx="1618.63" cy="1094.77" r="2.22"/><circle cx="1640.25" cy="967.66" r="2.88"/><circle cx="1593.31" cy="974.39" r="2.94"/><circle cx="1697.91" cy="1133.5" r="2.81"/><circle cx="1668.87" cy="1051.21" r="2.59"/><circle cx="1714.31" cy="1037.25" r="2.36"/><circle cx="1731.23" cy="959.28" r="2.65"/><circle cx="1672.2" cy="974.02" r="2.59"/><circle cx="1706.21" cy="926.59" r="2.31"/><circle cx="1667.99" cy="1028.18" r="2.7"/><circle cx="1715.69" cy="944.95" r="2.88"/><circle cx="1729.28" cy="1029.2" r="2.69"/><circle cx="1800.44" cy="943.63" r="2.39"/><circle cx="1803.11" cy="1121.12" r="2.95"/><circle cx="1791.15" cy="1022.85" r="2.9"/><circle cx="1615.79" cy="975.31" r="2.66"/><circle cx="1723.99" cy="1082.14" r="2.35"/><circle cx="1668.26" cy="957.63" r="2.27"/><circle cx="1787.17" cy="993.05" r="2.89"/><circle cx="1619.58" cy="1127.13" r="2.33"/><circle cx="1761.14" cy="1084.43" r="2.16"/><circle cx="1766.18" cy="1070.94" r="2.33"/><circle cx="1720.29" cy="1010.43" r="2.84"/><circle cx="1584.46" cy="1111.16" r="2.82"/><circle cx="1640.03" cy="1105.05" r="2.9"/><circle cx="1816.42" cy="1129.59" r="2.89"/><circle cx="1624.62" cy="1072.53" r="2.74"/><circle cx="1604.73" cy="940.79" r="2.63"/><circle cx="1593.88" cy="1146.15" r="2.81"/><circle cx="1780.23" cy="912.86" r="2.59"/><circle cx="1570.33" cy="917.79" r="2.97"/><circle cx="1751.88" cy="1028.62" r="2.35"/><circle cx="1809.48" cy="986.04" r="2.12"/><circle cx="1566.06" cy="1065.66" r="2.77"/><circle cx="1753.83" cy="1075.12" r="2.56"/><circle cx="1799.93" cy="1145.77" r="2.9"/><circle cx="1742.41" cy="908.97" r="2.5"/><circle cx="1814.57" cy="1000.21" r="2.62"/><circle cx="1580.54" cy="1118.43" r="2.22"/><circle cx="1788.89" cy="1040.61" r="2.47"/><circle cx="1617.61" cy="1076.1" r="2.24"/><circle cx="1623.42" cy="1012.72" r="2.09"/><circle cx="1712.05" cy="1098.24" r="2.17"/><circle cx="1751.05" cy="933.38" r="2.72"/><circle cx="1661.75" cy="1042.13" r="2.89"/><circle cx="1638.16" cy="924.92" r="2.14"/><circle cx="1625.06" cy="1022.58" r="2.82"/><circle cx="1723.1" cy="1165.87" r="2.57"/><circle cx="1610.02" cy="1057.12" r="2.5"/><circle cx="1611.56" cy="942" r="2.12"/><circle cx="1806.46" cy="1113.62" r="2.98"/><circle cx="1628.26" cy="911.55" r="2.67"/><circle cx="1758.72" cy="953.55" r="2.21"/><circle cx="1594.08" cy="1030.06" r="2.54"/><circle cx="1696.76" cy="1088.59" r="2.39"/><circle cx="1562.27" cy="1120.39" r="2.4"/><circle cx="1607.4" cy="1126.34" r="2.15"/><circle cx="1714.7" cy="920.86" r="2.95"/><circle cx="1611.91" cy="1019.25" r="2.49"/><circle cx="1571.05" cy="1101.95" r="2.2"/><circle cx="1608.27" cy="980.18" r="2.28"/><circle cx="1807.59" cy="1163.31" r="2.4"/><circle cx="1634.02" cy="1048.5" r="2.99"/><circle cx="1691.99" cy="928.15" r="2.6"/><circle cx="1646.24" cy="1019.67" r="2.45"/><circle cx="1652.28" cy="1043.6" r="2.86"/><circle cx="1587.52" cy="1092.47" r="2.09"/><circle cx="1711.9" cy="956.62" r="2.69"/><circle cx="1676.76" cy="1040.13" r="2.12"/><circle cx="1686.63" cy="967.63" r="2.59"/><circle cx="1684.54" cy="1054.54" r="2.68"/><circle cx="1677.72" cy="967.26" r="2.73"/><circle cx="1761.86" cy="934.49" r="2.65"/><circle cx="1696.6" cy="919.19" r="2.47"/><circle cx="1689.47" cy="1116.74" r="2.98"/><circle cx="1786.07" cy="1154.98" r="2.82"/><circle cx="1651.23" cy="1106.12" r="2.14"/><circle cx="1765.36" cy="1025.57" r="2.09"/><circle cx="1801.14" cy="975.9" r="2.19"/><circle cx="1739.6" cy="1167.18" r="2.45"/><circle cx="1728.89" cy="1049.8" r="2.22"/><circle cx="1778.97" cy="979.08" r="2.35"/><circle cx="1607.02" cy="1113.65" r="2.13"/><circle cx="1639.37" cy="974.6" r="2.35"/><circle cx="1652.14" cy="943.04" r="2.27"/><circle cx="1734.81" cy="943.08" r="2.24"/><circle cx="1781.81" cy="937.33" r="2.9"/><circle cx="1763.33" cy="947.39" r="2.73"/><circle cx="1580.23" cy="1049.83" r="2.88"/></g>
<polygon points="1742,1118 1752,1108 1768,1106 1780,1112 1784,1126 1776,1138 1760,1142 1746,1134" fill="#dcdde2" fill-opacity="0.7" filter="url(#wbl)"/><rect x="1631.8" y="973.6" width="125" height="130" fill="none" stroke="#f2ea18" stroke-width="2.6"/><line x1="1749" y1="1156.3" x2="1807.7" y2="1156.3" stroke="#111" stroke-width="2.2"/>
</g>
<rect x="1554.2" y="905.2" width="268" height="268" fill="none" stroke="#3a3a3a" stroke-width="1.8"/>
<g clip-path="url(#ic5)">
<rect x="1857.6" y="905.2" width="268.4" height="268" fill="rgb(189,179,171)"/>
<rect x="1857.6" y="905.2" width="268.4" height="268" filter="url(#tx5)"/>
<ellipse cx="1890" cy="1100" rx="30" ry="40" fill="#8a5a20" fill-opacity="0.25" filter="url(#ibl)"/>
<ellipse cx="2080" cy="960" rx="30" ry="20" fill="#8a5a20" fill-opacity="0.2" filter="url(#ibl)"/>
<g fill="#646a94" fill-opacity="0.9" stroke="#4a4f78" stroke-width="1.3" stroke-opacity="0.8" filter="url(#nbl)"><circle cx="1955.19" cy="1034.05" r="5.59"/><circle cx="1969.84" cy="1025.14" r="4.63"/><circle cx="1967.88" cy="1080.83" r="5.36"/><circle cx="1928.04" cy="1074.84" r="4.01"/><circle cx="1862.28" cy="986.94" r="5.46"/><circle cx="1948.19" cy="944.67" r="4.81"/><circle cx="2056.16" cy="989.07" r="4.84"/><circle cx="2068.28" cy="1159.64" r="5.58"/><circle cx="1926.63" cy="1143.09" r="4.46"/><circle cx="2073.14" cy="1083.4" r="4.97"/><circle cx="1866.84" cy="1027.79" r="4.93"/><circle cx="2025.31" cy="985.4" r="4.44"/><circle cx="1918.91" cy="988.98" r="4.17"/><circle cx="1927.88" cy="1115.19" r="4.66"/><circle cx="1951.55" cy="1018.9" r="4.41"/><circle cx="2029.62" cy="1157.57" r="4.97"/><circle cx="1937.08" cy="918.82" r="4.62"/><circle cx="2117.1" cy="1127" r="4.06"/><circle cx="2068.56" cy="1045.37" r="5.1"/><circle cx="1921.68" cy="947.99" r="5.5"/><circle cx="1940.04" cy="1028.87" r="4.98"/><circle cx="1876.98" cy="1091.81" r="4.43"/><circle cx="2052.05" cy="910.65" r="4.44"/><circle cx="2082.34" cy="1036.96" r="5.56"/><circle cx="2102.52" cy="1032.62" r="4.68"/><circle cx="2069.99" cy="1027.13" r="5.16"/><circle cx="2021.68" cy="1039" r="4.05"/><circle cx="1865.62" cy="945.2" r="5.32"/><circle cx="1921.01" cy="1014.44" r="5.45"/><circle cx="1957.23" cy="1049.55" r="4.37"/><circle cx="2033.94" cy="1012.8" r="4.45"/><circle cx="1944.04" cy="1042.14" r="5.04"/><circle cx="2111.51" cy="1113.87" r="5.55"/><circle cx="2032.89" cy="1122.88" r="5.27"/><circle cx="1919.83" cy="933.84" r="3.96"/><circle cx="1884.22" cy="939.28" r="4.12"/><circle cx="1862.02" cy="1072.35" r="5.44"/><circle cx="2102.52" cy="937.19" r="4.61"/><circle cx="2061.97" cy="947.64" r="5.55"/><circle cx="1906.7" cy="910.14" r="4.69"/><circle cx="1998.52" cy="1149.81" r="5.35"/><circle cx="1962.27" cy="917.39" r="4.29"/><circle cx="1982.4" cy="1099.99" r="5.57"/><circle cx="1981.42" cy="917.51" r="4.73"/><circle cx="1867.62" cy="959.53" r="3.93"/><circle cx="1992.55" cy="934.47" r="4.26"/><circle cx="1974.35" cy="1129.1" r="4.06"/><circle cx="2091.24" cy="1021.47" r="4.64"/><circle cx="2087.12" cy="962.3" r="5.56"/><circle cx="1940.15" cy="985.07" r="5.59"/><circle cx="1892.32" cy="927.32" r="5.51"/><circle cx="2122.21" cy="987.71" r="4.62"/><circle cx="1991.53" cy="1048.27" r="5.24"/><circle cx="1984.45" cy="1062.82" r="5.19"/><circle cx="1880.63" cy="1074.17" r="5.35"/><circle cx="2036.42" cy="1098.33" r="5.58"/><circle cx="2072.79" cy="1099.36" r="5.35"/><circle cx="1873.47" cy="995.6" r="5.23"/><circle cx="1904.94" cy="1094.89" r="4.46"/><circle cx="1965.99" cy="1010.47" r="4.21"/><circle cx="1918.55" cy="1027.09" r="4.64"/><circle cx="2049.54" cy="1073.8" r="4.42"/><circle cx="2024.35" cy="921.85" r="5.21"/><circle cx="2098.18" cy="913.25" r="4.19"/><circle cx="2024.86" cy="946.09" r="4.27"/><circle cx="2112.45" cy="1089.84" r="5.17"/><circle cx="1918.45" cy="1040.15" r="3.99"/><circle cx="2083.14" cy="1132.68" r="4.06"/><circle cx="2034.85" cy="1075.76" r="3.92"/><circle cx="2055.88" cy="1148.89" r="3.95"/><circle cx="1995.44" cy="1069.61" r="4.09"/><circle cx="1917.41" cy="1060.46" r="5.19"/><circle cx="1951.96" cy="1095.74" r="4.38"/><circle cx="1888.36" cy="913.13" r="4.1"/><circle cx="2111.67" cy="948.21" r="4.77"/><circle cx="2110.29" cy="967.88" r="4.53"/><circle cx="2065.81" cy="1111.2" r="3.93"/><circle cx="1969.98" cy="1105.96" r="4.03"/><circle cx="1890.06" cy="1135.53" r="4.36"/><circle cx="1968" cy="939.62" r="4.64"/><circle cx="1960.93" cy="958.29" r="4.12"/><circle cx="2056.04" cy="1006" r="4.64"/><circle cx="1880.79" cy="1158.4" r="4.75"/><circle cx="2016.53" cy="1016.06" r="5.51"/><circle cx="2053.18" cy="1053.17" r="4.96"/><circle cx="1871.11" cy="1169.63" r="4.44"/><circle cx="1951.84" cy="1079.25" r="4.3"/><circle cx="1969.84" cy="1161.26" r="4.23"/><circle cx="1870.85" cy="1012.83" r="4.58"/><circle cx="2013.58" cy="1069.32" r="5.56"/></g>
<line x1="2049" y1="1155.3" x2="2107" y2="1155.3" stroke="#111" stroke-width="2.2"/>
</g>
<path d="M2125 905.2 H1857.6 V1173.2 H2125" fill="none" stroke="#3a3a3a" stroke-width="1.8"/>
<line x1="1012.4" y1="1226.8" x2="1012.4" y2="2298" stroke="#b8b8b8" stroke-width="1.3"/>
<line x1="1013.2" y1="1226.9" x2="2014.6" y2="1226.9" stroke="#b4b4b4" stroke-width="1.3"/>
<g filter="url(#tbl)">
<line x1="1013.2" y1="1382.5" x2="2014.6" y2="1382.5" stroke="#9aa0b8" stroke-width="1"/>
<path d="M1123 1382.2 L1125.5 1376.2 L1126.6 1322.2 L1127.6 1282.2 L1128.3 1266.2 L1129.2 1284.2 L1130.3 1322.2 L1131.6 1360.2 L1133.5 1376.2 L1137 1380.2 L1141 1382.2Z" fill="#1d55e6"/>
<path d="M1316 1382.2 L1320 1379.2 L1323 1376.2 L1324 1366.2 L1326.5 1364.2 L1327.5 1352.2 L1329.3 1342.2 L1330.6 1354.2 L1331.6 1374.2 L1334 1380.2 L1338 1382.2Z" fill="#1d55e6"/>
<path d="M1380 1382.2 L1384 1380.2 L1385.5 1375.2 L1387.5 1378.2 L1390 1380.7 L1394 1382.2Z" fill="#1d55e6"/>
<path d="M1424 1382.2 L1427 1379.2 L1428.3 1372.2 L1430 1379.2 L1433 1382.2Z" fill="#1d55e6"/>
<path d="M1447 1382.2 L1451 1379.2 L1453 1368.2 L1454.6 1364.2 L1456 1374.2 L1459 1380.2 L1463 1381.2 L1466 1378.2 L1468 1362.2 L1469.8 1351.2 L1471.3 1368.2 L1473 1380.2 L1476 1382.2Z" fill="#1d55e6"/>
<path d="M1486 1382.2 L1489 1378.2 L1491 1381.2 L1494 1382.2Z" fill="#1d55e6"/>
<path d="M1528 1382.2 L1531 1378.2 L1534 1380.7 L1537 1382.2Z" fill="#1d55e6"/>
<path d="M1573 1382.2 L1576.5 1377.7 L1580 1380.2 L1584 1382.2Z" fill="#1d55e6"/>
<path d="M1634 1382.2 L1637.5 1379.2 L1641 1382.2Z" fill="#1d55e6"/>
<path d="M1253.73 1382.2v-1.1M1469.62 1382.2v-0.94M1393.68 1382.2v-1.53M1078.28 1382.2v-1.81M1064.75 1382.2v-1.67M1086.1 1382.2v-0.98M1320.18 1382.2v-2.45M1121.71 1382.2v-1.25M1454.11 1382.2v-2.7M1420.89 1382.2v-1.59M1684.33 1382.2v-0.89M1606.59 1382.2v-1.38M1135.21 1382.2v-1.04M1243.6 1382.2v-2.43M1159.28 1382.2v-1.96M1461.68 1382.2v-1.54M1401.51 1382.2v-0.93M1079.34 1382.2v-1.21M1489.06 1382.2v-1.66M1247.34 1382.2v-1.97M1339.1 1382.2v-1.4M1564.29 1382.2v-2.2M1201.1 1382.2v-1.95M1386.63 1382.2v-2.55M1521.43 1382.2v-1.38M1686.92 1382.2v-1.04M1315.96 1382.2v-2.31M1140.31 1382.2v-1.78M1065.88 1382.2v-2.14M1544.62 1382.2v-1.95M1617.82 1382.2v-1.43M1498.89 1382.2v-1.99M1422.73 1382.2v-1.71M1594.38 1382.2v-2.69M1352.9 1382.2v-2.13M1080.04 1382.2v-2.2M1467.11 1382.2v-2.79M1582.47 1382.2v-1.37M1294.62 1382.2v-2.14M1054.89 1382.2v-1.72M1150.91 1382.2v-1.03M1078.91 1382.2v-2.34M1125.36 1382.2v-1.3M1298.03 1382.2v-2.54M1093.18 1382.2v-1.7M1402.63 1382.2v-2.57M1580.72 1382.2v-2.53M1223.76 1382.2v-1.63M1276.79 1382.2v-2.57M1672.1 1382.2v-1.1M1156.3 1382.2v-1.26M1194 1382.2v-1.77M1428.82 1382.2v-1.33M1042.7 1382.2v-1.64M1283.71 1382.2v-1.93M1669.04 1382.2v-2.18M1380.22 1382.2v-2.04M1486.29 1382.2v-0.91M1633.69 1382.2v-2.36M1617.18 1382.2v-2.4" stroke="#1d55e6" stroke-width="1.2" fill="none" stroke-opacity="0.8"/>
<path d="M1823.21 1382.2v-1.08M1732.51 1382.2v-1.36M1719.55 1382.2v-0.68M1765.55 1382.2v-0.79M1806.78 1382.2v-0.66M1700.07 1382.2v-0.78M1731.86 1382.2v-1.04M1708.01 1382.2v-1.65M1892.82 1382.2v-0.78M1779.21 1382.2v-1.02M1814.35 1382.2v-0.75M1966.57 1382.2v-1.79M1846.32 1382.2v-1.18M1726.97 1382.2v-0.72M1807.59 1382.2v-0.92M1960.26 1382.2v-0.79M1707.25 1382.2v-1.74M1865.87 1382.2v-0.78M1870.56 1382.2v-0.63M1865.83 1382.2v-1.77M1971.08 1382.2v-1.44M1781.99 1382.2v-1.04M1752.45 1382.2v-1.53M1867.23 1382.2v-1.53M1803.51 1382.2v-0.87M1954.81 1382.2v-1.78M1967.73 1382.2v-1.57M1956.96 1382.2v-1.49M1771.2 1382.2v-1.22M1811.65 1382.2v-0.63" stroke="#1d55e6" stroke-width="1.2" fill="none" stroke-opacity="0.5"/>
<line x1="1013.2" y1="1581.8" x2="2014.6" y2="1581.8" stroke="#b09090" stroke-width="1.2"/>
<path d="M1058.44 1581.8v-1.55M1211.06 1581.8v-2.67M1671.3 1581.8v-2.01M1658.43 1581.8v-3.47M1670.3 1581.8v-1.78M1185.51 1581.8v-1.41M1169.83 1581.8v-1.35M1451.88 1581.8v-3.23M1594.69 1581.8v-2.09M1470.97 1581.8v-2.96M1095.95 1581.8v-2.58M1640.45 1581.8v-2.91M1535.09 1581.8v-2.09M1157.82 1581.8v-2.93M1259.46 1581.8v-2.96M1681.29 1581.8v-1.87M1304.92 1581.8v-3.36M1518.37 1581.8v-1.26M1123.85 1581.8v-1.21M1637.2 1581.8v-2.98M1136.48 1581.8v-3.03M1687 1581.8v-2.57M1271.27 1581.8v-2.28M1126.45 1581.8v-0.84M1680.79 1581.8v-2.55M1387.54 1581.8v-3.32M1326.31 1581.8v-3.15M1585.26 1581.8v-1.37M1206.21 1581.8v-1.59M1198.76 1581.8v-2.38M1211.18 1581.8v-1.93M1126.51 1581.8v-3.26M1273.5 1581.8v-2.04M1425.01 1581.8v-3.24M1317.61 1581.8v-3.28M1371.09 1581.8v-2.24M1385.51 1581.8v-0.85M1330.48 1581.8v-1.29M1042.6 1581.8v-2.96M1153.75 1581.8v-2.08M1518.63 1581.8v-2.3M1255.15 1581.8v-2.2M1406.59 1581.8v-2.92M1110.03 1581.8v-2.31M1204.01 1581.8v-1.55M1549.69 1581.8v-2.17M1410.74 1581.8v-2.85M1642.24 1581.8v-2M1444.27 1581.8v-2.16M1378.03 1581.8v-2.67M1338.55 1581.8v-2.24M1355.5 1581.8v-3.34M1501.48 1581.8v-3.17M1661.84 1581.8v-1.5M1409.28 1581.8v-3.35M1594.4 1581.8v-1.17M1120.27 1581.8v-1.99M1087.88 1581.8v-1.45M1088.26 1581.8v-2.61M1557.4 1581.8v-3.22M1141.93 1581.8v-2.73M1475.77 1581.8v-1.19M1622.67 1581.8v-3.41M1184.93 1581.8v-3.37M1302.85 1581.8v-2.12M1693.32 1581.8v-3.05M1146.57 1581.8v-1.97M1380.3 1581.8v-1.72M1169.19 1581.8v-1.66M1516.62 1581.8v-0.85" stroke="#a02020" stroke-width="1" fill="none" stroke-opacity="0.8"/>
<path d="M1873.97 1581.8v-1.44M1705.68 1581.8v-1.23M1895.91 1581.8v-1.57M1720.19 1581.8v-2.47M1947.55 1581.8v-2.45M1732.9 1581.8v-1.1M1712.43 1581.8v-2.08M1784.92 1581.8v-0.85M1832.59 1581.8v-2.33M1957.16 1581.8v-1.09M1746.9 1581.8v-2.35M1879.17 1581.8v-1.93M1728.09 1581.8v-0.71M1916.1 1581.8v-1.41M1722.74 1581.8v-2.38M1899.21 1581.8v-2.12M1726.3 1581.8v-2.23M1720.92 1581.8v-2.24M1842.48 1581.8v-1.24M1873.66 1581.8v-2.36" stroke="#a02020" stroke-width="1" fill="none" stroke-opacity="0.7"/>
<line x1="1013.2" y1="1739.3" x2="2014.6" y2="1739.3" stroke="#9aa0b8" stroke-width="1"/>
<path d="M1262 1739 L1266 1736 L1268.5 1725 L1270.5 1699 L1272.5 1667 L1274.3 1649 L1275.3 1646 L1276.3 1659 L1277.5 1671 L1279.5 1691 L1281.5 1713 L1283.5 1727 L1286 1735 L1290 1738 L1293 1739Z" fill="#1d55e6"/>
<path d="M1096 1739 L1102 1737 L1105.5 1733 L1108 1736 L1114 1737.5 L1124 1739Z" fill="#1d55e6"/>
<path d="M1470 1739 L1476 1737 L1480.5 1730.5 L1483.5 1736 L1488 1739Z" fill="#1d55e6"/>
<path d="M1030 1739 L1035 1736 L1040 1738 L1046 1739Z" fill="#1d55e6"/>
<path d="M1209.47 1739v-0.81M1383.03 1739v-0.98M1103.33 1739v-0.86M1063.75 1739v-0.92M1239.03 1739v-1.09M1538.86 1739v-1.06M1365.06 1739v-0.88M1262.49 1739v-0.63M1197.8 1739v-0.62M1521.16 1739v-1.48M1156.94 1739v-1.36M1656.21 1739v-0.77M1578.68 1739v-1.29M1361.65 1739v-1.94M1293.37 1739v-1.41M1490.79 1739v-2.17M1259.61 1739v-1.93M1503.51 1739v-1.62M1301.15 1739v-1.16M1066.44 1739v-0.81M1077.38 1739v-1.79M1201.25 1739v-0.86M1086.6 1739v-1.95M1613.26 1739v-1.67M1218.9 1739v-0.99M1226.35 1739v-1.34M1135.55 1739v-1.31M1206.37 1739v-2.14M1681.66 1739v-1.48M1193.78 1739v-2.15M1237.4 1739v-1.17M1030.72 1739v-1.21M1348.01 1739v-1.4M1164.66 1739v-1.41M1033.32 1739v-1.02M1090.13 1739v-1.24M1057.92 1739v-0.64M1233.84 1739v-0.97M1422.34 1739v-1.45M1532.86 1739v-1.65M1509.72 1739v-2.01M1290.98 1739v-1.12M1689.77 1739v-0.84M1515.18 1739v-1.63M1059.34 1739v-1.94M1627.6 1739v-1.6M1521.68 1739v-1.9M1123.34 1739v-1.44M1367.93 1739v-1.94M1569.13 1739v-1.92M1421.32 1739v-2.03M1487.54 1739v-1.71M1184.06 1739v-0.65M1119.17 1739v-1.18M1100.29 1739v-1.94M1404.21 1739v-1.6M1449.57 1739v-1.69M1357.83 1739v-0.61M1564.46 1739v-1.8M1366.99 1739v-1.46M1471.73 1739v-0.71M1523.65 1739v-1M1079.88 1739v-1.02M1518.65 1739v-0.93M1525.69 1739v-2.16M1360.95 1739v-1.21M1350.94 1739v-1.69M1543.87 1739v-1.59M1460.65 1739v-0.72M1128.77 1739v-1.01" stroke="#1d55e6" stroke-width="1.3" fill="none" stroke-opacity="0.7"/>
<path d="M1979.59 1739v-1.18M1956.08 1739v-0.62M1888.13 1739v-1.11M1970.05 1739v-1.92M1970.54 1739v-1.15M1949.22 1739v-1.48M1942.49 1739v-0.83M1999.75 1739v-0.98M2011.07 1739v-2.38M1882.35 1739v-1.47M1989.87 1739v-2.44M1940.23 1739v-1.11M1908.12 1739v-2.4M1908.23 1739v-1.7M1898.99 1739v-1.6M2007.67 1739v-0.85M1989.91 1739v-1.57M1998.84 1739v-1.94M1911.01 1739v-2.31M1945.14 1739v-0.65M1880.48 1739v-1.53M1940.4 1739v-1.17M1898.85 1739v-1.25M1922.35 1739v-2.2M1880.23 1739v-2.03M1992.44 1739v-0.83M2004.14 1739v-1.95M2000.81 1739v-1.15M1929.88 1739v-1.35M2013.84 1739v-1.72M1928.34 1739v-1.41M1916.87 1739v-0.69M1893.63 1739v-2.19M1918.27 1739v-2.38M1913.41 1739v-1.1M1948.47 1739v-0.96M1930.03 1739v-2.42M1998.49 1739v-2.14M1964.54 1739v-2.34M2006.05 1739v-1.64" stroke="#1d55e6" stroke-width="1.3" fill="none" stroke-opacity="0.7"/>
<line x1="1013.2" y1="1940.3" x2="2014.6" y2="1940.3" stroke="#8a7070" stroke-width="1.3"/>
<path d="M1738.06 1940.3v-0.92M1750.63 1940.3v-1.88M1770.63 1940.3v-2.35M1311.63 1940.3v-0.92M1941.95 1940.3v-1.11M1494.63 1940.3v-1.62M1323.01 1940.3v-2.57M1990.68 1940.3v-1.42M1675.5 1940.3v-1.52M1578.4 1940.3v-1.75M1194.66 1940.3v-1.19M1234.55 1940.3v-2.97M1519.12 1940.3v-1.33M1921.76 1940.3v-3.19M1472.76 1940.3v-1.14M1219.33 1940.3v-1.02M1366.48 1940.3v-1.02M1265.3 1940.3v-1.42M1590.5 1940.3v-2.93M1767.66 1940.3v-1.79M1437.26 1940.3v-2.06M1400.84 1940.3v-1.61M1091.07 1940.3v-1.47M1982.2 1940.3v-1.1M1525.34 1940.3v-2.31M1879.06 1940.3v-1.32M1296.68 1940.3v-1.4M1423.36 1940.3v-1.87M1968.68 1940.3v-2.84M1888.92 1940.3v-0.85M1061.73 1940.3v-2.5M1911.37 1940.3v-1.94M1607.78 1940.3v-0.8M1415.26 1940.3v-3.02M1842.38 1940.3v-2.85M1986.69 1940.3v-1.4M1137.3 1940.3v-1.17M1544.01 1940.3v-2.44M1956.43 1940.3v-2.53M1666.99 1940.3v-2.64M1480.01 1940.3v-2.12M1068.91 1940.3v-2.68M1258.86 1940.3v-3.01M1665.18 1940.3v-1.53M1155.92 1940.3v-1.4M1656.11 1940.3v-2.48M1140.34 1940.3v-0.97M1546.05 1940.3v-2.2M1411.87 1940.3v-1.34M1621.44 1940.3v-0.83M1326.7 1940.3v-1.91M1973.6 1940.3v-2.35M1899.63 1940.3v-1.94M1261.01 1940.3v-1.39M1975.24 1940.3v-2.49M1332.48 1940.3v-0.85M1520.34 1940.3v-2.42M1443.3 1940.3v-1.42M1686.68 1940.3v-3.02M1253.16 1940.3v-0.88M1362.64 1940.3v-1.81M1701.65 1940.3v-1.28M1814.31 1940.3v-2.57M1526.8 1940.3v-1.29M1984.34 1940.3v-1.55M1836.88 1940.3v-1.35M1247.9 1940.3v-2.63M1320.21 1940.3v-3.08M1517.83 1940.3v-1.25M1249.75 1940.3v-1.8M1684.65 1940.3v-3.08M1174.04 1940.3v-1.74M1239.54 1940.3v-3.14M1169.64 1940.3v-0.92M1089.17 1940.3v-1.74M1913.8 1940.3v-2.92M1751 1940.3v-3.19M1946.69 1940.3v-1.59M1212.54 1940.3v-3.05M1764.37 1940.3v-0.88M1683.8 1940.3v-1.71M1397.9 1940.3v-1.6M1196.55 1940.3v-0.81M1305.33 1940.3v-1.64M1970.23 1940.3v-1.1M1978.84 1940.3v-1.3M1380.92 1940.3v-2.77M1838.86 1940.3v-1.84M1078.47 1940.3v-1.94M1396.75 1940.3v-3.01M1219.94 1940.3v-1.67M1912.64 1940.3v-0.87M1434.23 1940.3v-2.75M1784.4 1940.3v-0.9M1064.3 1940.3v-0.95M1935.36 1940.3v-1.42M1765.33 1940.3v-2.96M1363.64 1940.3v-1.45M1972.37 1940.3v-2.28M1287.98 1940.3v-2.52M1341.42 1940.3v-1.46M1033.71 1940.3v-2.61M1931.8 1940.3v-2.32M1958.16 1940.3v-0.86M1260.12 1940.3v-1.94M1971.47 1940.3v-3.09M1410.33 1940.3v-1.4M1453.06 1940.3v-1.98M1943.25 1940.3v-1.24M1819.73 1940.3v-2.57M1839.59 1940.3v-2.65M1627.54 1940.3v-1.59M1344.44 1940.3v-1.67M1799.73 1940.3v-0.99M1224.15 1940.3v-2.61M1273.35 1940.3v-0.96M1063.32 1940.3v-2.13M1350.55 1940.3v-3.15M1899.34 1940.3v-3.17M1290.65 1940.3v-1M1124.88 1940.3v-2M1728.41 1940.3v-1.87M1260.45 1940.3v-1.8M1640.38 1940.3v-2.42M1766.01 1940.3v-2.83M1683.79 1940.3v-1.09M1857.42 1940.3v-1.51M1587.81 1940.3v-1.7M1756.26 1940.3v-1.28M1273.47 1940.3v-1.39M1180.87 1940.3v-2.92M1599.03 1940.3v-1.58M1419.73 1940.3v-3.18M1529.21 1940.3v-1.36M1825.51 1940.3v-2.37M2005.1 1940.3v-1.05M1497.17 1940.3v-2.77M1857.11 1940.3v-2.99M1069.72 1940.3v-1.5M1147.31 1940.3v-1.25M1987.4 1940.3v-2.2M1945.29 1940.3v-1.69M1882.27 1940.3v-1.88M1285.79 1940.3v-2.67M1960.57 1940.3v-1.05M1616.61 1940.3v-2.29M1244.16 1940.3v-1.68M1169.11 1940.3v-1.29M1280.84 1940.3v-2.24M1671.22 1940.3v-1.29" stroke="#a02020" stroke-width="1" fill="none" stroke-opacity="0.8"/>
<line x1="1013.2" y1="2097.3" x2="2014.6" y2="2097.3" stroke="#a8aec8" stroke-width="1"/>
<path d="M1238 2097 L1239.5 2089 L1241.5 2083 L1242.6 2061 L1243.3 2054 L1244.2 2067 L1245.5 2077 L1247 2081 L1248.5 2071 L1250.6 2066 L1251.8 2079 L1253.5 2087 L1256 2092 L1258.5 2093 L1260.5 2085 L1262.2 2063 L1263.3 2054 L1264.3 2061 L1265.6 2079 L1267 2091 L1269.5 2097Z" fill="#1d55e6"/>
<path d="M1111.46 2097v-3.64M1196.82 2097v-2.93M1149.96 2097v-3.02M1211.8 2097v-4.74M1118.1 2097v-2.51M1160.6 2097v-4.75M1191.82 2097v-2.46M1130.95 2097v-5.48M1162.45 2097v-3.42M1149.37 2097v-6.77M1149.98 2097v-4.83M1155.72 2097v-4.08M1220.62 2097v-6.98M1156.56 2097v-2.99M1203.19 2097v-3.02M1110.75 2097v-6.51M1164.24 2097v-6.1M1162 2097v-6.41M1221.13 2097v-4.14M1205.52 2097v-6.86M1227.42 2097v-9.37M1208.12 2097v-7.36M1217.98 2097v-6.53M1210.11 2097v-4.98M1223.24 2097v-9.48M1208.81 2097v-6.43M1233.17 2097v-9.77M1211.91 2097v-3.89M1238.01 2097v-9.83M1221.9 2097v-3.37M1237.42 2097v-5.72M1236.65 2097v-7.34M1459.65 2097v-3.12M1450.74 2097v-3.55M1363.03 2097v-7.92M1460.71 2097v-3.28M1320.17 2097v-4.8M1389.12 2097v-4.69M1298.3 2097v-3.73M1436.72 2097v-8.28M1279.45 2097v-5.94M1444.22 2097v-2.27M1462.79 2097v-2.82M1407.89 2097v-5.85M1414.22 2097v-4.14M1366.62 2097v-6.08M1367.92 2097v-6.61M1372.76 2097v-5.07M1275.38 2097v-6.33M1382.59 2097v-3.65M1445.62 2097v-7.46M1375.41 2097v-3.26M1378.84 2097v-2.75M1299.54 2097v-5.01M1291.09 2097v-5.09M1387.34 2097v-2.29M1416.38 2097v-2.58M1438.7 2097v-7.44M1387.64 2097v-2.38M1385.9 2097v-4.65M1488.7 2097v-2.95M1467.13 2097v-8.97M1438.38 2097v-7.7M1314.55 2097v-8.87M1383.13 2097v-8.7M1480.69 2097v-3.16M1451.33 2097v-8.51M1285.07 2097v-4.46M1443.92 2097v-3.11M1476.2 2097v-3.92M1457.59 2097v-3.01M1385.51 2097v-8.44M1317.91 2097v-3.84M1386.38 2097v-4.23M1278.47 2097v-3.27M1307.08 2097v-8.55M1426.33 2097v-8.27M1308.81 2097v-7.49M1296.47 2097v-5.72M1416.35 2097v-4.52M1470.78 2097v-5.89M1403.41 2097v-8.18M1294.06 2097v-8.95M1414.85 2097v-4.76M1453.46 2097v-3.85M1497.81 2097v-6.04M1352.86 2097v-7.35M1371.72 2097v-3.24M1441.03 2097v-2.34M1458.56 2097v-3.78M1417.02 2097v-8.89M1404.75 2097v-6.65M1341.91 2097v-2.01M1277.77 2097v-3.05M1411.69 2097v-5.03M1387.92 2097v-8.27M1300.37 2097v-3.59M1420.21 2097v-2.16M1270.6 2097v-4.48M1294.46 2097v-4.5M1321.58 2097v-6.09M1405.49 2097v-3.43M1413.5 2097v-5.32M1300.99 2097v-8.56M1326.03 2097v-3.05M1292.04 2097v-6.47M1470.4 2097v-7.48M1596.47 2097v-3.85M1502.76 2097v-6.51M1634.96 2097v-4.45M1654.94 2097v-5.11M1724.92 2097v-7.13M1559.64 2097v-8.32M1510.56 2097v-5.72M1597.44 2097v-3.66M1514.01 2097v-7.45M1502.96 2097v-5.86M1725.82 2097v-3M1547.88 2097v-6.26M1621.67 2097v-6.49M1695.21 2097v-3.22M1574.25 2097v-4.1M1511.64 2097v-8.23M1687.91 2097v-7.01M1501.52 2097v-7.91M1678.84 2097v-5.26M1678.02 2097v-5.17M1554.23 2097v-2.74M1555.75 2097v-2.27M1580.52 2097v-7.25M1666.83 2097v-7.92M1670.8 2097v-3.86M1632.91 2097v-5.05M1689.23 2097v-5.66M1563.67 2097v-6.49M1731.63 2097v-3.52M1711.21 2097v-2.11M1562.49 2097v-3.65M1678.53 2097v-8.61M1679.08 2097v-4.29M1711.24 2097v-4.3M1557.4 2097v-8.35M1651.37 2097v-6.85M1659.66 2097v-8.85M1612.68 2097v-7.88M1667.43 2097v-8M1604.93 2097v-7.07M1636.88 2097v-4.15M1550.87 2097v-6.36M1518.67 2097v-8.38M1534.7 2097v-2.19M1525.6 2097v-8.5M1582.77 2097v-2.99M1506.9 2097v-2.29M1666.23 2097v-6.44M1667.28 2097v-7.16M1515.78 2097v-6.13M1587.22 2097v-7.72M1696.7 2097v-8.24M1515.83 2097v-8.07M1719.46 2097v-8.61M1525.71 2097v-3.44M1526.87 2097v-2.24M1703.45 2097v-7.68M1652.2 2097v-7.78M1651.57 2097v-4.01M1523.97 2097v-2.69M1681.77 2097v-3.43M1576.59 2097v-4.97M1505.02 2097v-3.8M1567.82 2097v-7.01M1588.33 2097v-4.25M1731.36 2097v-5.53M1704.33 2097v-6.33M1507.44 2097v-4.89M1604.75 2097v-7.41M1583.23 2097v-6.93M1629.09 2097v-3.52M1706.94 2097v-2.64M1696.75 2097v-3.19M1500.31 2097v-3.41M1682.92 2097v-8.85M1501.05 2097v-5.44M1617.96 2097v-7.58M1544.28 2097v-5.46M1583.32 2097v-7.82M1562.54 2097v-8.61M1839.23 2097v-3.5M1940.67 2097v-5.49M1796.82 2097v-6.46M1789.74 2097v-7.52M1940.11 2097v-7.51M1923.22 2097v-4.49M1867.91 2097v-4.76M1987.26 2097v-2.6M1986.78 2097v-2.18M1820.29 2097v-3.84M1989.9 2097v-5.51M1862.55 2097v-8.19M1826.99 2097v-5.23M1899.7 2097v-7.28M1953.73 2097v-6.52M1855.03 2097v-4.29M1807.9 2097v-7.9M1931.55 2097v-7.19M1811.37 2097v-5.07M1958.72 2097v-6.05M1800.76 2097v-5.23M1985.97 2097v-3.67M1816.74 2097v-4.11M1941.57 2097v-7.91M1807.72 2097v-3.09M1830.41 2097v-4.29M1897.41 2097v-3.13M1850.05 2097v-3.32M2007.94 2097v-7.1M1794.84 2097v-8.74M1794.8 2097v-4.69M2010.06 2097v-7.56M1948.92 2097v-5.04M1817.87 2097v-6.47M1796.08 2097v-3.45M1864.76 2097v-2.24M1867.36 2097v-7.54M1939.2 2097v-5.5M1924.3 2097v-5.24M1804.6 2097v-6.23M1868.75 2097v-7.19M1991.55 2097v-5.01M1910.05 2097v-7.24M1872.76 2097v-3.6M1946.22 2097v-8.16M1958.87 2097v-6.9M1978 2097v-6.76M1926.54 2097v-5.18M1846.38 2097v-6.4M1793.88 2097v-4.94M1960.9 2097v-6.99M1923.63 2097v-3.75M1873.35 2097v-5.19M1921.66 2097v-4.87M1934.76 2097v-8.51M1814.67 2097v-6.58M1959.88 2097v-4.72M1889.52 2097v-8.82M1779.31 2097v-5.8M1809.25 2097v-7.47M1999.5 2097v-5.63M1794.67 2097v-6.02M1902.01 2097v-7.02M1894.97 2097v-6.47M1972.27 2097v-5.65M1870.13 2097v-8.64M1821.26 2097v-6.79M1865.77 2097v-7.34M1799.86 2097v-8.89M1856.74 2097v-2.4M1836.94 2097v-4.8M1773.25 2097v-4.93M1872.61 2097v-6.89M1855.92 2097v-3.86M1824.76 2097v-7.19M1999.34 2097v-5.69M1823.41 2097v-7.61M1865.64 2097v-3.48M1801.55 2097v-7.44M1967.54 2097v-6.44M1884.47 2097v-5.93M1825.14 2097v-8.75M1856.16 2097v-6.47M1969.77 2097v-7.71M1884.22 2097v-4.06M1326 2097v-21M1600.7 2097v-31M1297 2097v-14M1301 2097v-15M1059 2097v-6M1630 2097v-16M1648 2097v-14M1665 2097v-14M1714 2097v-16M1911 2097v-16M1943 2097v-15" stroke="#2a5ae0" stroke-width="1.1" fill="none" stroke-opacity="0.6"/>
<path d="M1569.5 2297.3v-1.44M1850.4 2297.3v-2.24M1867.06 2297.3v-1.94M1400.13 2297.3v-1.89M1449.29 2297.3v-1.65M1032.65 2297.3v-3.53M1306.71 2297.3v-1.86M1326.99 2297.3v-2.68M1451.64 2297.3v-3.23M1678.72 2297.3v-2.27M1943.87 2297.3v-3.99M1086.15 2297.3v-3.9M1921.31 2297.3v-3.74M1168.16 2297.3v-3.91M1653.03 2297.3v-1.05M1041.3 2297.3v-4.33M1675.46 2297.3v-1.88M1129.89 2297.3v-1.5M1259.9 2297.3v-3.72M1370.9 2297.3v-1.53M1919.62 2297.3v-3.77M1195.23 2297.3v-4.12M1628.63 2297.3v-3.73M1687.76 2297.3v-4.13M1805.46 2297.3v-3.94M1224.21 2297.3v-3.42M1552.3 2297.3v-3.6M1461.57 2297.3v-4.09M1576.18 2297.3v-1.93M1260.43 2297.3v-1.49M1515.19 2297.3v-1.2M1489.62 2297.3v-1.51M1513.51 2297.3v-2.74M1560.91 2297.3v-4.02M1036.5 2297.3v-3.94M1490.47 2297.3v-2.97M1684.66 2297.3v-3.94M1398.96 2297.3v-2.47M1975.24 2297.3v-1.26M1656.85 2297.3v-3.23M1058.07 2297.3v-3.13M1701.67 2297.3v-4.26M1355.17 2297.3v-4.44M1532.46 2297.3v-2.7M1913.2 2297.3v-1.12M1736.69 2297.3v-3.19M1363.19 2297.3v-4.02M1390.3 2297.3v-2.66M1547.13 2297.3v-3.7M1237.35 2297.3v-2.52M1445.63 2297.3v-2.94M1843.5 2297.3v-2.03M1844.49 2297.3v-2.41M1525.69 2297.3v-1.95M1528.32 2297.3v-4.41M1674.09 2297.3v-3.77M1355.6 2297.3v-2.11M1324.43 2297.3v-3.05M1654.66 2297.3v-3.74M1069.41 2297.3v-3.53M1901.43 2297.3v-2.91M1078.9 2297.3v-2.05M1036.11 2297.3v-1.66M1936.69 2297.3v-3.13M1677.49 2297.3v-3.76M1925.27 2297.3v-3.14M1636.83 2297.3v-3.19M1715.26 2297.3v-3.09M1700.08 2297.3v-1.74M1686.33 2297.3v-2.6M1780.47 2297.3v-1.35M1208.4 2297.3v-1.13M1792.14 2297.3v-4.2M1675.23 2297.3v-2.29M1839.45 2297.3v-3.75M1583.11 2297.3v-1.9M1327.21 2297.3v-2.48M1343.38 2297.3v-2.51M1661.5 2297.3v-4.27M1083.74 2297.3v-2.99M1068.75 2297.3v-1.42M1827.37 2297.3v-3.01M1933.93 2297.3v-2.56M1043.9 2297.3v-2.35M1612.5 2297.3v-4.28M1995.09 2297.3v-2.66M1435.82 2297.3v-1.36M1664.19 2297.3v-1.74M1179.34 2297.3v-1.05M1034.71 2297.3v-3.39M1149.72 2297.3v-4.38M1116.73 2297.3v-4.04M1156.9 2297.3v-1.06M1737.84 2297.3v-1.85M1751.82 2297.3v-1.66M1079.34 2297.3v-3.71M1732.14 2297.3v-3.99M1748.05 2297.3v-1.3M1648.57 2297.3v-3.48M1483.21 2297.3v-4.26M1279.99 2297.3v-4.38M1735.73 2297.3v-1.04M1044.49 2297.3v-3.28M1834.27 2297.3v-1.28M1336.09 2297.3v-3.55M1193.34 2297.3v-4.01M1508.55 2297.3v-1.21M1391.68 2297.3v-3.01M1461.7 2297.3v-3.37M1172.59 2297.3v-3.79M1387.45 2297.3v-3.26M1649.63 2297.3v-2.46M1409.57 2297.3v-3.75M1959.8 2297.3v-3.75M1587.75 2297.3v-2.02M1089.67 2297.3v-4.41M1722.01 2297.3v-3.9M1356.73 2297.3v-3.12M1991.81 2297.3v-3.91M1621.52 2297.3v-2.08M1451.7 2297.3v-4.11M1400.65 2297.3v-3.4M1622.15 2297.3v-4.14M1824.56 2297.3v-1.99M1031.66 2297.3v-1.92M1445.74 2297.3v-3.05M1832.93 2297.3v-4.11M1071.62 2297.3v-3.92M1828.76 2297.3v-4.04M1592.76 2297.3v-1.96M1867.56 2297.3v-3.82M1703.68 2297.3v-4.2M1371.3 2297.3v-1.3M1574.82 2297.3v-3.79M1227.22 2297.3v-3.63M1946.82 2297.3v-1.82M1627.19 2297.3v-3.37M1487.88 2297.3v-1.72M1280.66 2297.3v-3.63M1809 2297.3v-2.61M1116.3 2297.3v-3.82M1789.81 2297.3v-1.82M1600.32 2297.3v-4.14M1900.93 2297.3v-2.83M1498.96 2297.3v-3.06M1216.13 2297.3v-1.67M1207.8 2297.3v-3.45M1387.02 2297.3v-2.98M1426.05 2297.3v-2.81M1176.62 2297.3v-1.16M2011.19 2297.3v-2.31M1134.42 2297.3v-3.21M1804.75 2297.3v-1.55M1617.66 2297.3v-2.21M1541.15 2297.3v-1.07M1063.04 2297.3v-4.47M1882.23 2297.3v-2.7M1588.11 2297.3v-1.92M1796.72 2297.3v-2.49M1961.36 2297.3v-3.69M1835.73 2297.3v-4.37M1279.93 2297.3v-1.13M1227.77 2297.3v-1.63M1112.32 2297.3v-1.18M1578.46 2297.3v-4.05M1480.95 2297.3v-4.32M1925.36 2297.3v-1.22M1618.5 2297.3v-2.39M1148 2297.3v-4.36M1283.08 2297.3v-2.98M1660.38 2297.3v-4.35M1689.01 2297.3v-2.38M1471.17 2297.3v-1.56M1980.32 2297.3v-4.47M1248.17 2297.3v-1.14M1281.77 2297.3v-2.23M1918.31 2297.3v-4.17M1853.82 2297.3v-1.16M1803.79 2297.3v-3.48M1666.34 2297.3v-4.45M1084.88 2297.3v-1.51M1772.87 2297.3v-4.29M1696.06 2297.3v-2.05M1612 2297.3v-3.65M1133.73 2297.3v-2.13M1282.9 2297.3v-1.43M1503.61 2297.3v-1.59M1264.64 2297.3v-1.5M1696.8 2297.3v-1.04M1735.75 2297.3v-1.68M1065.44 2297.3v-4.25M1247.02 2297.3v-4.27M1882.88 2297.3v-4.11M1167.53 2297.3v-2.57M1125.44 2297.3v-4.25M1858.77 2297.3v-3.2M1475.1 2297.3v-2.19M1839.89 2297.3v-2.67M1648.13 2297.3v-1.5M1248.1 2297.3v-1.2M1732.3 2297.3v-2.94M1172.4 2297.3v-4.05M1292.13 2297.3v-2.44M1183.2 2297.3v-1.95M1856.13 2297.3v-2.17M1195.11 2297.3v-2.72M1342.98 2297.3v-4.16M1142.34 2297.3v-4.43M1085.94 2297.3v-4.13M1687.59 2297.3v-1.74M1499.82 2297.3v-2M1283.67 2297.3v-1.71M1388.45 2297.3v-4.47M2012.12 2297.3v-4.24M1126 2297.3v-2.01M1911.86 2297.3v-1.2M1744.85 2297.3v-2.03M1992.97 2297.3v-1.06M1824.11 2297.3v-2.19M1167.9 2297.3v-1.01M1848.93 2297.3v-2.84M1212.85 2297.3v-2.52M1927.39 2297.3v-1.76M1592.2 2297.3v-1.48M1207.25 2297.3v-3.7M1730.23 2297.3v-1.69M1108 2297.3v-1.31M1628.82 2297.3v-2.73M1299.51 2297.3v-1.72M1632.63 2297.3v-3.48M1828.6 2297.3v-3.04M1229.05 2297.3v-1.23M1750.99 2297.3v-2.43M1740.11 2297.3v-1.19M1827.68 2297.3v-2.17M1858.44 2297.3v-4.03M1515.13 2297.3v-1.05M1925.65 2297.3v-2.67M1888.06 2297.3v-1.93M1213.08 2297.3v-3.91M1391.23 2297.3v-1.57M1395.23 2297.3v-3.08M1034.57 2297.3v-2.82M1468.64 2297.3v-2.8M1148.84 2297.3v-3.5M1833.47 2297.3v-4.03M1345.84 2297.3v-3.49M1405.29 2297.3v-3.63M1090.23 2297.3v-4.05M1968.79 2297.3v-2.73M1535.1 2297.3v-2.86M1558.73 2297.3v-1.07M1981.95 2297.3v-1.78M1209.48 2297.3v-1.36M1276.45 2297.3v-3.86M1059.59 2297.3v-1.34M1717.78 2297.3v-1.68M1047.4 2297.3v-3.1M1597.26 2297.3v-2.83M1721.4 2297.3v-1.36" stroke="#a02020" stroke-width="1.1" fill="none" stroke-opacity="0.85"/>
<line x1="1013.2" y1="2297.9" x2="2014.6" y2="2297.9" stroke="#8a6060" stroke-width="1.2"/>
</g>
<rect x="1121" y="1390.2" width="16" height="5.6" fill="#f01010"/>
<rect x="1261.8" y="1745.3" width="30.8" height="6.2" fill="#f01010"/>
<rect x="1237.7" y="2104.1" width="31.4" height="6.6" fill="#f01010"/>
<rect x="1013.8" y="1226.8" width="6.2" height="156" fill="#1d55e6"/>
<rect x="1013.8" y="1542.3" width="5.6" height="40.2" fill="#7a0c0c"/>
<rect x="946.4" y="1226.8" width="61.8" height="156" fill="#fff" stroke="#4a6cc0" stroke-width="1.9"/>
<rect x="946.4" y="1382.8" width="61.8" height="125.5" fill="#fff" stroke="#4a4a4a" stroke-width="1.9"/>
<rect x="946.4" y="1508.3" width="61.8" height="33.2" fill="#fff" stroke="#6a6a6a" stroke-width="1.4"/>
<rect x="946.4" y="1541.5" width="61.8" height="41" fill="#fff" stroke="#a03a3a" stroke-width="1.6"/>
<text transform="translate(987.3 1302.3) rotate(-90)" font-family='"DejaVu Sans", "Liberation Sans", sans-serif' font-size="34" fill="#0000d8" text-anchor="middle">Liver</text>
<text transform="translate(983.6 1446.05) rotate(-90)" font-family='"DejaVu Sans", "Liberation Sans", sans-serif' font-size="32.8" text-anchor="middle">Refseq</text>
<text x="977" y="1529.2" font-family='"DejaVu Sans", "Liberation Sans", sans-serif' font-size="6.6" fill="#555" text-anchor="middle">Coordinates</text>
<text x="948.6" y="1570.8" font-family='"DejaVu Sans", "Liberation Sans", sans-serif' font-size="26.6" fill="#7a0000">Input</text>
<rect x="1013.8" y="1582.5" width="6.2" height="157.1" fill="#1d55e6"/>
<rect x="1013.8" y="1900" width="5.6" height="40.3" fill="#7a0c0c"/>
<rect x="946.4" y="1582.5" width="61.8" height="157.1" fill="#fff" stroke="#4a6cc0" stroke-width="1.9"/>
<rect x="946.4" y="1739.6" width="61.8" height="125.8" fill="#fff" stroke="#4a4a4a" stroke-width="1.9"/>
<rect x="946.4" y="1865.4" width="61.8" height="33.8" fill="#fff" stroke="#6a6a6a" stroke-width="1.4"/>
<rect x="946.4" y="1899.2" width="61.8" height="41.1" fill="#fff" stroke="#a03a3a" stroke-width="1.6"/>
<text transform="translate(987.3 1658.55) rotate(-90)" font-family='"DejaVu Sans", "Liberation Sans", sans-serif' font-size="34" fill="#0000d8" text-anchor="middle">Liver</text>
<text transform="translate(983.6 1803) rotate(-90)" font-family='"DejaVu Sans", "Liberation Sans", sans-serif' font-size="32.8" text-anchor="middle">Refseq</text>
<text x="977" y="1886.6" font-family='"DejaVu Sans", "Liberation Sans", sans-serif' font-size="6.6" fill="#555" text-anchor="middle">Coordinates</text>
<text x="948.6" y="1928.5" font-family='"DejaVu Sans", "Liberation Sans", sans-serif' font-size="26.6" fill="#7a0000">Input</text>
<rect x="1013.8" y="1940.3" width="6.2" height="157.7" fill="#1d55e6"/>
<rect x="1013.8" y="2257.5" width="5.6" height="40.5" fill="#7a0c0c"/>
<rect x="946.4" y="1940.3" width="61.8" height="157.7" fill="#fff" stroke="#4a6cc0" stroke-width="1.9"/>
<rect x="946.4" y="2098" width="61.8" height="125.1" fill="#fff" stroke="#4a4a4a" stroke-width="1.9"/>
<rect x="946.4" y="2223.1" width="61.8" height="33.6" fill="#fff" stroke="#6a6a6a" stroke-width="1.4"/>
<rect x="946.4" y="2256.7" width="61.8" height="42.8" fill="#fff" stroke="#a03a3a" stroke-width="1.6"/>
<text transform="translate(987.3 2016.65) rotate(-90)" font-family='"DejaVu Sans", "Liberation Sans", sans-serif' font-size="34" fill="#0000d8" text-anchor="middle">Liver</text>
<text transform="translate(983.6 2161.05) rotate(-90)" font-family='"DejaVu Sans", "Liberation Sans", sans-serif' font-size="32.8" text-anchor="middle">Refseq</text>
<text x="977" y="2244.2" font-family='"DejaVu Sans", "Liberation Sans", sans-serif' font-size="6.6" fill="#555" text-anchor="middle">Coordinates</text>
<text x="948.6" y="2286" font-family='"DejaVu Sans", "Liberation Sans", sans-serif' font-size="26.6" fill="#7a0000">Input</text>
<text x="1021" y="1266.7" font-family='"DejaVu Sans", "Liberation Sans", sans-serif' font-size="5.5" fill="#4a6ad0" fill-opacity="0.65">-150</text>
<text x="1021" y="1306" font-family='"DejaVu Sans", "Liberation Sans", sans-serif' font-size="5.5" fill="#4a6ad0" fill-opacity="0.65">-100</text>
<text x="1021" y="1345.2" font-family='"DejaVu Sans", "Liberation Sans", sans-serif' font-size="5.5" fill="#4a6ad0" fill-opacity="0.65">-50</text>
<text x="1021" y="1383" font-family='"DejaVu Sans", "Liberation Sans", sans-serif' font-size="5.5" fill="#4a6ad0" fill-opacity="0.65">-0</text>
<text x="1021" y="1229.5" font-family='"DejaVu Sans", "Liberation Sans", sans-serif' font-size="5.5" fill="#4a6ad0" fill-opacity="0.65">-200</text>
<text x="1021" y="1623.5" font-family='"DejaVu Sans", "Liberation Sans", sans-serif' font-size="5.5" fill="#4a6ad0" fill-opacity="0.65">-300</text>
<text x="1021" y="1662" font-family='"DejaVu Sans", "Liberation Sans", sans-serif' font-size="5.5" fill="#4a6ad0" fill-opacity="0.65">-200</text>
<text x="1021" y="1700.7" font-family='"DejaVu Sans", "Liberation Sans", sans-serif' font-size="5.5" fill="#4a6ad0" fill-opacity="0.65">-100</text>
<text x="1021" y="1739.5" font-family='"DejaVu Sans", "Liberation Sans", sans-serif' font-size="5.5" fill="#4a6ad0" fill-opacity="0.65">-0</text>
<text x="1021" y="1586" font-family='"DejaVu Sans", "Liberation Sans", sans-serif' font-size="5.5" fill="#4a6ad0" fill-opacity="0.65">-400</text>
<text x="1021" y="1994.3" font-family='"DejaVu Sans", "Liberation Sans", sans-serif' font-size="5.5" fill="#4a6ad0" fill-opacity="0.65">-20</text>
<text x="1021" y="2046.3" font-family='"DejaVu Sans", "Liberation Sans", sans-serif' font-size="5.5" fill="#4a6ad0" fill-opacity="0.65">-10</text>
<text x="1021" y="2097.5" font-family='"DejaVu Sans", "Liberation Sans", sans-serif' font-size="5.5" fill="#4a6ad0" fill-opacity="0.65">-0</text>
<text x="1021" y="1944" font-family='"DejaVu Sans", "Liberation Sans", sans-serif' font-size="5.5" fill="#4a6ad0" fill-opacity="0.65">-30</text>
<text x="1020.5" y="1558" font-family='"DejaVu Sans", "Liberation Sans", sans-serif' font-size="5.5" fill="#8a2a2a" fill-opacity="0.65">-20</text>
<text x="1020.5" y="1572" font-family='"DejaVu Sans", "Liberation Sans", sans-serif' font-size="5.5" fill="#8a2a2a" fill-opacity="0.65">-10</text>
<text x="1020.5" y="1546.5" font-family='"DejaVu Sans", "Liberation Sans", sans-serif' font-size="5.5" fill="#8a2a2a" fill-opacity="0.65">-30</text>
<text x="1020.5" y="1915.7" font-family='"DejaVu Sans", "Liberation Sans", sans-serif' font-size="5.5" fill="#8a2a2a" fill-opacity="0.65">-20</text>
<text x="1020.5" y="1929.7" font-family='"DejaVu Sans", "Liberation Sans", sans-serif' font-size="5.5" fill="#8a2a2a" fill-opacity="0.65">-10</text>
<text x="1020.5" y="1904.2" font-family='"DejaVu Sans", "Liberation Sans", sans-serif' font-size="5.5" fill="#8a2a2a" fill-opacity="0.65">-30</text>
<text x="1020.5" y="2273.2" font-family='"DejaVu Sans", "Liberation Sans", sans-serif' font-size="5.5" fill="#8a2a2a" fill-opacity="0.65">-20</text>
<text x="1020.5" y="2287.2" font-family='"DejaVu Sans", "Liberation Sans", sans-serif' font-size="5.5" fill="#8a2a2a" fill-opacity="0.65">-10</text>
<text x="1020.5" y="2261.7" font-family='"DejaVu Sans", "Liberation Sans", sans-serif' font-size="5.5" fill="#8a2a2a" fill-opacity="0.65">-30</text>
<g font-family='"Liberation Mono", monospace' font-size="7.6" fill="#333" clip-path="url(#tclip)">
<line x1="1013.2" y1="1524.7" x2="2014.6" y2="1524.7" stroke="#222" stroke-width="1.4"/>
<text x="1029.1" y="1521.5">135,560,000</text>
<text x="1117.15" y="1521.5">135,565,000</text>
<text x="1205.2" y="1521.5">135,570,000</text>
<text x="1293.25" y="1521.5">135,575,000</text>
<text x="1381.3" y="1521.5">135,580,000</text>
<text x="1469.35" y="1521.5">135,585,000</text>
<text x="1557.4" y="1521.5">135,590,000</text>
<text x="1645.45" y="1521.5">135,595,000</text>
<text x="1733.5" y="1521.5">135,600,000</text>
<text x="1821.55" y="1521.5">135,605,000</text>
<text x="1909.6" y="1521.5">135,610,000</text>
<text x="1997.65" y="1521.5">135,615,000</text>
<path d="M1028.6 1524.2v3M1116.65 1524.2v3M1204.7 1524.2v3M1292.75 1524.2v3M1380.8 1524.2v3M1468.85 1524.2v3M1556.9 1524.2v3M1644.95 1524.2v3M1733 1524.2v3M1821.05 1524.2v3M1909.1 1524.2v3M1997.15 1524.2v3" stroke="#222" stroke-width="1.2" fill="none"/>
<line x1="1013.2" y1="1882.2" x2="2014.6" y2="1882.2" stroke="#222" stroke-width="1.4"/>
<text x="1018.7" y="1879">88,936,000</text>
<text x="1136.45" y="1879">88,938,000</text>
<text x="1254.2" y="1879">88,940,000</text>
<text x="1371.95" y="1879">88,942,000</text>
<text x="1489.7" y="1879">88,944,000</text>
<text x="1607.45" y="1879">88,946,000</text>
<text x="1725.2" y="1879">88,948,000</text>
<text x="1842.95" y="1879">88,950,000</text>
<text x="1960.7" y="1879">88,952,000</text>
<path d="M1018.2 1881.7v3M1135.95 1881.7v3M1253.7 1881.7v3M1371.45 1881.7v3M1489.2 1881.7v3M1606.95 1881.7v3M1724.7 1881.7v3M1842.45 1881.7v3M1960.2 1881.7v3" stroke="#222" stroke-width="1.2" fill="none"/>
<line x1="1013.2" y1="2239.9" x2="2014.6" y2="2239.9" stroke="#222" stroke-width="1.4"/>
<text x="1055.6" y="2236.7">155,330,000</text>
<text x="1196.5" y="2236.7">155,340,000</text>
<text x="1337.4" y="2236.7">155,350,000</text>
<text x="1478.3" y="2236.7">155,360,000</text>
<text x="1619.2" y="2236.7">155,370,000</text>
<text x="1760.1" y="2236.7">155,380,000</text>
<text x="1901" y="2236.7">155,390,000</text>
<path d="M1055.1 2239.4v3M1196 2239.4v3M1336.9 2239.4v3M1477.8 2239.4v3M1618.7 2239.4v3M1759.6 2239.4v3M1900.5 2239.4v3" stroke="#222" stroke-width="1.2" fill="none"/>
</g>
<g filter="url(#tbl)">
<line x1="1432" y1="1496.2" x2="1966" y2="1496.2" stroke="#555" stroke-width="1.1" stroke-dasharray="4.5 1.6"/>
<path d="M1437 1494.7v3M1443.1 1494.7v3M1449.2 1494.7v3M1455.3 1494.7v3M1461.4 1494.7v3M1467.5 1494.7v3M1473.6 1494.7v3M1479.7 1494.7v3M1485.8 1494.7v3M1491.9 1494.7v3M1498 1494.7v3M1504.1 1494.7v3M1510.2 1494.7v3M1516.3 1494.7v3M1522.4 1494.7v3M1528.5 1494.7v3M1534.6 1494.7v3M1540.7 1494.7v3M1546.8 1494.7v3M1552.9 1494.7v3M1559 1494.7v3M1565.1 1494.7v3M1571.2 1494.7v3M1577.3 1494.7v3M1583.4 1494.7v3M1589.5 1494.7v3M1595.6 1494.7v3M1601.7 1494.7v3M1607.8 1494.7v3M1613.9 1494.7v3M1620 1494.7v3M1626.1 1494.7v3M1632.2 1494.7v3M1638.3 1494.7v3M1644.4 1494.7v3M1650.5 1494.7v3M1656.6 1494.7v3M1662.7 1494.7v3M1668.8 1494.7v3M1674.9 1494.7v3M1681 1494.7v3M1687.1 1494.7v3M1693.2 1494.7v3M1699.3 1494.7v3M1705.4 1494.7v3M1711.5 1494.7v3M1717.6 1494.7v3M1723.7 1494.7v3M1729.8 1494.7v3M1735.9 1494.7v3M1742 1494.7v3M1748.1 1494.7v3M1754.2 1494.7v3M1760.3 1494.7v3M1766.4 1494.7v3M1772.5 1494.7v3M1778.6 1494.7v3M1784.7 1494.7v3M1790.8 1494.7v3M1796.9 1494.7v3M1803 1494.7v3M1809.1 1494.7v3M1815.2 1494.7v3M1821.3 1494.7v3M1827.4 1494.7v3M1833.5 1494.7v3M1839.6 1494.7v3M1845.7 1494.7v3M1851.8 1494.7v3M1857.9 1494.7v3M1864 1494.7v3M1870.1 1494.7v3M1876.2 1494.7v3M1882.3 1494.7v3M1888.4 1494.7v3M1894.5 1494.7v3M1900.6 1494.7v3M1906.7 1494.7v3M1912.8 1494.7v3M1918.9 1494.7v3M1925 1494.7v3M1931.1 1494.7v3M1937.2 1494.7v3M1943.3 1494.7v3M1949.4 1494.7v3M1955.5 1494.7v3M1961.6 1494.7v3" stroke="#444" stroke-width="0.9" fill="none"/>
<rect x="1429.8" y="1487.7" width="4.8" height="17" fill="#000"/>
<rect x="1548.4" y="1488" width="1.5" height="16.4" fill="#000"/>
<rect x="1687.3" y="1488" width="1.4" height="16.4" fill="#000"/>
<rect x="1690.6" y="1488" width="1.4" height="16.4" fill="#000"/>
<rect x="1696.9" y="1488.2" width="1" height="16" fill="#777"/>
<rect x="1724.9" y="1488" width="2.1" height="16.4" fill="#000"/>
<rect x="1729" y="1488" width="2.2" height="16.4" fill="#000"/>
<rect x="1810.3" y="1488" width="2.3" height="16.4" fill="#000"/>
<rect x="1877.5" y="1488" width="8.7" height="16.4" fill="#000"/>
<rect x="1891.2" y="1488" width="1.6" height="16.4" fill="#000"/>
<rect x="1895.2" y="1488" width="1.6" height="16.4" fill="#000"/>
<rect x="1898.5" y="1488" width="1.6" height="16.4" fill="#000"/>
<rect x="1901.9" y="1488" width="1.6" height="16.4" fill="#000"/>
<rect x="1905.9" y="1488" width="1.6" height="16.4" fill="#000"/>
<rect x="1915" y="1488" width="2.2" height="16.4" fill="#000"/>
<rect x="1931.2" y="1488" width="1.5" height="16.4" fill="#000"/>
<path d="M1963.8 1490.6 H1977 L1983.4 1496.2 L1977 1501.8 H1963.8Z" fill="#000"/>
<rect x="1963.2" y="1488.2" width="2.2" height="16" fill="#000"/>
<line x1="1286" y1="1811" x2="1806" y2="1811" stroke="#555" stroke-width="1.1" stroke-dasharray="4.5 1.6"/>
<path d="M1291 1809.5v3M1297.1 1809.5v3M1303.2 1809.5v3M1309.3 1809.5v3M1315.4 1809.5v3M1321.5 1809.5v3M1327.6 1809.5v3M1333.7 1809.5v3M1339.8 1809.5v3M1345.9 1809.5v3M1352 1809.5v3M1358.1 1809.5v3M1364.2 1809.5v3M1370.3 1809.5v3M1376.4 1809.5v3M1382.5 1809.5v3M1388.6 1809.5v3M1394.7 1809.5v3M1400.8 1809.5v3M1406.9 1809.5v3M1413 1809.5v3M1419.1 1809.5v3M1425.2 1809.5v3M1431.3 1809.5v3M1437.4 1809.5v3M1443.5 1809.5v3M1449.6 1809.5v3M1455.7 1809.5v3M1461.8 1809.5v3M1467.9 1809.5v3M1474 1809.5v3M1480.1 1809.5v3M1486.2 1809.5v3M1492.3 1809.5v3M1498.4 1809.5v3M1504.5 1809.5v3M1510.6 1809.5v3M1516.7 1809.5v3M1522.8 1809.5v3M1528.9 1809.5v3M1535 1809.5v3M1541.1 1809.5v3M1547.2 1809.5v3M1553.3 1809.5v3M1559.4 1809.5v3M1565.5 1809.5v3M1571.6 1809.5v3M1577.7 1809.5v3M1583.8 1809.5v3M1589.9 1809.5v3M1596 1809.5v3M1602.1 1809.5v3M1608.2 1809.5v3M1614.3 1809.5v3M1620.4 1809.5v3M1626.5 1809.5v3M1632.6 1809.5v3M1638.7 1809.5v3M1644.8 1809.5v3M1650.9 1809.5v3M1657 1809.5v3M1663.1 1809.5v3M1669.2 1809.5v3M1675.3 1809.5v3M1681.4 1809.5v3M1687.5 1809.5v3M1693.6 1809.5v3M1699.7 1809.5v3M1705.8 1809.5v3M1711.9 1809.5v3M1718 1809.5v3M1724.1 1809.5v3M1730.2 1809.5v3M1736.3 1809.5v3M1742.4 1809.5v3M1748.5 1809.5v3M1754.6 1809.5v3M1760.7 1809.5v3M1766.8 1809.5v3M1772.9 1809.5v3M1779 1809.5v3M1785.1 1809.5v3M1791.2 1809.5v3M1797.3 1809.5v3M1803.4 1809.5v3" stroke="#444" stroke-width="0.9" fill="none"/>
<rect x="1561.2" y="1803" width="4.8" height="16" fill="#000"/>
<rect x="1572.2" y="1803" width="7.5" height="16" fill="#000"/>
<rect x="1588" y="1803" width="10.1" height="16" fill="#000"/>
<rect x="1614.2" y="1803" width="15.2" height="16" fill="#000"/>
<rect x="1636.3" y="1803" width="8.8" height="16" fill="#000"/>
<rect x="1658.5" y="1803" width="8.1" height="16" fill="#000"/>
<rect x="1673.6" y="1803" width="9.1" height="16" fill="#000"/>
<rect x="1768.5" y="1803" width="9.5" height="16" fill="#000"/>
<rect x="1805.4" y="1802.25" width="6.8" height="17.5" fill="#000"/>
<path d="M1811 1806.3 H1866 L1871 1811 L1866 1815.7 H1811Z" fill="#000"/>
<line x1="1260" y1="1853" x2="1806" y2="1853" stroke="#555" stroke-width="1.1" stroke-dasharray="4.5 1.6"/>
<path d="M1265 1851.5v3M1271.1 1851.5v3M1277.2 1851.5v3M1283.3 1851.5v3M1289.4 1851.5v3M1295.5 1851.5v3M1301.6 1851.5v3M1307.7 1851.5v3M1313.8 1851.5v3M1319.9 1851.5v3M1326 1851.5v3M1332.1 1851.5v3M1338.2 1851.5v3M1344.3 1851.5v3M1350.4 1851.5v3M1356.5 1851.5v3M1362.6 1851.5v3M1368.7 1851.5v3M1374.8 1851.5v3M1380.9 1851.5v3M1387 1851.5v3M1393.1 1851.5v3M1399.2 1851.5v3M1405.3 1851.5v3M1411.4 1851.5v3M1417.5 1851.5v3M1423.6 1851.5v3M1429.7 1851.5v3M1435.8 1851.5v3M1441.9 1851.5v3M1448 1851.5v3M1454.1 1851.5v3M1460.2 1851.5v3M1466.3 1851.5v3M1472.4 1851.5v3M1478.5 1851.5v3M1484.6 1851.5v3M1490.7 1851.5v3M1496.8 1851.5v3M1502.9 1851.5v3M1509 1851.5v3M1515.1 1851.5v3M1521.2 1851.5v3M1527.3 1851.5v3M1533.4 1851.5v3M1539.5 1851.5v3M1545.6 1851.5v3M1551.7 1851.5v3M1557.8 1851.5v3M1563.9 1851.5v3M1570 1851.5v3M1576.1 1851.5v3M1582.2 1851.5v3M1588.3 1851.5v3M1594.4 1851.5v3M1600.5 1851.5v3M1606.6 1851.5v3M1612.7 1851.5v3M1618.8 1851.5v3M1624.9 1851.5v3M1631 1851.5v3M1637.1 1851.5v3M1643.2 1851.5v3M1649.3 1851.5v3M1655.4 1851.5v3M1661.5 1851.5v3M1667.6 1851.5v3M1673.7 1851.5v3M1679.8 1851.5v3M1685.9 1851.5v3M1692 1851.5v3M1698.1 1851.5v3M1704.2 1851.5v3M1710.3 1851.5v3M1716.4 1851.5v3M1722.5 1851.5v3M1728.6 1851.5v3M1734.7 1851.5v3M1740.8 1851.5v3M1746.9 1851.5v3M1753 1851.5v3M1759.1 1851.5v3M1765.2 1851.5v3M1771.3 1851.5v3M1777.4 1851.5v3M1783.5 1851.5v3M1789.6 1851.5v3M1795.7 1851.5v3M1801.8 1851.5v3" stroke="#444" stroke-width="0.9" fill="none"/>
<rect x="1561.2" y="1845" width="4.8" height="16" fill="#000"/>
<rect x="1572.2" y="1845" width="7.5" height="16" fill="#000"/>
<rect x="1588" y="1845" width="10.1" height="16" fill="#000"/>
<rect x="1614.2" y="1845" width="15.2" height="16" fill="#000"/>
<rect x="1636.3" y="1845" width="8.8" height="16" fill="#000"/>
<rect x="1658.5" y="1845" width="8.1" height="16" fill="#000"/>
<rect x="1673.6" y="1845" width="9.1" height="16" fill="#000"/>
<rect x="1768.5" y="1845" width="9.5" height="16" fill="#000"/>
<rect x="1805.4" y="1844.25" width="6.8" height="17.5" fill="#000"/>
<path d="M1811 1848.3 H1866 L1871 1853 L1866 1857.7 H1811Z" fill="#000"/>
<rect x="1285.6" y="1803.5" width="1.2" height="15" fill="#333"/>
<rect x="1320.5" y="1803" width="10" height="16" fill="#000"/>
<rect x="1320.5" y="1845" width="10" height="16" fill="#000"/>
<rect x="1257.4" y="1845.4" width="6.6" height="15.2" fill="#000" rx="2.5"/>
<line x1="1251" y1="2211" x2="1870" y2="2211" stroke="#555" stroke-width="1.1" stroke-dasharray="4.5 1.6"/>
<path d="M1256 2209.5v3M1262.1 2209.5v3M1268.2 2209.5v3M1274.3 2209.5v3M1280.4 2209.5v3M1286.5 2209.5v3M1292.6 2209.5v3M1298.7 2209.5v3M1304.8 2209.5v3M1310.9 2209.5v3M1317 2209.5v3M1323.1 2209.5v3M1329.2 2209.5v3M1335.3 2209.5v3M1341.4 2209.5v3M1347.5 2209.5v3M1353.6 2209.5v3M1359.7 2209.5v3M1365.8 2209.5v3M1371.9 2209.5v3M1378 2209.5v3M1384.1 2209.5v3M1390.2 2209.5v3M1396.3 2209.5v3M1402.4 2209.5v3M1408.5 2209.5v3M1414.6 2209.5v3M1420.7 2209.5v3M1426.8 2209.5v3M1432.9 2209.5v3M1439 2209.5v3M1445.1 2209.5v3M1451.2 2209.5v3M1457.3 2209.5v3M1463.4 2209.5v3M1469.5 2209.5v3M1475.6 2209.5v3M1481.7 2209.5v3M1487.8 2209.5v3M1493.9 2209.5v3M1500 2209.5v3M1506.1 2209.5v3M1512.2 2209.5v3M1518.3 2209.5v3M1524.4 2209.5v3M1530.5 2209.5v3M1536.6 2209.5v3M1542.7 2209.5v3M1548.8 2209.5v3M1554.9 2209.5v3M1561 2209.5v3M1567.1 2209.5v3M1573.2 2209.5v3M1579.3 2209.5v3M1585.4 2209.5v3M1591.5 2209.5v3M1597.6 2209.5v3M1603.7 2209.5v3M1609.8 2209.5v3M1615.9 2209.5v3M1622 2209.5v3M1628.1 2209.5v3M1634.2 2209.5v3M1640.3 2209.5v3M1646.4 2209.5v3M1652.5 2209.5v3M1658.6 2209.5v3M1664.7 2209.5v3M1670.8 2209.5v3M1676.9 2209.5v3M1683 2209.5v3M1689.1 2209.5v3M1695.2 2209.5v3M1701.3 2209.5v3M1707.4 2209.5v3M1713.5 2209.5v3M1719.6 2209.5v3M1725.7 2209.5v3M1731.8 2209.5v3M1737.9 2209.5v3M1744 2209.5v3M1750.1 2209.5v3M1756.2 2209.5v3M1762.3 2209.5v3M1768.4 2209.5v3M1774.5 2209.5v3M1780.6 2209.5v3M1786.7 2209.5v3M1792.8 2209.5v3M1798.9 2209.5v3M1805 2209.5v3M1811.1 2209.5v3M1817.2 2209.5v3M1823.3 2209.5v3M1829.4 2209.5v3M1835.5 2209.5v3M1841.6 2209.5v3M1847.7 2209.5v3M1853.8 2209.5v3M1859.9 2209.5v3M1866 2209.5v3" stroke="#444" stroke-width="0.9" fill="none"/>
<rect x="1249.6" y="2202.5" width="2.3" height="17" fill="#000"/>
<rect x="1305" y="2202.5" width="2" height="17" fill="#000"/>
<rect x="1688" y="2202.8" width="1.4" height="16.4" fill="#000"/>
<rect x="1691.3" y="2202.8" width="1.4" height="16.4" fill="#000"/>
<rect x="1700" y="2202.8" width="1.4" height="16.4" fill="#000"/>
<rect x="1783.6" y="2202.8" width="1.4" height="16.4" fill="#000"/>
<rect x="1789.6" y="2202.8" width="1.4" height="16.4" fill="#000"/>
<rect x="1794.6" y="2202.8" width="1.4" height="16.4" fill="#000"/>
<rect x="1799.7" y="2202.8" width="1.4" height="16.4" fill="#000"/>
<rect x="1820.8" y="2202.8" width="1.4" height="16.4" fill="#000"/>
<rect x="1849.3" y="2202.8" width="1.4" height="16.4" fill="#000"/>
<rect x="1856" y="2202.8" width="1.4" height="16.4" fill="#000"/>
<rect x="1695.9" y="2203" width="1" height="16" fill="#666"/>
<rect x="1704.9" y="2203" width="1" height="16" fill="#666"/>
<rect x="1803.2" y="2203" width="1" height="16" fill="#666"/>
<rect x="1806.5" y="2203" width="1" height="16" fill="#666"/>
<rect x="1866.5" y="2203" width="1" height="16" fill="#666"/>
<path d="M1869 2206 H1874.5 L1879.6 2211 L1874.5 2216 H1869Z" fill="#000"/>
</g>
<text x="1665.5" y="1458.3" font-family='"DejaVu Sans", "Liberation Sans", sans-serif' font-size="33.3">Mlxipl</text>
<text x="1585.5" y="1782.2" font-family='"DejaVu Sans", "Liberation Sans", sans-serif' font-size="33.3">Pklr</text>
<text x="1504.5" y="2184.5" font-family='"DejaVu Sans", "Liberation Sans", sans-serif' font-size="33">Acss2</text>
<text x="0.5" y="29.7" font-family='"DejaVu Sans", "Liberation Sans", sans-serif' font-size="42.5" font-weight="bold">a</text>
<text x="-0.3" y="617.5" font-family='"DejaVu Sans", "Liberation Sans", sans-serif' font-size="42.5" font-weight="bold">b</text>
<text x="1232.6" y="30.2" font-family='"DejaVu Sans", "Liberation Sans", sans-serif' font-size="42.5" font-weight="bold">c</text>
<text x="1228.6" y="616.8" font-family='"DejaVu Sans", "Liberation Sans", sans-serif' font-size="42.5" font-weight="bold">d</text>
<text x="-1.4" y="1243.2" font-family='"DejaVu Sans", "Liberation Sans", sans-serif' font-size="42.5" font-weight="bold">e</text>
<text x="890" y="1243.2" font-family='"DejaVu Sans", "Liberation Sans", sans-serif' font-size="42.5" font-weight="bold">f</text>
</svg>
</body>
</html>
